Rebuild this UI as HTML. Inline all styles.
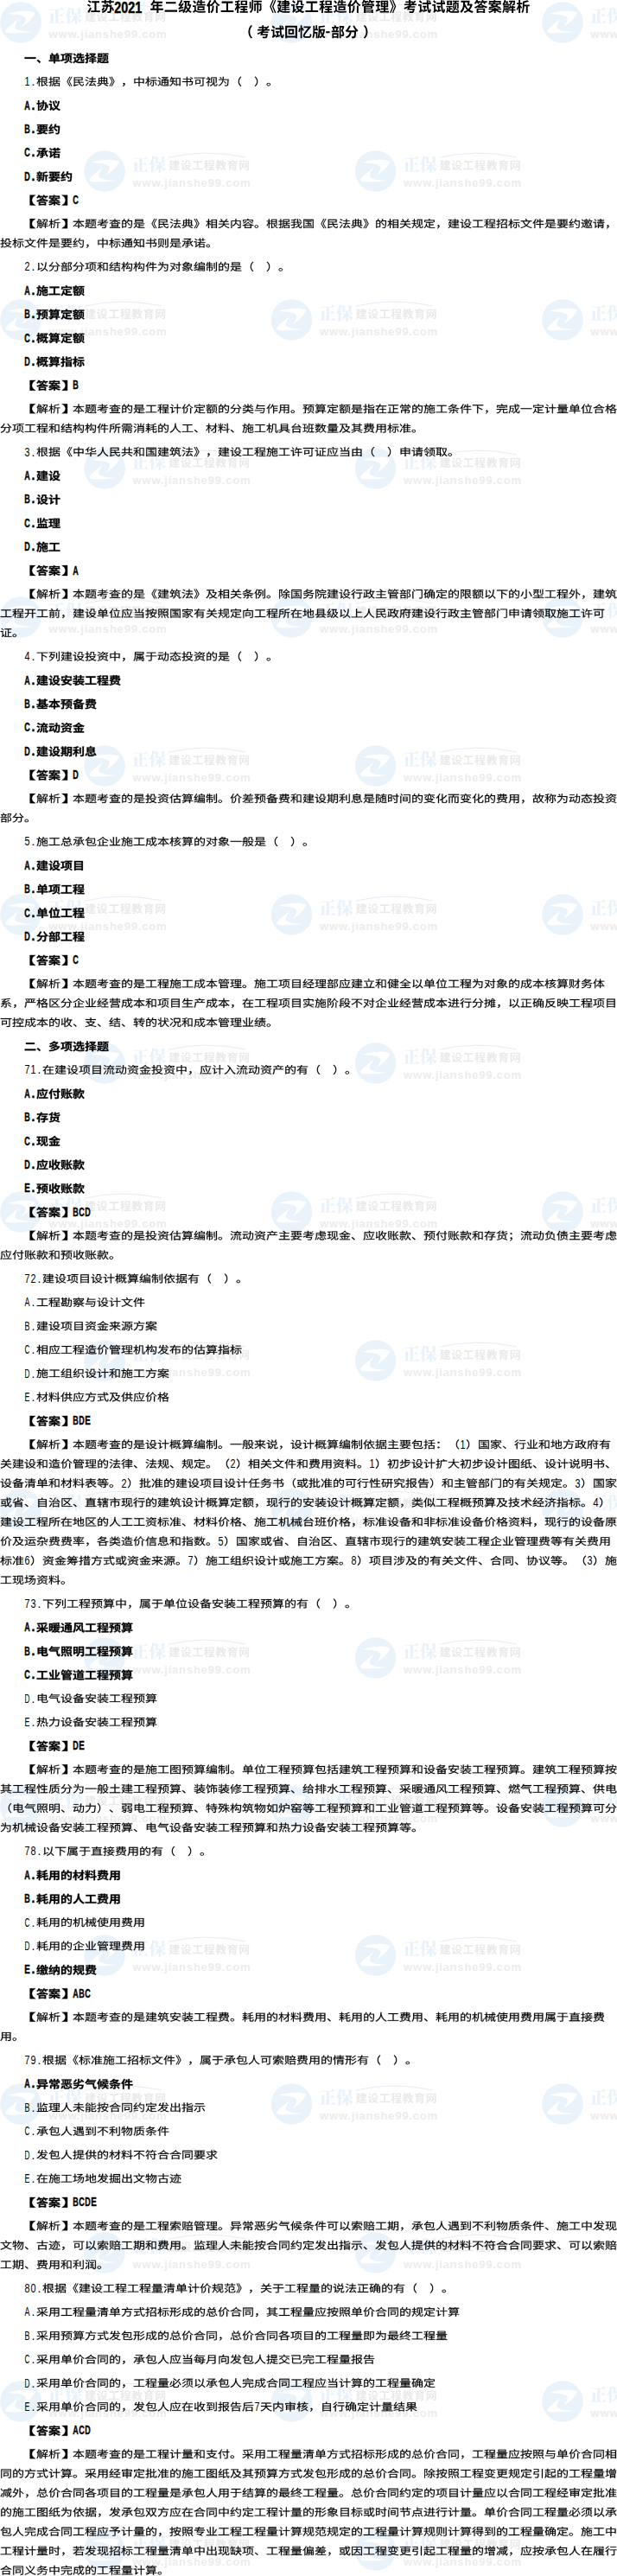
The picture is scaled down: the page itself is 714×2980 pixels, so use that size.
<!DOCTYPE html><html lang="zh-CN"><head><meta charset="utf-8"><title>江苏2021年二级造价工程师《建设工程造价管理》考试试题及答案解析</title><style>*{margin:0;padding:0}
html,body{width:714px;height:2980px;overflow:hidden;background:#fff}
svg{position:absolute;left:0;top:0;display:block}
text{font-family:"Liberation Sans",sans-serif}
.lr{font-size:14px;fill:#000}
.lb{font-size:14px;font-weight:700;fill:#000;stroke:#000;stroke-width:.4px}
.s{stroke:#000;stroke-width:1.5}
.k{stroke:#000;stroke-width:2}
.ww{font-size:13px;font-weight:700;letter-spacing:.8px;fill:#ececec}
</style></head><body><svg width="714" height="2980" viewBox="0 0 714 2980"><defs><path id="a" d="M4-46v14h92v-14z"/><path id="b" d="M26 7l10-9l-10-11l-12-11l-10 9l11 10z"/><path id="c" d="M25-42h19v7h-19zM56-42h19v7h-19zM25-58h19v7h-19zM56-58h19v7h-19zM68-84l-8 16h-22l4-2l-10-15l-10 5l8 12h-16v42h30v7h-39v11h39v17h12v-17h40v-11h-40v-7h31v-42h-14l9-12z"/><path id="d" d="M60-48v20l-1 8l-4 7l-9 7l-16 6l8 9l17-7l10-9l6-10l1-11v-20zM69-7l21 15l8-8l-22-14zM2-21l3 13l34-12l-2-10l-10 3v-36h10v-11h-33v11h11v39zM41-63v48h12v-37h26v36h12v-47h-23l4-7h24v-11h-58v11h20l-2 7z"/><path id="e" d="M4-75l9 8l6 8l10-7l-7-8l-8-8zM42-82l-5 13l-7 10l10 7l7-10h12v11h-27v11h16l-1 7l-4 6l-5 5l-8 4l7 10l10-6l7-7l4-9l2-10h7v24l2 4l3 3h6h13l3-3l2-5l1-8l-10-5l-1 10h-6l-1-3v-17h17v-11h-25v-11h21v-10h-21v-12h-12v12h-8l3-7zM27-46h-22v11h11v25l-13 10l8 10l8-8l4-3l3-1l9 5l12 4l15 1l32-1l3-12l-27 2l-22-1l-11-3l-10-6z"/><path id="f" d="M15-85v19h-11v11h11v17l-12 4l2 11l10-3v22l-1 2h-9l3 11l11-1l4-1l2-3l2-8v-25l10-3l-1-11l-9 2v-14h11v-11h-11v-19zM76-70l-10 9l-8-9zM40-81v11h6l5 7l7 7l-12 6l-11 4l6 9l13-5l12-6l12 6l13 5l8-10l-13-3l-11-5l10-11l7-12l-7-3zM60-42v8h-19v11h19v7h-24v10h24v15h12v-15h24v-10h-24v-7h18v-11h-18v-8z"/><path id="g" d="M20-61h14v5h-14zM20-73h14v5h-14zM9-81v33h37v-33zM68-52l-1 16l-3 11l-6 9l-12 5l5 8l14-7l8-10l4-14l1-18zM73-17l17 14l7-7l-17-13zM9-30l-1 19l-2 8l-4 6l8 6l3-4l3-11l7 7l9 4l10 2h13h39l4-10h-49l-16-2v-12h15v-8h-15v-8h17v-9h-46v9h19v23l-5-8l1-11zM53-64v42h9v-34h21v33h10v-41h-18l3-7h18v-10h-46v10h16l-2 7z"/><path id="h" d="M20-84v19h-15v7h15l-7 21l-9 17l4 8l6-13l6-16v49h7v-52l7 14l5-5l-12-18v-5h12v-7h-12v-19zM80-55v13h-30v-13zM80-61h-30v-12h30zM43 8l26-8v-6l-19 4v-34h10l5 15l7 12l8 9l11 7l5-6l-11-7l-9-9l18-12l-6-5l-15 11l-6-15h21v-44h-45v76l-1 4l-2 2z"/><path id="i" d="M48-24v32h7v-4h31v4h7v-32h-20v-12h23v-7h-23v-11h19v-26h-52l-1 43l-1 14l-4 14l-6 13l6 4l6-10l3-11l3-23h20v12zM47-73h38v13h-38zM47-54h19v11h-19zM55-2v-15h31v15zM17-84v20h-13v7h13v22l-14 4l2 7l12-3v26l-2 1h-9l2 7h9l3-1l3-3l1-4v-29l11-3l-1-7l-10 3v-20h11v-7h-11v-20z"/><path id="j" d="M81 7l-22-45l22-45l-6-2l-22 47l22 47zM96 7l-21-45l21-45l-5-2l-22 47l22 47z"/><path id="k" d="M11 8l36-11l-1-7l-27 7v-24h31l5 13l7 11l9 7l9 3l5-1l4-3l2-6l1-9l-6-3l-1 8l-2 5l-2 2l-7-2l-6-6l-6-8l-4-11h32v-7h-34l-3-16h30v-29h-71v73l-2 5l-3 3zM48-34h-29v-16h27zM19-72h56v15h-56z"/><path id="l" d="M10-78l10 6l8 6l5-6l-9-6l-10-5zM4-50l10 5l9 5l4-6l-9-5l-10-5zM8 2l6 5l4-8l14-25l-5-5zM39 4l9-1l35-5l5 10l6-4l-7-13l-11-15l-6 3l9 13l-31 3l9-14l8-15h29v-8h-27v-18h23v-7h-23v-17h-7v17h-22v7h22v18h-26v8h22l-11 21l-6 8l-3 2z"/><path id="m" d="M59-9l28 17l7-5l-13-9l-16-8zM34-14l-13 9l-16 8l6 5l16-8l14-9zM36-23h-15v-18h15zM43-23v-18h14v18zM64-23v-18h15v18zM14-72v49h-10v7h92v-7h-9v-49h-23v-12h-7v12h-14v-12h-7v12zM36-48h-15v-17h15zM43-48v-17h14v17zM64-48v-17h15v17z"/><path id="n" d="M19 7l6 2l22-47l-22-47l-6 2l22 45zM4 7l5 2l22-47l-22-47l-5 2l21 45z"/><path id="o" d="M16 11l7-4l5-5l4-6l1-8l-1-6l-3-4l-5-2l-3 1l-3 3l-1 4l1 4l3 2l5 1l-1 4l-3 4l-3 4l-5 2z"/><path id="p" d="M46-84v18h-36v47h7v-6h29v33h8v-33h28v6h8v-47h-36v-18zM17-32v-27h29v27zM82-32h-28v-27h28z"/><path id="q" d="M47-76v7h43v-7zM78-32l7 16l4 14l7-2l-5-15l-7-15zM49-34l-5 15l-8 13l6 4l8-14l6-17zM42-52v7h22v43l-2 2h-12l3 8l14-2l3-3l1-5v-43h25v-7zM20-84v21h-15v7h14l-7 19l-10 15l5 8l7-13l6-15v50h8v-52l9 14l4-6l-13-17v-3h13v-7h-13v-21z"/><path id="r" d="M6-76l18 18l5-6l-17-16zM26-46h-22v7h14v28l-7 5l-7 7l5 6l7-9l3-3l3-1l15 9l7 2l16 1l35-1l2-8l-28 2l-24-1l-6-1l-6-3l-7-5zM36-80v6h43l-15 8l-14-6l-5 5l20 8h-29v52h7v-17h17v16h7v-16h17v9l-1 2h-10l2 6l13-1l3-2l1-5v-44h-13l-8-4l11-6l10-8l-5-4zM84-53v9h-17v-9zM43-39h17v9h-17zM43-44v-9h17v9zM84-39v9h-17v-9z"/><path id="s" d="M55-75v80h7v-8h21v7h8v-79zM62-10v-58h21v58zM16-84l-5 18l-8 14l6 4l9-16h7v20h-21v8h21l-2 10l-4 10l-6 9l-10 9l6 6l7-7l6-7l4-8l3-8l17 21l5-7l-20-22l1-6h20v-8h-19v-20h16v-7h-29l3-12z"/><path id="t" d="M72-76l18 14l5-5l-19-14zM13-66v7h29v19h-36v8h36v40h7v-40h37l-2 16l-2 6l-4 1h-15l2 7h15l5-1l3-2l2-3l2-6l3-26h-15v-26h-31v-18h-7v18zM49-40v-19h24v19z"/><path id="u" d="M6-77v8h69v66l-3 3h-19l3 8l18-1l6-2l2-3v-5v-66h13v-8zM23-48h26v24h-26zM16-55v46h7v-8h34v-38z"/><path id="v" d="M45-79v53h7v-46h31v46h8v-53zM15-80l10 13l6-4l-10-13zM64-65l-1 32l-4 13l-9 12l-15 10l5 6l10-6l8-8l5-7l4-8v19l1 5l3 3h15h5l3-4l2-6v-9l-6-3l-1 14l-1 2l-10 1l-3-1l-1-3v-25h-5l2-12v-25zM6-67v7h24l-5 10l-6 8l-7 8l-8 6l3 8l12-11v39h7v-43l10 13l5-6l-13-14l7-11l5-11l-4-3z"/><path id="w" d="M16-78l11 15l7-3l-11-15zM50-37l8 10l6 10l6-4l-6-9l-8-10zM41-84v24h-33v8h32l-3 13l-6 14l-10 14l-15 12l5 6l17-14l10-15l7-15l3-15h34l-2 36l-2 10l-2 4l-4 2l-16-1l3 8h16l4-1l4-3l3-6l1-10l3-47h-42l1-24z"/><path id="x" d="M70-38l1 14l4 13l6 11l8 10l6-4l-7-9l-6-11l-4-11l-1-13l1-13l4-11l6-11l7-9l-6-4l-8 10l-6 11l-4 13z"/><path id="y" d="M30-38l-1-14l-4-13l-6-11l-8-10l-6 4l7 9l6 11l4 11l1 13l-1 13l-4 11l-6 11l-7 9l6 4l8-10l6-11l4-13z"/><path id="z" d="M19-24l-5 1l-5 3l-4 5l-1 6l1 6l4 5l5 3l5 1l6-1l5-3l4-5l1-6l-1-6l-4-5l-5-3zM19 1l-5-1l-3-4l-2-5l2-5l3-4l5-1l6 1l3 4l2 5l-2 5l-3 4z"/><path id="A" d="M36-48l-3 13l-6 11l9 6l6-12l5-16zM14-85v24h-10v11h10v59h11v-59h10v-11h-10v-24zM52-84v18h-15v11h15l-1 14l-4 15l-7 14l-12 13l9 8l13-15l8-16l4-17l2-16h9l-1 37l-1 9l-2 4l-3 2l-12-1l4 12l13-1l5-1l3-4l2-4l1-8l2-28l4 22l11-2l-7-30l-8 2v-20h-20v-18z"/><path id="B" d="M53-80l5 11l3 11l11-4l-4-11l-5-11zM9-77l11 17l10-7l-12-16zM80-78l-5 27l-5 12l-6 11l-6-11l-5-11l-6-27l-11 1l3 17l5 16l5 13l7 12l-11 10l-14 8l7 10l14-8l12-10l12 10l14 8l9-11l-15-7l-12-10l8-13l5-14l4-15l4-16zM4-54v11h12v30l-1 5l-4 7l6 8l25-19l-4-10l-10 7v-39z"/><path id="C" d="M63-21l-9 9l-18-4l4-5zM11-65v28h25l-3 5h-29v11h22l-9 11l22 5l-15 2l-18 2l4 10l26-3l11-3l9-4l28 10l9-10l-26-7l4-4l6-9h19v-11h-49l2-4l-5-1h46v-28h-24v-6h28v-10h-88v10h26v6zM44-71h11v6h-11zM22-56h10v9h-10zM44-56h11v9h-11zM66-56h12v9h-12z"/><path id="D" d="M3-7l2 11l38-7v-11zM48-38l10 10l8 11l9-8l-8-10l-11-10zM6-41l13-3l-8 10l-4 5l-4 2l4 10l8-2l27-5l-1-10l-19 2l11-12l9-14l-10-6l-6 10l-9 1l9-13l7-14l-11-5l-11 23l-6 8l-3 2zM54-85l-6 20l-4 9l-5 7l10 7l8-14h25l-2 38l-1 9l-2 5l-4 2l-14-1l2 4l1 7h16l5-1l4-4l3-6l3-31l1-33h-33l5-16z"/><path id="E" d="M28-23v10h16v8l-2 2h-13l4 11l15-1l6-3l2-4l1-13h15v-10h-15v-6h10v-10h-10v-5h9v-10h-9v-3l14-9l11-11l-8-6l-55 1v10h41l-16 10v8h-9v10h9v5h-11v10h11v6zM6-61v11h15l-3 13l-4 11l-6 9l-6 8l9 9l8-10l6-14l6-16l3-19l-7-2zM76-63l-10 1l3 19l5 16l6 15l9 11l9-10l-5-5l-5-6l-6-16l14-16l-9-8l-8 12z"/><path id="F" d="M8-76l16 16l8-8l-16-15zM4-54v11h11v29l-1 6l-5 8l7 7l21-15l-2-8l3 4l7-6v27h11v-4h24v4h12v-38h-38l6-9h37v-11h-33l2-9l-8-1v-6h14v7h11v-7h13v-11h-13v-9h-11v9h-14v-9h-12v9h-13v11h13v7h8l-2 9h-20v11h15l-8 10l-9 8l3 2l-6 4v-40zM56-5v-13h24v13z"/><path id="G" d="M11-22l-5 10l-3 4l7 6l6-8l5-10zM35-19l8 15l8-5l-4 10l9 7l5-11l3-12l2-26h10v49h11v-49h10v-11h-31v-16l15-3l13-4l-9-9l-14 5l-16 4v42l-2 16l-2 8l-8-14zM20-65h15l-4 12h-12l5-1zM20-83l2 8h-17v10h14l-8 2l3 10h-10v10h19v8h-19v10h19v21l-1 2l-8-1l3 10h9l4-1l3-4l1-6v-21h16v-10h-16v-8h18v-10h-10l4-11l-9-1h13v-10h-16l-4-11z"/><path id="H" d="M97-85h-31v94h31l-7-9l-7-10l-4-13l-2-15l2-15l4-13l7-10z"/><path id="I" d="M48-62l-8 9l-11 7l-12 7l-14 5l7 10l20-9v4h40v-6l20 9l8-10l-11-4l-22-9l-9-5l3-3zM40-39l10-8l12 8zM20-24v33h12v-3h36v3h12v-33zM32-4v-10h36v10zM18-86l-7 14l-9 11l10 6l10-12h2l5 12l11-4l-4-8h13v-10h-22l3-6zM59-86l-5 12l-7 9l10 6l6-8h4l7 12l11-4l-5-8h15v-10h-27l2-6z"/><path id="J" d="M5-24v10h30l-15 8l-18 4l8 10l18-6l16-10v17h12v-18l16 10l19 7l7-10l-18-5l-15-7h31v-10h-40v-6h-12v6zM41-82l2 4h-36v15h11v-5h22l-5 7h-30v9h22l-10 10l19 3l-14 3l-16 1l4 9l25-3l19-6l29 9l10-8l-27-8l9-10h20v-9h-47l4-5l-8-2h38v5h11v-15h-38l-4-8zM62-52l-9 8l-18-4l4-4z"/><path id="K" d="M34 9v-94h-31l7 9l7 10l4 13l2 15l-2 15l-4 13l-7 10l-7 9z"/><path id="L" d="M26-53v12h-9v-12zM32-53h9v12h-9zM16-59l5-10h13l-4 10zM19-84l-6 18l-5 7l-5 7l6 4l2-2v27l-1 10l-3 9l-4 9l6 3l5-11l2-13h10v19h6v-19h9v15l-2 2h-7l2 6h6l4-1l2-3l1-3v-59h-11l7-13l-5-3h-15l3-8zM26-35v13h-9v-13zM32-35h9v13h-9zM58-46l-3 12l-6 10l6 4l5-10h11v12h-20v7h20v19h7v-19h18v-7h-18v-12h15v-7h-15v-9h-7v9h-8l2-8zM51-79v6h14l-2 7l-3 6l-5 5l-6 5l4 5l8-5l5-7l4-7l2-9h14l-1 13l-1 5l-3 1h-9l2 6h10l3-1l2-2l3-7l1-21z"/><path id="M" d="M48-73v42l-1 12l-3 12l-6 11l6 4l6-12l3-13l2-26h19v51h7v-51h15v-7h-41v-18l19-4l16-5l-6-6l-16 6zM21-84v21h-15v8h14l-7 21l-5 9l-5 7l4 7l7-12l7-16v47h7v-49l9 15l5-6l-14-18v-5h15v-8h-15v-21z"/><path id="N" d="M46-84v21h-40v8h31l-7 12l-8 12l-9 10l-9 7l5 6l11-9l9-11l9-13l6-14h2v37h-23v7h23v19h8v-19h23v-7h-23v-37h1l7 14l8 13l10 11l11 9l5-7l-10-7l-9-10l-8-11l-6-12h31v-8h-40v-21z"/><path id="O" d="M18-62h20v8h-20zM18-74h20v7h-20zM11-80v32h34v-32zM70-53l-2 17l-3 13l-7 9l-12 6l3 5l14-7l8-10l4-14l1-19zM73-19l18 16l4-5l-18-15zM12-30l-2 19l-3 8l-4 7l6 4l4-8l3-10l8 8l10 5l13 2l47 1l2-7h-43l-15-1l-6-2v-15h16v-5h-16v-11h18v-6h-45v6h20v27l-5-6l-2-4l1-12zM54-64v42h6v-36h24v36h7v-42h-19l4-9h20v-6h-46v6h18l-3 9z"/><path id="P" d="M84-79l-12 13l-14 12h-9v-12h22v-6h-22v-12h-7v12h-26v6h26v12h-35v6h41l-21 12l-23 10l4 7l26-13l-7 16h44l-1 8l-2 5l-2 3l-5 1l-18-1l2 7h18h5l4-2l4-8l4-19h-42l4-10h42v-6h-39l15-10h34v-6h-26l11-11l10-11z"/><path id="Q" d="M30-22h40v9h-40zM30-35h40v8h-40zM22-41v33h56v-33zM7-2v7h86v-7zM46-84v13h-40v6h32l-7 7l-9 6l-9 6l-9 4l4 6l11-5l10-7l9-8l8-8v20h7v-20l8 8l10 8l10 6l10 5l5-6l-9-4l-10-5l-8-6l-7-7h32v-6h-41v-13z"/><path id="R" d="M55-42l15 23l7-4l-16-23zM24-84l-4 16h-11v73h7v-7h28v-66h-17l5-15zM16-61h21v21h-21zM16-9v-25h21v25zM60-84l-7 20l-4 9l-5 7l7 4l9-17h26l-3 43l-1 11l-2 5l-5 1h-15l3 7h15l4-1l4-3l2-6l2-12l2-19l1-33h-30l4-15z"/><path id="S" d="M24-61h52v9h-52zM24-74h52v8h-52zM16-80v33h67v-33zM23-30l-3 10l-4 9l-5 8l-7 6l5 5l9-8l7-11l7 9l9 5l11 2l42 1l2-7l-41-1v-13h33v-7h-33v-11h39v-7h-88v7h41v30l-6-2l-5-3l-5-5l-3-6l3-10z"/><path id="T" d="M55-47h30v17h-30zM55-54v-17h30v17zM55-23h30v17h-30zM47-78v85h8v-6h30v6h8v-85zM21-84v21h-16v8h15l-7 21l-5 9l-5 7l4 7l8-13l6-16v48h8v-46l10 15l5-7l-15-16v-9h14v-8h-14v-21z"/><path id="U" d="M22-80l6 9l4 8h-19v8h33v18h-39v7h37l-3 8l-8 8l-11 8l-17 7l5 7l17-7l12-8l8-9l5-8l7 10l9 9l10 7l13 5l5-7l-13-4l-11-7l-9-9l-7-10h38v-7h-40l1-18h33v-8h-20l11-18l-8-3l-11 21h-27l6-3l-4-9l-6-8z"/><path id="V" d="M10-67v75h7v-68h29l-1 11l-4 11l-8 10l-13 10l5 6l9-6l7-7l5-7l4-7l14 13l10 12l6-4l-12-14l-16-14l2-14h29v58l-3 2h-16l3 8l16-1h3l3-3l1-6v-65h-36v-17h-8v17z"/><path id="W" d="M33-63l-11 10l-13 9l5 5l14-9l12-13zM59-59l14 10l12 10l5-5l-12-10l-14-9zM50-54l-9 10l-11 10l-13 8l-13 6l5 6l13-7v29h7v-3h41v3h8v-30l13 7l5-7l-23-11l-10-7l-9-9l2-3zM29-2v-17h41v17zM30-26l11-8l9-10l11 10l11 8zM43-83l4 8h-39v18h8v-11h68v11h8v-18h-36l-5-10z"/><path id="X" d="M70-77l9 8l7 9l6-5l-16-16zM83-43l-6 10l-7 9l-4-23h29v-7h-30l-1-29h-8l1 29h-23v-18l17-4l-5-7l-18 5l-22 4l2 7l19-3v16h-21v7h21v17l-23 5l2 7l21-4v20l-2 3l-14-1l2 8h13l4-1l4-3v-6v-22l19-4l-1-7l-18 4v-16h24l6 29l-12 9l-12 7l5 6l11-6l10-8l4 7l4 6l5 4l6 1l5-1l3-3l2-7l1-10l-6-4l-1 14l-2 3l-1 1l-4-1l-4-4l-6-12l10-12l8-12z"/><path id="Y" d="M59-32l10 11l5-3l-10-11zM23-20v7h55v-7h-25v-16h20v-7h-20v-14h23v-7h-52v7h22v14h-19v7h19v16zM9-80v88h7v-5h68v5h7v-88zM16-4v-68h68v68z"/><path id="Z" d="M48-79v53h7v-46h27v46h8v-53zM21-83v16h-15v7h15v16h-17v7h16l-1 10l-3 11l-5 9l-7 9l5 5l6-7l5-7l6-17l12 17l6-5l-17-20l1-5h15v-7h-15v-16h14v-7h-14v-16zM65-64l-1 31l-4 13l-8 12l-15 10l5 6l10-7l7-7l6-8l4-8v19v6l3 2l14 1l5-1l3-3l1-6l1-10l-6-3l-1 14l-1 2l-9 1l-3-1l-1-3v-25h-4l1-11v-24z"/><path id="ba" d="M22-38l-2 13l-4 11l-5 10l-7 7l6 5l8-10l7-12l8 10l10 6l12 4h38l3-7h-32l-10-1v-20h30v-8h-30v-16h26v-7h-59v7h25v42l-6-3l-5-4l-4-6l-3-7l2-13zM43-83l4 10h-39v22h8v-15h68v15h8v-22h-36l-6-12z"/><path id="bb" d="M39-76v6h19v8h-25v6h25v8h-19v6h19v8h-20v5h20v8h-24v6h24v10h7v-10h29v-6h-29v-8h25v-5h-25v-8h23v-14h6v-6h-6v-14h-23v-8h-7v8zM65-56h16v8h-16zM65-62v-8h16v8zM10-39l4-3h12l-3 12l-3 11l-7-15l-5 2l4 11l5 8l-6 9l-7 7l5 5l7-7l6-8l8 6l11 4l11 2l41 1l3-7l-43-1l-11-2l-9-3l-8-6l5-16l3-19l-4-1h-10l15-27l-5-3l-2 1h-21v7h18l-11 19l-3 5l-3 2z"/><path id="bc" d="M12-78l15 16l5-5l-15-15zM4-53v8h14v35l-1 6l-4 4l5 6l22-17l-3-7l-11 9v-44zM49-80v16l-3 6l-4 6l-8 4l5 6l8-6l6-7l2-7l1-11h18l1 22l2 3l5 1h13l-1-7l-11 1l-2-4v-23zM80-33l-6 11l-9 9l-9-9l-7-11zM38-40v7h6l-2 1l7 13l10 10l-12 7l-13 4l4 6l14-5l13-7l12 7l15 5l4-6l-13-4l-12-7l11-12l5-8l3-9l-4-2z"/><path id="bd" d="M5-7v7h90v-7h-41v-58h36v-8h-80v8h36v58z"/><path id="be" d="M53-73h30v18h-30zM46-80v32h45v-32zM45-21v7h19v13h-26v6h58v-6h-24v-13h20v-7h-20v-12h22v-7h-52v7h22v12zM36-83l-14 5l-18 4l2 5l15-2v15h-16v7h15l-8 18l-9 14l4 7l7-12l7-14v44h8v-43l9 12l4-6l-13-14v-6h12v-7h-12v-17l12-4z"/><path id="bf" d="M17-84v20h-13v7h13v22l-14 4l2 7l12-3v26l-2 2h-9l2 7l9-1l3-1l3-2l1-5v-29l12-4l-1-6l-11 3v-20h12v-7h-12v-20zM42-33v41h7v-5h34v5h8v-41zM49-4v-22h34v22zM39-79v7h17l-2 9l-3 8l-6 7l-9 5l4 6l11-6l6-9l4-9l3-11h20l-1 18l-2 7l-3 1l-10-1l2 7h11h4l2-2l2-4l1-6l2-27z"/><path id="bg" d="M42-82l8 15l8-2l-8-16zM5-66v7h16l10 21l6 10l8 8l-9 6l-10 6l-22 9l4 7l23-10l10-6l9-7l9 7l10 6l11 5l12 4l5-7l-12-3l-10-5l-10-5l-9-7l7-8l6-9l11-22h15v-7zM50-25l-12-16l-10-18h43l-9 19z"/><path id="bh" d="M32-34v7h28v35h8v-35h27v-7h-27v-22h23v-8h-23v-19h-8v19h-13l3-14l-7-1l-5 19l-7 15l6 4l8-15h15v22zM27-84l-11 22l-6 10l-7 8l5 8l9-12v56h7v-68l10-22z"/><path id="bi" d="M67-23l-6 8l-8 6l-22-5l7-9zM12-64v25h27l-5 9h-29v7h24l-10 13l24 5l-16 4l-21 2l3 7l25-4l11-3l9-3l32 10l6-6l-30-9l8-7l6-9h19v-7h-53l5-8l-5-1h47v-25h-24v-9h28v-7h-86v7h27v9zM41-73h17v9h-17zM19-58h15v13h-15zM41-58h17v13h-17zM65-58h16v13h-16z"/><path id="bj" d="M4-5l1 7l38-8l-1-6zM50-42l11 12l8 10l6-4l-9-11l-11-11zM6-42l17-3l-11 13l-4 5l-4 2l3 7l34-7v-7l-24 4l13-15l11-16l-7-4l-6 11l-14 2l9-15l9-16l-7-3l-13 24l-6 9l-2 1zM57-84l-7 20l-9 16l6 4l9-15h29l-2 43l-2 10l-2 5l-4 2l-14-1l2 7l11 1l8-2l4-3l2-6l2-11l2-52h-34l6-16z"/><path id="bk" d="M37-59h17v6h-17zM37-70h17v6h-17zM7-76l8 9l5 8l7-4l-6-8l-8-9zM40-46l3 4h-15v6h10l-3 14l-3 6l-4 4l4 5l7-8l3-10h12l-2 11l-9 1l2 5h7l5-2l2-5l1-15h-17l1-6h19v-6h-13l-4-6h14v1l5 4l7-19h12l-3 20l-2 5l-8-11l-5 3l10 15l-6 11l-10 9l5 5l8-8l7-10l8 15l6-4l-10-18l4-15l3-17h4v-6h-21l3-15l-6-1l-4 20l-7 16v-27h-13l4-8l-8-1l-2 9h-10v27h15zM24-47h-19v7h12v28l-4 2l-9 9l5 7l6-9l5-4l16 9l6 2l16 1l36-1l2-8l-28 2l-25-1l-6-1l-5-3l-8-5z"/><path id="bl" d="M11-77l15 15l5-5l-15-15zM4-53v8h15v36l-2 6l-3 3l4 6l21-17l-2-6l-11 7v-43zM49-21h32v8h-32zM49-26v-8h32v8zM61-84v8h-23v6h23v6h-20v6h20v6h-26v6h61v-6h-27v-6h21v-6h-21v-6h24v-6h-24v-8zM42-40v48h7v-16h32v8l-2 1h-11l2 7l11-1l3-1l3-2l1-4v-40z"/><path id="bm" d="M18-84v20h-13v7h13v22l-15 4l3 7l12-4v26l-2 2h-10l2 7h11l3-1l3-3l1-5v-28l10-3l-1-7l-9 3v-20h12v-7h-12v-20zM47-80v16l-2 6l-4 5l-7 5l5 6l8-6l5-7l2-7v-11h18l1 22l2 3l5 1h14v-7l-13 1l-2-4v-23zM79-33l-7 11l-9 8l-9-8l-6-11zM38-40v7h4l-2 1l4 6l4 6l9 11l-13 6l-14 4l3 7l16-5l14-7l13 7l15 5l5-7l-14-4l-13-6l12-13l4-7l4-9l-5-2z"/><path id="bn" d="M32-11l18 17l5-6l-18-16zM10-79v61h7v-54h29v54h8v-61zM83-83v80l-2 3h-16l3 8l11-1l7-1l4-3l1-6v-80zM65-75v60h7v-60zM28-65l-1 39l-3 10l-7 10l-13 8l5 6l14-9l7-11l4-13l1-11v-29z"/><path id="bo" d="M29-20v6h18v12l-2 2h-15l3 7l13-1h4l4-3v-5v-12h18v-6h-18v-10h14v-6h-14v-9h12v-6h-12v-6l15-9l13-10l-5-4h-57v7h47l-9 7l-11 5v10h-12v6h12v9h-14v6h14v10zM7-58v7h19l-4 14l-5 12l-6 11l-7 8l6 5l8-10l7-12l5-16l4-18l-4-1zM74-61l-7 1l3 18l5 16l7 13l9 11l6-6l-6-6l-5-7l-7-16l16-17l-6-5l-12 15z"/><path id="bp" d="M10-77l15 15l5-5l-15-14zM73-84v11h-17v-11h-7v11h-15v6h15v10h7v-10h17v10h8v-10h14v-6h-14v-11zM57-59l-4 12h-20v7h17l-8 12l-11 10l6 6l9-9v29h7v-4h30v4h7v-36h-39l7-12h38v-7h-35l3-10zM53-3v-18h30v18zM4-53v8h14v34l-1 5l-5 6l5 5l19-13l-2-7l-9 6v-44z"/><path id="bq" d="M37-71l9 12l6 12l7-4l-6-12l-9-12zM76-80l-3 30l-6 23l-13 17l-19 12l5 7l10-5l8-6l6-7l6-7l11 12l9 12l7-5l-11-13l-13-13l5-12l3-13l3-32zM14-2l8-5l27-13l-2-7l-23 11v-60h-8v59l-1 4l-5 5z"/><path id="br" d="M67-82l-7 3l14 22l8 10l8 8l6-7l-8-7l-8-9l-7-10zM32-82l-5 11l-6 10l-8 9l-9 8l7 6l8-8v7h19l-3 13l-5 11l-9 10l-15 7l5 6l16-8l10-11l6-13l3-15h27l-2 27l-1 7l-2 4l-4 1l-15-1l2 8h12l8-1l4-3l2-4l2-9l2-36h-62l12-16l9-18z"/><path id="bs" d="M14-63l6 17l7-2l-2-8l-4-8zM63-79v87h6v-80h17l-11 27l6 7l3 6l2 5v10l-2 3l-4 1l-8-1l2 8h9l6-2l3-4l1-4v-11l-2-6l-3-6l-6-7l13-30l-5-3zM25-83l4 11h-21v7h47v-7h-18l-6-12zM43-65l-7 20h-31v7h53v-7h-15l8-18zM11-29v36h7v-4h27v4h8v-36zM18-4v-18h27v18z"/><path id="bt" d="M62-50v21l-1 8l-4 9l-9 7l-16 7l5 6l17-8l10-9l4-10l1-10v-21zM69-9l12 8l10 9l5-5l-10-9l-12-8zM3-18l2 7l33-11l-1-6l-12 3v-40h11v-7h-31v7h12v43zM42-62v47h7v-41h33v40h7v-46h-23l4-11h26v-7h-58v7h23l-3 11z"/><path id="bu" d="M53-75v79h7v-9h23v8h7v-78zM60-12v-56h23v56zM44-83l-17 5l-21 3l2 6l17-2v17h-20v7h18l-9 18l-11 16l4 7l9-14l9-17v45h7v-44l12 17l5-6l-17-20v-2h18v-7h-18v-19l17-4z"/><path id="bv" d="M4-5l1 7l36-8l-1-6zM6-43l16-2l-10 13l-5 4l-3 2l2 8l34-8v-6l-22 3l11-14l11-16l-7-4l-6 11l-13 1l8-14l8-15l-8-3l-11 23l-5 8l-3 2zM64-84v13h-23v8h23v15h-21v7h50v-7h-21v-15h22v-8h-22v-13zM46-30v38h7v-4h30v4h7v-38zM53-3v-21h30v21z"/><path id="bw" d="M52-84l-7 20l-4 8l-5 7l6 5l9-17h35l-2 44l-2 11l-2 5l-3 2l-13-1l3 8h9l8-1l3-3l2-6l2-12l3-54h-40l5-14zM63-38l5 12l-18 3l7-13l6-16l-8-2l-8 24l-4 8l-2 2l2 6l27-6l2 7l6-3l-9-24zM20-84v19h-15v7h14l-7 21l-4 10l-5 7l4 8l7-13l6-16v49h7v-52l8 15l4-6l-12-18v-5h12v-7h-12v-19z"/><path id="bx" d="M50-39l7 11l4 11l7-3l-5-11l-7-11zM9-45l19 18l-11 17l-6 7l-7 5l6 6l13-12l10-16l11 15l6-5l-14-18l6-19l4-23l-5-1h-34v7h31l-3 16l-4 14l-17-16zM76-84v24h-28v7h28v51l-2 2h-14l3 8l13-1l4-1l3-3l1-5v-51h12v-7h-12v-24z"/><path id="by" d="M34-84l-11 13l-8 6l-10 6l5 5l6-4v17h17l-12 6l-15 4l4 6l15-5l12-7l7 5l-16 8l-18 6l4 6l18-7l16-9l4 5l-9 6l-11 6l-24 8l5 6l22-9l20-11l1 5v4l-2 4l-2 3l-7 1h-9l2 7l14-1l5-2l4-4l2-6v-7l-3-8l6-3l9 15l7 7l8 5l5-7l-8-4l-6-6l-5-6l-4-7l14-8l-6-5l-22 14l-7-8l-9-7h43v-23h-27l8-10l-5-4l-23 1l4-6zM32-71h23l-6 7h-25zM23-58h27l-9 11h-18zM57-58h21v11h-29z"/><path id="bz" d="M4-5l2 7l29-12l-2-6zM6-42l14-3l-8 13l-4 5l-4 2l3 7l27-8l-1-6l-16 4l10-15l9-17l-6-3l-6 11l-11 2l9-15l7-17l-7-2l-11 24l-5 9l-2 2zM62-35v15h-8v-15zM68-35h7v15h-7zM48-41v48h6v-21h8v19h6v-19h7v19h5v-19h7v15l-1 1h-5l2 5l8-1l2-2v-3v-42zM80-35h7v15h-7zM60-83l5 10h-24v34l-1 14l-3 14l-6 13l6 4l6-13l3-15l2-28h44v-23h-19l-5-12zM48-67h37v11h-37z"/><path id="bA" d="M68-75v56h7v-56zM85-83v81l-2 2h-13l2 8l16-2l4-3l1-5v-81zM14-82l-4 15l-6 12l7 3l5-11h13v11h-25v7h25v10h-20v35h7v-28h13v36h7v-36h14v20l-1 2h-9l2 6l12-1l2-3l1-4v-27h-21v-10h24v-7h-24v-11h20v-7h-20v-14h-7v14h-11l3-10z"/><path id="bB" d="M17-83l4 13h-17v11h9l-2 34l-3 14l-6 11l9 9l5-10l4-11l4-25h8l-1 25l-2 8l-3 2h-7l3 10h10l4-1l3-3l2-11l1-41h-18l1-11h19l-4 4l9 8l1-1v11l-8 4l4 10l4-2l1 26l2 5l5 2l25 1l6-1l5-3l2-5l2-8l-10-4l-1 7l-2 3l-3 1h-15l-5-1l-1-4v-24l6-3v24h10v-28l6-3v16l-2 1h-3l2 9l8-1l3-3l2-4v-30l-7-2l-9 5v-10h-10v15l-6 2v-10h-8l6-9h37v-11h-32l3-11l-12-2l-4 14l-7 11v-10h-18l7-2l-5-13z"/><path id="bC" d="M4-10v12h92v-12h-40v-52h34v-13h-80v13h33v52z"/><path id="bD" d="M20-38l-2 12l-3 11l-5 9l-7 7l9 8l8-8l6-11l7 9l10 5l11 3l38 1l5-13h-41v-15h28v-11h-28v-12h22v-11h-56v11h22v34l-8-6l-6-10l2-12zM41-83l3 9h-37v25h12v-14h62v14h12v-25h-35l-5-12z"/><path id="bE" d="M74-6l18 15l6-9l-18-14zM52-60v47h10v-38h21v37h10v-46h-18l4-9h17v-10h-44v10h16l-3 9zM13-39l5 2l-15 6l4 11l5-1v29h10v-2h13v2h11v-6l4 8l15-9l9-11l3-16l1-22h-10l-1 19l-2 13l-7 10l-12 7v-24h-2l8-7l-14-8l6-8l5-8l-6-4h7v-17h-15l-4-10l-12 3l3 7h-18v17h11v-8h24v8h-12l3-4l-11-2l-7 9l-10 8l6 8l12-10h14l-6 6l-7-3zM22-4v-10h13v10zM16-23l14-8l13 8z"/><path id="bF" d="M65-48l-1 26l-3 8l-8 8l-13 6l8 8l14-8l9-9l4-10l1-10v-19zM72-7l17 16l9-8l-18-15zM7-58l16 10h-20v11h15v33l-2 1h-11l4 12l11-1l4-1l3-3l2-3v-38h6l-3 12l8 2l4-11l4-12l-8-2h-6l3-3l-8-5l9-10l7-10l-7-5h-33v11h23l-7 9l-8-5zM49-63v48h11v-38h22v37h11v-47h-18l3-8h19v-10h-51v10h19l-1 8z"/><path id="bG" d="M28-44h45v4h-45zM28-34h45v4h-45zM28-54h45v3h-45zM58-86l-4 8l-5 8v-8h-23l3-5l-11-3l-7 11l-9 9l10 7l8-10h2l4 7h-10v39h13v6h-24v10h20l-7 4l-12 3l8 9l10-3l7-4l5-5l3-4h23v16h12v-16h21v-10h-21v-6h12v-39h-9l7-3l-4-4h15v-9h-27l2-5zM62-17h-21v-6h21zM52-62h-21l6-2l-2-5h12l-3 3zM56-62l6-7h5l6 7z"/><path id="bH" d="M13-85v20h-9v11h9l-4 19l-7 16l5 11l6-15v32h11v-44l4 11l6-10v16l-1 5l-4 6l5 7l5-3l14-10l2 5l8-4l-9-20l-7 3l3 8l-7 4v-18h16v-8l3 8l3-1h8l-3 10l-5 10l-6 10l-8 10l9 5l9-11l6-12l1 17l1 3l3 1l3 1h5l5-2l3-4v-13l-6-4v11l-1 2h-4l-1-30h-2l1-4h13v-10h-12l2-24h9v-10h-33v10h15v11l-2 13h-5l4-19h-10l-3 19l-2 3v-37h-25v45l-10-17v-2h8v-11h-8v-20zM50-54v9h-7v-9zM50-62h-7v-8h7z"/><path id="bI" d="M82-81l-12 5l-15 4v-13h-12v27l1 8l3 4l5 3h28l8-1l4-2l3-6l2-9l-11-4l-1 7l-2 4h-3h-18h-5l-2-4v-4l19-4l17-6zM54-12h26v7h-26zM54-21v-6h26v6zM43-37v46h11v-4h26v3h12v-45zM16-85v19h-12v11h12v18l-14 3l3 12l11-3v21l-2 2h-9l3 11l12-1l4-1l2-3l2-3v-5v-24l12-4l-2-11l-10 3v-15h10v-11h-10v-19z"/><path id="bJ" d="M47-79v11h44v-11zM77-32l6 17l4 15l10-4l-3-15l-7-16zM46-34l-4 15l-7 13l9 6l8-15l5-17zM42-55v11h20v39l-2 1h-10l4 12h11l4-2l3-2l2-4v-44h22v-11zM17-85v20h-14v11h12l-5 17l-8 14l6 12l5-9l4-12v41h12v-47l7 11l6-9l-13-16v-2h12v-11h-12v-20z"/><path id="bK" d="M14-78l16 16l5-5l-16-15zM5-53v8h15v36l-1 5l-3 3l4 7l23-18l-3-6l-12 8v-43zM63-84v33h-26v8h26v51h7v-51h26v-8h-26v-33z"/><path id="bL" d="M72-45v53h8v-53zM44-45v22l-2 9l-5 9l-9 9l6 5l9-10l6-10l2-11l1-23zM60-84l-5 10l-7 10l-10 9l-12 9l4 5l10-6l9-8l7-8l6-9l14 17l8 7l8 6l5-6l-9-6l-8-7l-8-8l-6-9l2-5zM27-84l-10 22l-6 10l-7 8l4 7l9-11v56h7v-68l10-22z"/><path id="bM" d="M69-49v20l-3 15l-7 10l-13 7l4 5l14-8l7-11l4-16l1-22zM74-8l19 16l4-6l-19-15zM53-61v47h7v-41h25v41h7v-47h-19l4-10h18v-7h-43v7h18l-4 10zM21-82l4 8h-19v15h7v-9h30v9h7v-15h-17l-5-10zM13-23v30h6v-3h18v3h7v-30zM19-2v-15h18v15zM15-42l7 4l-9 6l-9 4l3 6l11-5l11-7l16 10l5-5l-16-10l7-8l5-9l-4-2h-17l3-6l-7-1l-6 11l-11 10l4 4l5-4l8-8h15l-8 10l-8-4z"/><path id="bN" d="M75-82l-11 14l7 2l11-14zM18-79l11 14l6-3l-11-14zM46-84v20h-39v6h33l-7 6l-8 6l-10 4l-10 3l5 6l10-4l10-5l9-6l7-7v17h8v-15l35 20l4-6l-35-19h35v-6h-39v-20zM46-36l-2 11h-37v7h35l-5 7l-8 5l-10 4l-14 3l3 7l17-4l11-6l9-7l5-8l7 9l9 8l12 5l14 3l4-7l-12-2l-11-4l-9-6l-7-7h37v-7h-42l2-11z"/><path id="bO" d="M6-24v7h62v-7zM26-82l-10 44h65l-4 26l-2 7l-3 3l-5 2l-19-1l3 7l18 1l5-1l5-3l3-5l2-8l5-35h-63l4-18h58v-7h-56l2-11z"/><path id="bP" d="M53-83l-10 21l-6 10l-7 8l6 5l8-10l7-11h7v68h7v-24h30v-8h-30v-15h29v-7h-29v-14h31v-7h-42l6-14zM28-84l-4 12l-6 10l-7 10l-7 8l4 8l10-12v56h7v-68l11-21z"/><path id="bQ" d="M15-77v47l-2 12l-3 11l-7 11l6 4l5-6l4-8l4-17h25v30h7v-30h27v21l-2 2h-16l3 7h15l3-1l4-3l1-5v-75zM23-70h24v16h-24zM81-70v16h-27v-16zM23-47h24v17h-25zM81-47v17h-27v-17z"/><path id="bR" d="M67-50l-1 29l-3 8l-8 8l-14 7l5 6l15-8l8-10l4-10l1-30zM72-9l19 17l5-5l-18-16zM9-61l19 14h-24v7h16v39l-2 2h-11l3 7l10-1l4-1l3-2l1-5v-39h10l-5 14l5 2l9-22l-5-1h-8l2-3l-9-6l9-10l8-10l-5-4l-33 1v7h27l-11 12l-9-6zM50-63v48h7v-41h28v41h7v-48h-20l4-10h20v-7h-50v7h22l-3 10z"/><path id="bS" d="M25-46h51v6h-51zM25-35h51v6h-51zM25-56h51v6h-51zM58-84l-6 10l-8 9l6 4h-20l5-2l-3-7h17v-7h-27l3-6l-7-1l-6 11l-8 9l6 4l8-10h6l5 9h-11v37h13v9h-25v6h23l-7 6l-15 5l5 6l10-4l8-4l4-4l3-5h27v17h8v-17h23v-6h-23v-9h12v-37h-10l6-3l-5-6h19v-7h-32l3-6zM64-15h-25v-9h25zM50-61l8-9h8l7 9z"/><path id="bT" d="M84-78l-15 5l-17 4v-15h-8v29l1 5l2 4l5 1l7 1h23l6-1l4-3l2-5l2-8l-7-3l-2 11l-2 1l-26 1l-6-1l-1-3v-7l20-5l17-5zM51-13h33v10h-33zM51-20v-10h33v10zM44-36v44h7v-5h33v5h7v-44zM18-84v20h-14v7h14v22l-15 4l2 7l13-4v27l-2 2h-10l3 7l10-1h3l3-3l1-5v-29l13-4l-1-7l-12 4v-20h12v-7h-12v-20z"/><path id="bU" d="M39-84l-5 16h-28v7h24l-11 18l-7 8l-8 6l4 7l11-10v40h8v-49l12-20h55v-7h-52l5-14zM60-56v19h-23v7h23v29h-27v7h61v-7h-27v-29h23v-7h-23v-19z"/><path id="bV" d="M19-51v47h-14v8h90v-8h-39v-31h32v-8h-32v-26h36v-8h-83v8h40v65h-23v-47z"/><path id="bW" d="M31-49h38v10h-38zM15-25v29h8v-22h24v26h8v-26h23v14l-2 1h-12l2 7h12l4-1l3-3l1-4v-21h-31v-9h22v-21h-53v21h23v9zM17-80l8 12h-16v21h7v-15h69v15h7v-21h-38v-16h-7v16h-21l6-3l-5-8l-3-4zM76-83l-8 12l6 3l10-12z"/><path id="bX" d="M56-84l-6 18l-4 7l-5 7l6 5l5-7l5-9h38v-7h-36l4-13zM51-52v16l-8 4l3 6l5-2v24l1 6l2 3l4 2l6 1l26-1l3-3l2-4l1-8l-6-2l-1 7l-1 3l-4 1h-19l-6-1l-1-4v-28l10-4v27h6v-30l11-5v22l-3 2h-5l2 6l7-1l4-2l1-7l1-27l-5-2l-13 7v-13h-6v16l-10 4v-13zM19-82l5 14h-20v7h11l-2 36l-3 16l-7 12l6 5l5-10l4-11l4-27h12l-2 36l-1 4l-3 1l-10-1l2 7h11l3-1l3-2l1-4l1-9l2-38h-19v-14h22v-7h-19l6-2l-3-9l-2-5z"/><path id="bY" d="M30-18l-10 9l-10 8l5 5l11-9l10-11zM63-14l11 9l8 10l6-5l-9-9l-11-9zM67-68l-8 7l-9 6l-9-6l-7-7zM38-84l-5 7l-7 7l-8 7l-11 5l6 6l16-11l7 6l7 6l-19 7l-20 4l3 7l22-5l21-9l20 8l22 5l4-7l-20-4l-19-6l12-9l9-12l-5-3h-33l6-8zM46-39v10h-31v7h31v22l-1 1h-9l2 7l9-1l3-1l3-2l1-26h31v-7h-31v-10z"/><path id="bZ" d="M6-77v8h38v77h8v-53l18 10l14 10l5-7l-26-16l-10-5l-1 2v-18h43v-8z"/><path id="ca" d="M23-55v7h54v-7zM6-36v7h26l-1 12l-4 8l-9 7l-14 4l4 6l16-5l9-8l5-10l2-14h18v25v5l2 3l4 2h21h5l3-3l2-5l1-9l-7-3l-1 9l-1 4l-3 1l-18-1l-1-3v-25h29v-7zM42-83l5 11h-39v22h8v-15h68v15h8v-22h-36l-6-13z"/><path id="cb" d="M54-84l1 17h-42v39l-2 11l-2 11l-5 10l6 5l5-11l4-13l2-25h18l-1 19l-1 7l-3 1l-11-1l2 7h12l4-1l2-2l1-3l2-33h-25v-14h34l3 23l5 20l-11 10l-12 8l5 7l11-8l10-9l4 7l4 5l5 3l5 1l5-1l3-3l3-7l1-11l-7-4l-1 14l-1 4l-2 1l-4-1l-3-3l-7-12l10-16l8-18l-7-2l-6 14l-7 13l-4-16l-2-19h32v-7h-32l-1-17zM67-79l10 6l8 6l5-5l-18-12z"/><path id="cc" d="M4-43v8h92v-8z"/><path id="cd" d="M25-66h50v5h-50zM25-76h50v5h-50zM18-81v25h64v-25zM5-52v6h90v-6zM23-27h23v5h-23zM54-27h24v5h-24zM23-37h23v5h-23zM54-37h24v5h-24zM5 0v6h91v-6h-42v-6h33v-5h-33v-6h31v-25h-69v25h30v6h-33v5h33v6z"/><path id="ce" d="M22-44h24v11h-24zM54-44h24v11h-24zM22-60h24v10h-24zM54-60h24v10h-24zM71-84l-10 17h-24l4-2l-11-15l-6 3l9 14h-18v41h31v9h-41v7h41v18h8v-18h41v-7h-41v-9h32v-41h-17l10-14z"/><path id="cf" d="M37-66v8h54v-8zM44-51l4 23l2 20l8-2l-1-9l-7-33zM57-83l5 16l7-2l-5-16zM33-3v7h63v-7h-21l10-49l-8-1l-4 25l-5 25zM29-84l-5 12l-6 10l-7 10l-7 8l4 8l10-12v56h8v-68l10-22z"/><path id="cg" d="M52-84l-9 11l-12 10l-13 8l-14 7l5 7l16-8v5h50v-7l17 9l5-7l-23-12l-10-7l-9-8l3-5zM28-51l12-9l11-11l11 11l13 9zM20-32v40h7v-6h47v5h8v-39zM27-5v-21h47v21z"/><path id="ch" d="M58-67h21l-5 9l-6 8l-9-11l-3-4zM20-84v21h-15v7h14l-7 21l-4 10l-5 7l4 7l7-13l6-16v48h7v-50l9 12l4-6l-13-15v-5h12l-3 2l6 6l10-11l11 14l-14 9l-15 7l4 6l8-3v34h7v-4h28v4h7v-35l5 2l5-7l-14-5l-11-8l9-12l7-14l-5-3l-23 1l4-9l-7-2l-7 15l-11 12v-6h-13v-21zM53-3v-19h28v19zM51-29l9-5l8-6l8 6l9 5z"/><path id="ci" d="M53-74v44l-2 12l-4 11l-7 10l6 5l8-11l4-12l3-13v-15h16v51h7v-51h12v-7h-35v-18l18-4l15-4l-5-7l-16 5zM17-36v-16h20v16zM44-82l-16 5l-18 3v45l-1 11l-2 11l-4 10l6 5l4-8l2-10l2-19h27v-30h-27v-9l17-3l15-5z"/><path id="cj" d="M19-57v5h22v-5zM17-47v5h24v-5zM58-47v5h25v-5zM58-57v5h23v-5zM8-68v19h6v-14h32v24h7v-24h33v14h6v-19h-39v-6h33v-6h-73v6h33v6zM14-22v30h7v-24h15v23h7v-23h15v23h7v-23h16v16l-1 2h-9l2 6h7l5-1l3-2v-27h-38l3-8h41v-6h-88v6h39l-2 8z"/><path id="ck" d="M86-81l-10 19l6 2l12-18zM35-78l6 10l4 9l7-3l-4-9l-7-10zM8-78l10 6l8 6l4-5l-7-6l-10-6zM4-51l10 6l8 6l4-6l-8-6l-10-5zM7 2l6 5l5-8l12-25l-6-4zM45-31h37v11h-37zM45-38v-10h37v10zM60-84v28h-22v64h7v-22h37v12l-2 2h-12l2 7h12l4-1l3-3l1-4v-55h-22v-28z"/><path id="cl" d="M22-84v11h-16v6h16v10h-14v7h14v10h-17v7h14l-7 12l-9 10l4 7l8-10l7-12v34h7v-33l10 14l5-6l-14-16h14v-7h-15v-10h12v-7h-12v-10h13v-6h-13v-11zM84-84l-18 9l-21 7l2 6l16-5v15l-17 3l1 7l16-3v16l-19 2l1 7l18-2v23l2 3l3 2h18h5l3-3l2-6l1-9l-7-3l-1 12l-1 2l-14 1l-3-1l-1-4v-19l26-4l-1-6l-25 4v-16l22-4l-1-6l-21 3v-16l20-10z"/><path id="cm" d="M46-84l-1 17l-4 24l-13 25l-24 20l6 6l16-12l12-14l7-15l5-15l5 15l8 15l12 14l16 11l5-6l-21-16l-13-20l-6-20l-3-14l1-15z"/><path id="cn" d="M27 6l7-6l-11-12l-11-10l-7 5l12 11z"/><path id="co" d="M78-84v22h-30v7h27l-6 12l-9 11l-9 10l-9 8l5 6l9-7l8-9l14-21v43l-3 2h-15l3 8l15-1l3-1l3-2l2-6v-53h10v-7h-10v-22zM23-84v21h-17v8h16l-8 21l-6 9l-5 7l4 8l8-14l8-16v48h7v-52l12 16l5-6l-17-19v-2h14v-8h-14v-21z"/><path id="cp" d="M5-76l4 11l2 11l6-2l-2-10l-4-12zM38-78l-7 23l5 1l8-22zM52-72l9 7l6 6l4-6l-7-6l-9-6zM46-46l10 5l7 7l4-6l-8-6l-9-6zM5-50v7h14l-7 17l-9 14l4 7l7-13l7-15v41h7v-41l10 17l5-6l-15-20v-1h16v-7h-16v-34h-7v34zM44-20l1 7l31-6v27h8v-28l13-3l-2-7l-11 2v-56h-8v58z"/><path id="cq" d="M50-78l-1 44l-2 13l-4 13l-8 11l6 5l8-12l5-14l3-15v-38h19v64l1 10l4 4h3h5l5-1l2-2l1-4l1-16l-6-3v15l-1 3l-2 1l-5-1l-1-5v-72zM22-84v21h-17v8h16l-8 21l-5 9l-5 7l4 7l8-13l7-17v49h7v-46l11 15l4-7l-15-16v-9h15v-8h-15v-21z"/><path id="cr" d="M60-8l17 8l13 8l6-6l-31-16zM33-13l-13 8l-16 8l6 5l15-8l15-9zM21-79v58h-16v7h90v-7h-15v-58zM28-21v-9h45v9zM28-59h45v9h-45zM28-64v-9h45v9zM28-44h45v8h-45z"/><path id="cs" d="M18-34v42h8v-6h48v6h8v-42zM26-5v-22h48v22zM13-43l13-1l54-3l6 8l6-4l-11-15l-15-15l-6 4l14 15l-51 2l13-13l13-16l-7-3l-7 9l-13 15l-8 8l-4 2z"/><path id="ct" d="M52-84l-1 56l-2 11l-6 11l-11 9l5 5l12-10l6-11l3-14l1-57zM38-63l-1 18l-2 8l-2 7l5 4l3-8l2-9l1-20zM63-40v6h11v31h-20v7h42v-7h-15v-31h11v-6h-11v-30h13v-7h-33v7h13v30zM3-7l1 7l31-8l-1-7l-12 3v-26h10v-6h-10v-26h12v-7h-30v7h12v26h-10v6h10v28z"/><path id="cu" d="M44-82l-7 13l5 3l9-13zM9-79l6 13l6-3l-7-13zM41-26l-3 5l-6 8l-12-5l5-8zM11-15l15 7l-10 6l-12 3l4 6l13-5l12-7l8 6l5-5l-8-6l7-9l5-12l-5-2l-17 1l2-6l-7-1l-2 7h-14v6h11zM26-84v19h-21v6h18l-9 9l-10 6l4 6l9-6l9-9v13h7v-14l13 10l4-5l-16-10h19v-6h-20v-19zM63-83l-6 25l-4 11l-5 9l6 4l7-13l3 14l5 13l-4 7l-6 6l-6 5l-8 4l4 6l14-9l10-12l9 12l10 8l5-6l-11-9l-9-12l7-17l4-21h7v-7h-29l4-17zM81-58l-3 17l-5 13l-5-14l-3-16z"/><path id="cv" d="M9-79v8h18l-1 23l-3 16l-7 16l-12 16l5 7l11-13l7-14l5-13l2-13l9 19l6 8l7 7l-14 8l-14 5l4 7l16-6l14-9l13 9l16 5l5-7l-15-5l-13-7l8-8l6-9l5-11l4-13l-5-2l-21 1l6-25zM62-17l-9-10l-8-11l-6-13l-5-15v-5h28l-7 24h26l-3 9l-5 8z"/><path id="cw" d="M57-6l17 7l14 7l7-5l-33-14zM36-12l-14 8l-18 6l5 6l18-7l16-8zM69-84v12h-38v-12h-7v12h-16v7h16v45h-19v6h90v-6h-19v-45h16v-7h-16v-12zM31-20v-12h38v12zM31-65h38v10h-38zM31-49h38v11h-38z"/><path id="cx" d="M47-23l-3 9l-8 8l-12 5l-20 3l4 6l20-4l14-6l9-9l4-12zM52-6l21 7l17 7l4-6l-17-7l-21-6zM35-60l-1 8h-14l1-8zM42-60h16v8h-17zM15-65l-3 18h18l-9 6l-15 5l4 6l9-2v26h7v-21h48v20h8v-27h-60l11-6l6-7h19v11h8v-11h20l-2 5h-9l1 6h9l5-2l2-6l1-8h-27v-8h21v-18h-21v-6h-8v6h-16v-6h-6v6h-25v6h25v7zM42-72h16v7h-16zM66-72h14v7h-14z"/><path id="cy" d="M5-76l13 22l7-4l-14-22zM5 0l7 3l15-33l-7-4zM44-40h21v14h-21zM44-46v-14h21v14zM61-80l7 14h-23l7-15l-8-2l-4 11l-5 11l-7 10l-7 8l6 5l9-13v59h8v-7h51v-7h-23v-14h19v-6h-19v-14h19v-6h-19v-14h21v-6h-24l6-3l-2-5l-6-9zM44-20h21v14h-21z"/><path id="cz" d="M53-83v20l-17 5l2 6l15-4l1 14l2 3l3 2l24 1l5-1l3-3l2-4l1-7l-7-3v7l-2 3l-3 1l-21-1l-1-3v-11l17-6l14-8l-5-5l-12 6l-14 6v-18zM32-84l-5 8l-7 7l-15 13l5 5l12-10v27h8v-34l10-14zM5-22v7h41v23h8v-23h41v-7h-41v-12h-8v12z"/><path id="cA" d="M59-15l27 23l8-5l-29-22zM33-19l-12 12l-15 10l6 5l15-11l14-13zM9-63v7h19v24h-23v8h91v-8h-24v-24h20v-7h-20v-20h-8v20h-28v-20h-8v20zM36-32v-24h28v24z"/><path id="cB" d="M54-30l9 9l6 9l6-4l-7-9l-8-9zM4-13l2 7l36-8v-6l-14 3v-26h13v-7h-35v7h14v27zM46-51v31l-3 8l-5 8l-10 6l6 6l10-8l6-9l3-10l1-25h22v45l2 3l2 2h8l5-1l3-3l1-9l-6-3v7l-1 2h-7v-50zM20-84l-6 16l-5 7l-5 6l6 4l11-16h5l6 15l7-3l-5-12h15v-6h-25l4-10zM59-84l-5 15l-8 12l6 5l9-15h7l8 14l7-2l-7-12h18v-6h-30l3-10z"/><path id="cC" d="M12-77l15 16l5-5l-15-15zM36-36v7h27v37h7v-37h26v-7h-26v-25h22v-7h-40l4-15l-7-1l-5 20l-4 8l-5 7l7 4l8-16h13v25zM21 5l20-15l-2-6l-11 7v-44h-24v7h16v37l-1 5l-2 2z"/><path id="cD" d="M10-77l16 15l5-5l-16-14zM35-3v7h61v-7h-24v-33h20v-7h-20v-26h22v-7h-55v7h26v66h-14v-48h-7v48zM5-53v8h14v34l-1 5l-4 6l4 5l21-17l-3-7l-10 8v-42z"/><path id="cE" d="M26-49l7 18l4 16l7-3l-11-34zM48-55l8 35l8-2l-9-34zM47-83l5 12h-40v39l-1 12l-3 13l-4 11l6 5l5-13l3-13l1-14l1-33h74v-7h-33l-7-14zM21-4v7h75v-7h-28l13-25l9-25l-8-3l-8 27l-6 14l-7 12z"/><path id="cF" d="M12-77l8 12l5 11l7-3l-5-11l-8-12zM80-80l-6 12l-7 12l7 3l14-25zM12-4v8h67v4h8v-57h-33v-35h-8v35h-32v8h65v14h-62v8h62v15z"/><path id="cG" d="M19-28h27v22h-27zM81-28v22h-27v-22zM19-35v-22h27v22zM81-35h-27v-22h27zM46-84v19h-35v73h8v-6h62v6h8v-73h-35v-19z"/><path id="cH" d="M19-42h27v15h-27zM19-49v-15h27v15zM82-42v15h-28v-15zM82-49h-28v-15h28zM46-84v13h-35v57h8v-6h27v28h8v-28h28v6h7v-57h-35v-13z"/><path id="cI" d="M70-51l-1 22l-3 16l-8 10l-14 6l4 5l15-7l8-11l4-17l1-24zM73-9l19 17l5-5l-20-16zM20-55l10 12l5-3l-10-12zM53-61v47h7v-41h25v41h7v-47h-19l4-11h18v-6h-44v6h19l-4 11zM27-84l-10 18l-6 8l-8 8l6 4l10-11l9-13l17 21l5-5l-20-22l3-6zM10-39v7h26l-12 20l-7-7l-5 4l11 11l10 11l5-5l-9-9l9-14l8-15l-5-3z"/><path id="cJ" d="M85-66l-5 21l-7 18l-6-18l-5-21zM51-73v7h5l5 25l8 21l-10 13l-11 9l5 6l10-9l10-11l8 11l11 8l5-6l-11-8l-9-12l5-11l5-13l3-13l3-16l-5-1zM4-13l2 7l30-5v19h7v-20l9-2l-1-6l-8 1v-53h7v-7h-45v7h7v58zM19-72h17v14h-17zM19-52h17v14h-17zM19-31h17v13l-17 3z"/><path id="cK" d="M39-78v10h17v4h-23v9h23v5h-18v9h18v5h-18v8h18v6h-22v9h22v6h11v-6h27v-9h-27v-6h23v-8h-23v-5h22v-14h6v-9h-6v-14h-22v-7h-11v7zM67-55h12v5h-12zM67-64v-4h12v4zM9-36l6-4h8l-4 17l-5-12l-8 3l4 11l4 9l-5 7l-7 6l9 8l4-4l7-9l9 6l9 3l11 2h42l4-11h-44l-10-2l-8-3l-8-4l5-17l3-20l-7-1h-5l12-25l-7-5l-4 1h-18v11h14l-9 17l-3 4l-4 3z"/><path id="cL" d="M10-76l16 16l8-8l-16-16zM4-54v11h12v31l-2 6l-4 3l6 11l24-21l-4-10l-9 7v-38zM47-82l-1 16l-1 5l-5 5l-7 5l8 8l8-5l6-7l2-8l1-8h14v17l2 5l3 2l6 1h13l-1-10h-10l-2-4v-22zM76-30l-5 7l-7 7l-6-7l-6-7zM38-42v12h8l-5 1l6 11l8 8l-11 5l-13 3l6 11l14-5l13-6l12 7l14 4l8-11l-13-3l-11-5l10-12l8-17l-8-3z"/><path id="cM" d="M12-76l16 16l8-9l-17-15zM4-54v12h14v30l-1 6l-4 3l6 11l26-20l-4-11l-10 8v-39zM61-84v31h-24v12h24v50h13v-50h23v-12h-23v-31z"/><path id="cN" d="M64-52l9 9l7 8l10-7l-8-8l-9-8zM30-85v49h12v-49zM11-82v43h11v-43zM59-85l-6 20l-5 9l-5 7l9 8l6-9l6-11h31v-11h-27l3-10zM15-32v28h-11v11h92v-11h-10v-28zM26-4v-18h9v18zM46-4v-18h9v18zM66-4v-18h9v18z"/><path id="cO" d="M51-53h11v9h-11zM72-53h10v9h-10zM51-71h11v9h-11zM72-71h10v9h-10zM33-5v11h65v-11h-25v-10h21v-10h-21v-9h20v-47h-53v47h21v9h-21v10h21v10zM2-12l3 12l33-11l-2-11l-10 3v-20h9v-11h-9v-18h11v-11h-33v11h11v18h-11v11h11v23z"/><path id="cP" d="M69-72v56h7v-56zM85-84v82l-2 2h-13l3 7h12l3-1l3-3l1-5v-82zM36-29l10 9l-8 13l-10 9l5 6l11-10l8-14l7-18l3-21l-4-1h-14l4-15h16v-7h-34v7h10l-6 22l-4 10l-5 8l6 5l6-11l5-12h13l-2 11l-4 11l-9-7zM21-84l-7 21l-5 10l-6 8l4 7l7-10v56h7v-71l7-19z"/><path id="cQ" d="M47-22l-6 11l-7 9l5 4l8-10l7-12zM76-20l8 11l7 10l6-3l-7-10l-8-11zM8-80v88h6v-81h13l-8 23l5 5l3 5l1 5v9l-2 3l-3 1h-6l1 6h8l5-2l2-3l2-4v-9l-2-6l-3-5l-4-6l10-26l-5-3zM37-34v6h26v27l-2 2h-11l2 7l11-1h4l3-3l1-5v-27h24v-6h-24v-13h15v-6h-40v6h17v13zM66-85l-6 9l-8 8l-8 8l-10 5l5 6l15-11l12-13l13 13l13 10l6-6l-14-9l-7-6l-7-7l2-4z"/><path id="cR" d="M45-38l-2 10h-30v6h27l-5 9l-7 6l-10 5l-12 3l4 7l13-4l11-7l8-8l6-11h31l-3 15l-3 7l-5 1l-15-1l3 7h15l4-1l4-2l2-3l2-6l4-23h-37l2-10zM74-67l-10 8l-13 6l-11-6l-8-7l2-1zM38-84l-5 7l-6 7l-8 6l-10 6l5 6l14-10l6 7l8 5l-18 5l-19 3l3 6l22-3l21-7l19 6l22 3l4-7l-19-2l-17-4l15-9l6-6l5-6l-4-3h-42l6-9z"/><path id="cS" d="M46-54v7h41v-7zM39-36v7h14l-2 11l-4 8l-6 7l-11 5l4 6l12-6l8-8l4-10l2-13h11v26v6l3 3l14 1l4-1l3-3l1-5l1-8l-7-2l-1 11l-2 1h-7l-2-3v-26h18v-7zM59-83l5 11h-26v18h8v-11h42v11h7v-18h-25h2l-7-13zM8-80v88h7v-81h13l-8 23l7 11l2 5l-1 8l-1 3l-3 1h-6l2 6h6l6-2l2-2l1-4v-10l-1-6l-3-5l-4-6l10-26l-5-3z"/><path id="cT" d="M44-78v7h49v-7zM27-84l-11 11l-12 11l4 6l14-12l12-13zM39-50v7h34v41l-3 2h-16l3 8l19-1l3-3l1-6v-41h16v-7zM31-63l-13 17l-16 14l6 6l11-10v44h8v-53l11-15z"/><path id="cU" d="M61-84l-5 22l-9 18v-4h-13v-22h17v-7h-46v7h21v56l-10 3v-43h-7v44l-6 1l2 8l47-11l-1-7l-17 4v-26h11l-1 1l6 5l7-11l4 15l6 14l-10 10l-13 9l5 6l12-8l10-10l9 10l12 8l5-6l-12-8l-9-11l8-19l5-22h7v-7h-32l5-18zM62-58h20l-4 18l-6 15l-6-15l-4-17z"/><path id="cV" d="M37-80l17 16h-44v7h36v22h-31v8h31v24h-40v8h89v-8h-41v-24h32v-8h-32v-22h36v-7h-33l5-4l-13-12l-5-4z"/><path id="cW" d="M21-44v52h8v-3h48v3h7v-25h-55v-7h50v-20zM77-1h-48v-10h48zM44-62l3 6h-37v17h7v-11h67v11h8v-17h-37l-4-8zM29-38h43v9h-43zM17-84l-5 12l-8 10l7 4l8-12h7l5 11l7-2l-5-9h15v-6h-27l3-7zM59-84l-4 10l-6 9l6 3l6-8h7l8 11l6-3l-6-8h18v-6h-30l2-7z"/><path id="cX" d="M13-80l14 18l6-4l-15-18zM9-64v72h8v-72zM36-80v7h48v71l-3 3h-17l3 7h12l7-1l4-3l1-6v-78z"/><path id="cY" d="M55-84l-8 17l-6 8l-6 6l4 6l5-5v20l-1 19l-4 9l-5 8l5 4l5-5l3-6l3-13h14v20h7v-20h15v15l-2 2l-10-1l2 7l13-1l3-3l1-4v-57h-19l10-15l-5-3h-20l3-7zM64-23h-13v-12h13zM71-23v-12h15v12zM64-41h-13v-11h13zM71-41v-11h15v11zM49-58l7-11h18l-8 11zM6-79v7h12l-6 22l-4 9l-4 8l3 8l5-8v36h7v-8h17v-43h-17l6-24h14v-7zM19-41h11v30h-11z"/><path id="cZ" d="M9-80v88h7v-81h14l-8 23l8 11l1 5v8l-2 3l-3 1h-6l2 6h7l5-2l3-2l1-4v-10l-2-6l-2-5l-5-6l10-26l-5-3zM81-55v13h-29v-13zM81-61h-29v-12h29zM44 8l26-8l-1-7l-17 5v-34h9l5 14l6 12l9 10l10 7l5-6l-10-7l-9-9l17-12l-5-5l-15 11l-6-15h20v-44h-44v75l-1 4l-2 3z"/><path id="da" d="M46-83v81l-2 2h-17l3 8h12l7-1l3-2l2-3v-85zM70-57l12 23l8 22l8-3l-8-22l-12-23zM20-59l-6 22l-5 10l-6 9l7 4l7-9l5-11l7-24z"/><path id="db" d="M64-78v33h6v-33zM82-83v44l-2 2h-12l2 7l12-1h4l3-3v-5v-44zM39-73v13h-13v-13zM7-60v7h12l-4 10l-4 5l-5 4l5 5l6-5l5-6l3-6l1-7h13v22h7v-22h11v-7h-11v-13h9v-7h-45v7h10v13zM47-33v11h-32v7h32v13h-42v6h90v-6h-41v-13h31v-7h-31v-11z"/><path id="dc" d="M23-84l-3 13l-4 12l-6 11l-6 8l6 5l8-12l6-15h20l-4 15l-4 13l-15-11l-5 5l16 13l-5 9l-7 8l-8 6l-8 5l6 6l15-11l12-16l10-21l5-26l-5-2h-20l4-14zM61-84v92h8v-55l12 11l9 10l7-5l-12-11l-13-12l-3 2v-32z"/><path id="dd" d="M65-70v28h-28v-28zM5-42v7h24l-2 11l-4 9l-7 10l-11 8l6 5l12-9l7-11l5-11l1-12h29v43h8v-43h22v-7h-22v-28h19v-8h-83v8h20v28z"/><path id="de" d="M60-51v41h7v-41zM81-54v53l-2 1h-14l3 8l12-1l4-1l3-2l1-5v-53zM72-84l-9 16h-30l5-2l-10-14l-7 2l9 14h-25v7h90v-7h-24l9-14zM41-30v10h-22v-10zM41-36h-22v-10h22zM12-52v60h7v-22h22v13l-2 2h-11l3 7l14-2l2-2l1-5v-51z"/><path id="df" d="M77-38l-3 13l-6 10l-16-8l6-15zM42-21l20 11l-11 7l-15 5l4 6l16-6l13-8l21 14l5-6l-21-13l7-12l4-15h11v-7h-35l5-14l-7-1l-6 15h-17v7h14zM38-71v19h7v-12h42v12h7v-19h-23l-4-13l-8 1l4 12zM18-84v20h-14v7h14v25l-15 4l2 8l13-4v23l-2 2h-10l2 7h10l3-1l3-3l1-5v-26l13-4l-1-7l-12 4v-23h11v-7h-11v-20z"/><path id="dg" d="M53-41h29v15h-29zM46-47v28h44v-28zM34-12l2 20l7-2l-2-19zM55-13l7 20l7-1l-7-20zM76-13l7 11l5 10l8-3l-13-21zM17-15l-6 11l-7 9l8 3l6-10l7-11zM16-73h15v18h-15zM16-29v-20h15v20zM9-80v63h7v-5h22v-58zM43-80v7h17l-3 6l-3 6l-6 4l-8 3l4 6l10-4l6-6l4-7l3-8h18l-2 12l-1 3h-3h-10l2 6h15l2-2l2-3l2-23z"/><path id="dh" d="M42-82l4 7h-38v21h8v-14h69v14h7v-21h-37l-5-10zM79-48l-22 17l-4-8l-6-8l7-5h25v-7h-58v7h23l-17 9l-19 6l4 5l15-5l14-6l5 6l-18 9l-20 7l4 6l19-7l18-10l3 7l-9 6l-12 7l-12 5l-13 4l4 6l23-9l20-12v11l-4 6l-3 2h-3l-9-1l2 8l14-1l4-3l4-4l2-7l1-9l-2-9l5-3l5 10l6 9l8 7l9 6l5-6l-9-5l-8-7l-6-8l-4-10l15-11z"/><path id="di" d="M39-84l-4 13h-29v7h26l-6 10l-6 9l-8 8l-8 7l5 5l9-7l8-9v49h7v-20h42v10l-2 3l-15-1l2 8l18-1l3-3l1-5v-51h-48l6-12h54v-7h-51l4-11zM33-29h42v11h-42zM33-35v-11h42v11z"/><path id="dj" d="M44-84l-7 17h-27v75h7v-67h66v57l-2 2h-17l3 8l19-1l4-3l1-6v-65h-45l7-16zM37-39h26v19h-26zM30-46v40h7v-7h33v-33z"/><path id="dk" d="M43-75v28l-11 4l3 7l8-4v32l1 7l2 4l5 2l7 1h24l7-1l4-3l2-6l1-8l-6-3l-2 11l-2 2l-28 1l-5-1l-2-2l-1-39l14-5v34h7v-37l14-6l-1 29l-3 3h-7l2 6h9l4-2l2-5l1-39l-5-2l-3 2l-13 6v-25h-7v28l-14 6v-25zM3-15l3 7l31-14l-1-7l-12 5v-29h12v-7h-12v-23h-7v23h-13v7h13v32z"/><path id="dl" d="M14 5l13-2l52-2l6 7l7-4l-11-11l-13-12l-7 3l13 11l-49 2l19-18h50v-7h-14v-51h-59v51h-15v7h28l-13 13l-9 6zM28-28v-11h45v11zM28-56h45v11h-45zM28-62v-11h45v11z"/><path id="dm" d="M4-6l2 8l34-13l-2-7zM40-78v8h11l-1 22l-3 21l-6 17l-8 14l7 4l5-9l5-10l6-25l5 12l7 11l-10 9l-11 6l5 6l11-6l10-9l8 8l11 7l5-6l-11-7l-9-8l9-16l7-20l-5-1h-12l8-28zM59-70h16l-8 26h17l-5 14l-6 11l-9-14l-7-17zM6-42l16-3l-10 14l-5 4l-3 2l2 7l7-3l25-8v-6l-20 6l11-15l10-15l-6-4l-6 11l-14 1l9-14l8-16l-7-3l-11 24l-6 9l-3 2z"/><path id="dn" d="M43-82v78h-38v7h90v-7h-44v-40h37v-8h-37v-30z"/><path id="do" d="M50-31l11 20l7-3l-12-20zM76-63v15h-30v7h30v40l-2 2l-13-1l3 8l12-1h4l3-3l1-5v-40h11v-7h-11v-15zM40-64l-8 17l-5 8l-6 7l4 7l8-9v42h7v-53l7-17zM47-83l5 10h-41v46l-1 11l-2 11l-4 9l6 4l5-10l2-12l2-12v-40h76v-7h-35l-6-12z"/><path id="dp" d="M64-72v56h8v-56zM85-84v82l-2 2h-13l3 8l15-2l3-2l1-6v-82zM18-30l15 12l-11 12l-14 8l4 6l15-9l12-13l9-18l6-23l-4-2l-24 1l4-15h27v-8h-51v8h16l-6 21l-5 10l-6 7l6 5l7-10l5-11h23l-4 13l-5 11l-15-11z"/><path id="dq" d="M8-75l12 5l9 6l4-6l-9-6l-12-4zM5-50l2 7l28-9l-1-6zM18-37v28h8v-21h49v20h8v-27zM47-27l-3 11l-7 8l-12 6l-20 4l3 6l21-5l14-7l8-10l4-13zM52-8l20 8l17 8l5-7l-18-7l-20-7zM48-84l-5 11l-11 11l6 5l10-12h12l-3 8l-5 6l-8 6l-11 5l4 5l9-4l7-4l6-5l4-6l6 6l6 5l7 4l8 3l5-6l-9-2l-8-4l-7-6l-5-6l2-5h15l-5 9l7 2l8-16l-6-1h-35l4-8z"/><path id="dr" d="M21-74h60v9h-60zM14-80v43l-2 14l-3 14l-6 13l7 3l6-13l3-15l2-16v-22h68v-21zM36-38h18v7h-18zM60-38h19v7h-19zM67-12l3 4l-10 1v-8h23v16l-1 2l-10-1l2 6h10l3-1l3-2v-25h-30v-6h26v-17h-26v-6l24-3l-4-4l-24 2l-29 2l2 4h25v5h-25v17h25v6h-29v28h7v-23h22v8l-18 1v5l37-2l3 5l4-2l-2-4l-7-9z"/><path id="ds" d="M12-77v8h35v25h-41v7h41v34l-3 3h-18l3 8l13-1l8-1l3-2l1-2l1-39h40v-7h-40v-25h33v-8z"/><path id="dt" d="M9-76v7h39v-7zM65-82v21h-14v7h14l-2 17l-3 15l-6 14l-8 10l6 6l9-12l6-15l3-17l2-18h15l-2 38l-1 10l-2 4l-4 2l-13-1l2 7h14l4-1l3-2l3-6l2-28l1-30h-22l1-21zM9-4l34-9l2 7l6-3l-10-27l-6 1l6 16l-24 5l5-15l5-16h22v-7h-44v7h14l-6 23l-4 8l-3 3z"/><path id="du" d="M38-41l9 6l7 6l7-4l-7-6l-10-6zM27-24v20l1 5l2 3l4 1l8 1h23l6-1l4-2l2-5l1-8l-7-3l-1 8l-2 3l-4 1l-28-1l-2-2v-20zM41-26l16 17l6-4l-16-17zM75-24l7 15l5 13l7-3l-5-13l-7-14zM15-24l-4 13l-6 12l7 3l6-12l4-14zM47-84l-3 14h-38v7h36l-4 9l-8 9l-10 6l-16 6l5 6l17-6l11-9l8-10l5-11l7 12l9 11l11 7l14 6l5-7l-13-4l-10-7l-9-8l-6-10h37v-7h-43l2-14z"/><path id="dv" d="M39-82l4 8h-35v22h12v-11h60v11h12v-22h-35l-5-11zM63-35l-3 6l-8 9l-16-6l6-9zM17-21l24 9l-16 6l-19 4l7 11l23-6l10-4l8-5l17 8l13 7l10-10l-30-14l7-9l6-11h17v-11h-46l5-12l-13-3l-7 15h-27v11h21z"/><path id="dw" d="M5-74l12 11l7-7l-12-10zM42-37l2 5h-40v9h30l-14 7l-17 4l6 8l15-4l-2 6l-4 3l4 9l8-3l27-6l1-9l-22 4v-9l13-10l7 12l9 8l11 7l15 4l6-9l-11-3l-10-4l16-9l-8-6h12v-9h-39l-3-8zM68-14l-7-9h21zM61-85v12h-22v10h22v12h-19v10h51v-10h-20v-12h22v-10h-22v-12zM3-51l4 10l18-8v12h11v-48h-11v26z"/><path id="dx" d="M57-71h23v14h-23zM46-81v34h46v-34zM45-23v11h18v8h-24v11h58v-11h-22v-8h17v-11h-17v-8h20v-10h-52v10h20v8zM34-84l-14 5l-17 3l3 10l12-2v11h-14v11h13l-7 15l-8 12l6 12l5-9l5-11v36h12v-39l6 10l7-10l-13-13v-3h11v-11h-11v-14l12-4z"/><path id="dy" d="M46-22l-4 8l-7 6l-12 4l-20 3l5 10l22-5l14-6l9-9l4-11zM52-4l20 6l18 7l7-9l-19-6l-20-6zM34-59l-1 4h-11l1-4zM44-59h12v4h-12zM13-67l-3 20h17l-8 5l-15 3l6 9l7-1v24h12v-18h42v17h12v-27h-56l9-5l6-7h14v10h11v-10h16l-1 3h-8l2 7l10 1l6-3l2-7v-9h-27v-4h21v-21h-21v-5h-11v5h-11v-5h-11v5h-24v8h24v5zM45-72h11v5h-11zM67-72h10v5h-10z"/><path id="dz" d="M66-85v8h-32v-8h-12v8h-13v9h13v30h-19v10h19l-9 7l-11 6l8 9l8-5l8-5v6h18v6h-32v10h77v-10h-33v-6h18v-8l8 6l8 5l8-9l-10-5l-10-7h19v-10h-19v-30h14v-9h-14v-8zM34-68h32v5h-32zM34-55h32v4h-32zM34-42h32v4h-32zM44-26v6h-15l7-8h29l7 8h-16v-6z"/><path id="dA" d="M44-53v33h-19l10-16l8-17zM56-53l8 17l10 16h-18zM44-85v19h-38v13h25l-6 11l-6 10l-8 9l-9 7l9 10l11-11v9h22v17h12v-17h21v-9l11 11l9-11l-8-7l-8-9l-7-10l-5-10h25v-13h-38v-19z"/><path id="dB" d="M64-67l-15 10l-15-9zM36-85l-5 6l-7 6l-8 6l-10 5l8 9l11-7l11 8l-17 4l-17 3l5 11l8-1v44h12v-3h44v3h13v-45h-67l17-4l16-5l20 6l21 4l8-11l-19-2l-17-4l12-10l9-11l-8-5l-32 1l5-6zM27-10h16v6h-16zM27-20v-5h16v5zM71-10v6h-15v-6zM71-20h-15v-5h15z"/><path id="dC" d="M56-36v41h11v-41zM40-36l-1 16l-2 7l-3 7l-7 7l8 7l8-8l5-8l2-9v-19zM73-36l1 37l2 4l3 2h9l5-1l3-5l2-11l-8-5l-2 12h-3l-1-33zM7-75l10 6l8 6l7-10l-8-6l-10-5zM3-47l10 5l9 6l6-10l-8-6l-11-4zM5 0l10 8l5-8l13-24l-9-8zM55-82l3 9h-26v11h18l-9 10l-8 3l3 11l11-2l36-3l4 7l9-6l-15-20h14v-11h-24l-5-12zM71-58l5 6l-22 1l9-11h15z"/><path id="dD" d="M8-77v10h39v-10zM9-2l8-3l24-7l1 5l10-3l-8 10l9 9l9-12l6-14l3-17l2-18h10l-1 34l-1 9l-2 4l-3 1h-12l4 12l13-1l5-1l4-4l2-5l1-11l2-49h-22l1-20h-12v20h-12v11h11l-2 22l-3 10l-4 9l-9-26l-9 3l4 12l-17 4l9-25h19v-11h-44v11h12l-7 24l-2 4l-3 2z"/><path id="dE" d="M7-74l11 5l9 6l7-9l-10-6l-11-4zM4-52l4 11l28-10l-2-10zM16-37v27h12v-17h45v16h12v-26zM44-24l-3 8l-6 7l-12 5l-20 3l6 10l21-5l14-7l8-9l4-12zM51-5l19 7l17 7l8-10l-18-6l-19-6zM46-84l-5 11l-9 10l8 7l10-12h8l-2 7l-5 6l-7 5l-11 4l6 8l9-3l7-4l6-5l4-5l5 5l5 5l14 7l7-10l-9-2l-7-4l-6-5l-5-6l1-3h10l-3 8l11 2l6-17l-8-2l-31 1l3-6z"/><path id="dF" d="M49-86l-9 10l-11 9l-13 6l-14 5l8 12l13-6v5h20v10h-32v11h15l-8 4l8 16h-19v11h87v-11h-22l11-16l-11-4h16v-11h-32v-10h20v-6l14 6l8-11l-11-3l-11-5l-10-6l-9-7l3-4zM67-56h-33l16-13zM43-24v20h-14l8-4l-4-8l-5-8zM56-24h15l-9 17l7 3h-13z"/><path id="dG" d="M15-14l-5 9l-8 7l10 7l8-9l7-11zM82-70v12h-14v-12zM30-10l11 16l8-5l-1 1l10 7l3-7l3-8l3-18h15v20l-2 2l-10-1l3 12l12-1l4-1l3-3l1-3l1-5v-76h-38v47v11l-2 11l-4 10l-11-14zM82-47v12h-14v-12zM35-84v11h-12v-11h-11v11h-8v10h8v38h-9v10h49v-10h-6v-38h7v-10h-7v-11zM23-63h12v6h-12zM23-48h12v7h-12zM23-32h12v7h-12z"/><path id="dH" d="M57-73v56h12v-56zM81-83v77l-3 3l-15-1l4 13l12-1l8-1l3-3l2-4l1-83zM44-85l-19 6l-22 5l4 9l17-3v13h-20v11h17l-8 16l-11 13l6 11l8-10l8-13v36h11v-35l11 12l7-10l-18-15v-5h17v-11h-17v-15l17-5z"/><path id="dI" d="M30-54h39v5h-39zM30-41h39v5h-39zM30-67h39v5h-39zM25-21l1 21l3 4l5 3h28l7-1l5-2l3-6l1-8l-11-4v7l-2 3h-4h-22l-2-3v-14zM74-20l6 12l4 10l12-5l-4-10l-7-11zM13-22l-5 11l-5 10l11 5l9-22zM41-24l7 8l5 8l10-6l-10-13h29v-49h-28l4-8l-14-2l-3 10h-23v49h29z"/><path id="dJ" d="M27-84l-5 12l-6 10l-7 10l-7 8l4 8l10-12v56h7v-68l11-22zM32-62v7h28v21h-22v42h8v-4h36v4h8v-42h-22v-21h28v-7h-28v-22h-8v22zM46-4v-23h36v23z"/><path id="dK" d="M69-84l-7 13h-23l-9-13l-6 3l6 10h-20v7h34l-2 9h-27v6h25l-4 9h-30v7h27l-6 9l-6 7l-8 7l-9 5l5 7l15-11l11-13v4h21v15h-34v7h72v-7h-31v-15h23v-7h-49l5-8h52v-7h-49l3-9h37v-6h-35l2-9h38v-7h-20l8-11z"/><path id="dL" d="M68-69l-8 7l-10 6l-10-5l-7-7l1-1zM37-84l-5 6l-6 7l-8 7l-10 5l5 6l15-10l6 6l8 5l-19 7l-20 3l3 8l22-5l22-9l20 8l23 4l4-7l-20-3l-19-6l13-9l10-12l-5-3l-36 1l5-8zM25-13h21v11h-21zM25-19v-10h21v10zM75-13v11h-21v-11zM75-19h-21v-10h21zM17-36v44h8v-3h50v3h8v-44z"/><path id="dM" d="M18-14l-6 9l-8 9l6 4l8-9l7-11zM32-11l10 15l7-3l-11-15zM86-72v16h-21v-16zM58-79v48l-1 12l-3 12l-5 11l6 4l4-7l2-9l3-18h22v24l-2 2h-12l2 8l11-1l4-1l3-3l1-5v-77zM86-49v16h-21v-16zM39-83v12h-19v-12h-6v12h-9v7h9v41h-10v7h49v-7h-7v-41h7v-7h-7v-12zM20-64h19v9h-19zM20-49h19v10h-19zM20-33h19v10h-19z"/><path id="dN" d="M59-72v55h8v-55zM84-82v80l-3 3l-15-1l3 8h11l7-1l3-3l1-6v-80zM46-83l-19 5l-23 4l3 6l19-3v17h-21v7h19l-9 19l-12 15l4 7l10-13l9-17v44h7v-40l15 15l4-7l-19-16v-7h20v-7h-20v-18l18-6z"/><path id="dO" d="M27-55h46v8h-46zM27-41h46v8h-46zM27-69h46v8h-46zM26-20v16l1 5l2 3l5 2h7h29l4-3l2-5l1-8l-7-2l-1 7l-2 4h-4h-28l-1-3v-16zM76-19l7 10l4 10l7-3l-4-10l-7-10zM15-20l-5 10l-6 10l7 3l10-21zM42-24l8 8l5 8l6-4l-5-7l-8-8h32v-48h-29l4-9l-9-1l-3 10h-24v48h28z"/><path id="dP" d="M33-73l10 16l5-3l-10-15zM67-84l-3 11h-14v7h12l-7 11l-8 9l5 5l8-8v42h6v-17h19v10l-2 2h-7l2 5l11-1l2-2v-4v-44h-26l4-8h27v-7h-25l3-10zM66-38h19v9h-19zM66-43v-9h19v9zM8-80v88h7v-81h10l-6 24l6 11l1 5v9l-2 3l-2 1l-5-1l2 7h5l5-2l2-3l1-4v-10l-1-5l-6-12l9-27l-5-3zM48-46h-16v7h9v28l-4 3l-8 9l5 6l7-11l3-2l13 9l5 2l11 1l22-1l2-7l-24 1l-10-1l-5-1l-10-7z"/><path id="dQ" d="M47-45l16 24l6-4l-15-23zM32-40v23h-17v-23zM32-47h-17v-22h17zM8-76v74h7v-9h24v-65zM76-84v20h-32v7h32v54l-2 2h-18l3 8l17-1h3l4-3l1-6v-54h12v-7h-12v-20z"/><path id="dR" d="M9-62v70h8v-70zM11-79l12 15l6-4l-5-8l-8-7zM38-30h24v14h-24zM38-49h24v13h-24zM31-55v45h38v-45zM35-78v7h49v70l-2 2h-10l3 7l13-2l3-2v-5v-77z"/><path id="dS" d="M22-63l-6 11l-7 8l6 4l8-9l6-12zM69-59l10 10l7 9l6-4l-8-9l-9-9zM43-83l5 9h-41v7h28v30h7v-30h16v30h7v-30h28v-7h-36l-7-11zM13-34v7h8l10 11l11 8l-17 6l-20 4l4 6l21-4l20-7l19 7l22 4l5-6l-21-4l-17-5l14-11l5-6l5-7l-4-3zM30-27h41l-9 9l-12 7l-11-7z"/><path id="dT" d="M87-70l-13 16l-14 13v-41h-8v47l-20 12l6 6l14-8v24l2 4l4 3h24l7-1l4-4l2-8l1-12l-7-4l-2 17l-2 4l-3 1h-17l-4-2l-1-5v-23l18-15l16-19zM31-84l-5 11l-6 11l-8 10l-8 8l5 7l12-13v58h8v-70l10-20z"/><path id="dU" d="M5-79v8h39l-3 14h-31v65h8v-58h16v55h7v-55h17v55h7v-55h17v49l-2 1h-12l3 8l11-1l4-1l3-2l1-5v-56h-41l4-14h42v-8z"/><path id="dV" d="M60-58h21l-4 18l-7 15l-6-15zM8-39v43h8v-7h28v-36l4 3l7-11l5 15l6 14l-11 11l-16 8l5 7l14-8l12-11l10 11l12 8l5-6l-13-8l-9-12l4-8l4-10l6-22h7v-8h-34l5-17l-8-1l-7 24l-4 11l-6 8l2 2h-14v-19h18v-6h-18v-20h-7v20h-19v6h19v19zM16-32h21v22h-21z"/><path id="dW" d="M51-45l-5 18l-7 15l6 4l8-16l5-20zM78-44l6 18l4 17l7-2l-4-17l-6-18zM53-84l-5 19l-7 15v-5h-13v-18l13-4l-5-6l-13 4l-17 4l2 6l13-3v17h-16v7h15l-7 17l-10 14l4 7l7-12l7-14v44h7v-45l8 13l5-6l-13-14v-4h12h-1l7 4l5-9l4-11h10v63l-1 1h-11l3 8l10-1l3-1l3-2l1-5v-63h13l-5 11l7 2l8-19l-5-1h-33l2-11z"/><path id="dX" d="M76-21l8 11l6 11l6-4l-6-11l-8-11zM41-27l10 8l8 9l6-5l-8-8l-11-8zM28-24v21l1 5l2 3l5 1l7 1h23l5-1l4-2l2-4l1-7l-7-3v6l-2 3l-4 1l-28-1l-1-3v-20zM14-22l-4 11l-6 10l7 3l6-11l4-12zM26-57h48v18h-48zM19-64v32h63v-32h-16l10-17l-8-3l-10 20h-21l6-3l-5-8l-6-9l-6 3l6 9l4 8z"/><path id="dY" d="M30-84l-5 10l-6 9l-8 8l-7 7l6 6l9-9l8-10h53l-2 29l-2 11l-4 1h-10l2 7h12l4-1l2-2l2-5l1-8l2-39h-55l6-12zM27-46h26v16h-26zM20-53v45v7l4 4l6 2l10 1h38l8-1l6-3l3-5l1-8l-7-3l-1 7l-2 3l-3 2l-43 1l-11-2l-2-2v-3v-15h33v-30z"/><path id="dZ" d="M21-39v37h-13v7h85v-7h-38v-25h29v-7h-29v-23h-8v55h-19v-37zM50-85l-9 11l-11 10l-13 9l-14 7l5 6l12-6l11-7l10-9l9-9l10 10l10 8l22 13l5-6l-22-12l-11-9l-10-9l2-4z"/><path id="ea" d="M85-61l-7 18l-9 17l6 3l9-16l8-19zM8-59l8 19l6 16l7-2l-14-35zM58-83v78h-16v-78h-8v78h-28v8h88v-8h-28v-78z"/><path id="eb" d="M86-37l-9 12l-11 11l-15 9l-16 7l4 6l18-8l15-10l19 17l5-5l-18-16l9-10l7-10zM61-82l5 12h-26v7h19l-11 17l-6 2l2 8l23-3l-13 11l-14 8l4 6l13-8l11-9l10-10l8-11l-8-3l-6 9l-16 1l11-18h29v-7h-23l1-1l-1-4l-5-9zM19-84v19h-13v7h13l-7 21l-9 17l4 8l7-12l5-16v48h7v-52l8 14l4-6l-12-18v-4h12v-7h-12v-19z"/><path id="ec" d="M22-60l7 14l5-3l-7-13zM22-27l7 15l5-3l-7-14zM4-41v7h8l-2 20l-2 9l-4 9l6 4l4-10l2-10l2-22h20v32l-2 2h-11l2 7l14-1l3-3l1-5v-72h-16l4-9l-7-1l-4 10h-10v33zM19-68h19v27h-19zM55-80v17l-1 4l-2 5l-4 4l5 5l5-5l3-6l1-6v-11h16v20l3 3l5 1h10v-6h-10l-1-3v-22zM83-35l-4 12l-7 9l-8-9l-5-12zM50-41v6h5l-3 1l3 7l7 13l4 5l-9 6l-10 5l4 6l11-5l10-7l9 6l10 5l5-7l-10-4l-9-5l9-13l6-18l-4-2z"/><path id="ed" d="M26-45h47v12h-47zM26-56v-12h47v12zM26-22h47v12h-47zM14-80v88h12v-6h47v6h12v-88z"/><path id="ee" d="M42-51l6 42l12-4l-7-40zM55-84l5 16h-24v12h56v-12h-31l11-3l-5-15zM33-7v12h63v-12h-18l6-21l4-24l-12-2l-4 24l-4 23zM26-85l-10 21l-6 9l-7 8l6 13l7-8v51h12v-70l9-20z"/><path id="ef" d="M69-84l-11 4l9 17l11 15h-53l10-15l9-17l-13-4l-5 11l-7 11l-7 9l-9 7l10 9l7-5v6h16l-3 10l-5 10l-8 8l-14 7l7 10l16-8l11-11l5-13l3-13h21l-1 22l-3 9l-4 1h-13l2 4l2 8h15l5-2l4-3l3-5l1-8l2-33l6 5l9-10l-16-16l-7-10z"/><path id="eg" d="M61-80v88h11v-77h11l-9 25l5 6l3 5l2 9v5l-2 2l-4 1h-6l3 11l12-1l3-1l3-4l2-5v-6l-2-11l-3-6l-4-7l11-30l-9-5zM22-63h18l-6 16h-12l6-2zM22-83l4 9h-19v11h13l-8 2l5 14h-13v11h53v-11h-12l7-14l-8-2h11v-11h-17l-5-12zM9-29v38h11v-5h22v4h12v-37zM20-6v-12h22v12z"/><path id="eh" d="M48-54h15v13h-15zM69-54h16v13h-16zM48-73h15v13h-15zM69-73h16v13h-16zM32-2v7h65v-7h-27v-14h23v-7h-23v-12h22v-44h-51v44h21v12h-22v7h22v14zM4-10l1 8l31-11l-1-7l-11 4v-25h10v-7h-10v-22h12v-7h-31v7h12v22h-11v7h11v27z"/><path id="ei" d="M23-47h53v17h-53zM23-54v-16h53v16zM23-23h53v16h-53zM16-78v85h7v-6h53v6h8v-85z"/><path id="ej" d="M4-6l1 8l33-9v-7zM6-42l17-3l-11 13l-4 4l-4 2l2 8l7-2l25-6v-6l-20 3l12-14l10-16l-6-4l-7 11l-13 1l9-14l7-16l-7-3l-11 24l-6 9l-3 1zM42-79v7h36l-9 9l-10 9l-11 6l-12 5l4 6l14-6l12-7l26 13l5-6l-25-12l10-10l7-11l-5-3zM43-33v7h20v24h-26v7h59v-7h-26v-24h21v-7z"/><path id="ek" d="M10-65v7h81v-7zM24-50l5 21l4 21l8-2l-4-20l-6-22zM43-83l5 17l7-3l-5-16zM69-52l-7 25l-8 23h-49v8h90v-8h-33l8-22l8-25z"/><path id="el" d="M21-84l-7 22l-5 9l-6 8l4 8l7-11v56h7v-70l7-20zM54-76v6h12v8h-17v6h17v8h-12v5h12v8h-14v6h14v8h-17v6h17v12h6v-12h22v-6h-22v-8h19v-6h-19v-8h17v-13h7v-6h-7v-14h-17v-8h-6v8zM72-56h11v8h-11zM72-62v-8h11v8zM29-39l2-2h12l-2 12l-3 11l-7-14l-5 2l4 10l5 9l-6 8l-7 6l5 5l7-6l5-8l8 6l9 4l11 2l27 1l2-7h-28l-10-2l-8-4l-8-6l5-15l3-20l-4-1l-9 1l14-28l-5-3l-2 1h-16v7h13l-9 19l-3 4l-3 3z"/><path id="em" d="M49-85l-9 12l-11 10l-13 9l-13 8l5 6l12-7v7h26v15h-26v7h26v16h-38v7h85v-7h-39v-16h27v-7h-27v-15h27v-7l11 7l6-6l-24-15l-10-8l-10-10l2-3zM20-47l16-12l14-15l15 15l16 12z"/><path id="en" d="M22-67v40l-2 11l-6 10l-11 9l5 5l11-10l7-12l2-12l1-41zM27-13l13 18l5-4l-13-18zM8-79v61h7v-55h21v55h6v-61zM76-84v20h-29v7h27l-6 13l-7 13l-8 11l-9 8l6 6l7-7l7-10l12-21v42l-2 2h-12l3 8l11-1l4-1l3-2l1-6v-55h11v-7h-11v-20z"/><path id="eo" d="M25-84l-9 22l-6 10l-7 8l4 8l9-12v56h7v-68l9-22zM42-18v7h16v18h7v-18h17v-7h-17v-34l6 13l6 12l7 10l8 9l5-6l-8-8l-7-10l-7-12l-5-13h25v-7h-30v-20h-7v20h-28v7h24l-6 13l-6 12l-8 10l-8 8l5 6l8-9l7-10l7-12l5-13v34z"/><path id="ep" d="M29-22l-10 10l-12 9l7 5l11-10l11-12zM64-19l13 11l10 10l7-4l-11-10l-13-11zM66-44l8 8l-44 3l23-13l23-15l-6-5l-16 12l-24 1l10-9l11-10l35-5l-6-6l-31 5l-38 3l2 6l27-2l-14 13l-10 6l2 7l26-3l-20 11l-13 5l2 8l8-2l26-2v26l-2 2l-13-1l3 8l12-1h3l4-3l1-5v-27l25-2l7 9l6-3l-9-11l-12-11z"/><path id="eq" d="M15-66l5 9l3 9l7-2l-4-9l-5-10zM78-69l-10 19l6 2l12-18zM11-46v25l-1 8l-3 8l-4 8l6 5l5-9l3-9l1-10l1-19h75v-7h-30v-26h26v-6h-80v6h26v26zM43-72h14v26h-14z"/><path id="er" d="M93-79h-83v84h85v-7h-78v-69h76zM26-58l24 21l-13 12l-14 10l6 6l13-11l14-12l21 23l6-6l-22-22l10-13l9-14l-7-2l-8 12l-9 12l-25-21z"/><path id="es" d="M31-41h39v9h-39zM24-46v19h53v-19zM9-59v19h7v-13h69v13h7v-19zM17-20v28h7v-4h53v4h8v-28zM24-2v-12h53v12zM64-84v8h-28v-8h-8v8h-22v7h22v7h8v-7h28v7h7v-7h23v-7h-23v-8z"/><path id="et" d="M24-82l-8 20l-5 9l-6 8l7 4l11-16h23v22h-30v7h30v26h-40v7h89v-7h-41v-26h32v-7h-32v-22h36v-8h-36v-19h-8v19h-20l6-16z"/><path id="eu" d="M26-61l9 14l7-3l-9-14zM69-63l-8 17h-49v22l-1 9l-3 10l-4 9l6 5l5-10l3-11l2-11v-16h73v-7h-25l9-15zM42-82l7 10h-38v7h79v-7h-33l-1-4l-6-8z"/><path id="ev" d="M54-11l19 9l15 9l5-5l-16-10l-20-8zM24-56l8 6l7 6l5-5l-7-6l-9-5zM14-40l9 6l7 6l4-6l-7-6l-9-5zM9-73v21h7v-14h67v14h8v-21h-34l-7-12l-7 3l5 9zM7-26v7h36l-5 7l-7 5l-10 5l-13 3l4 7l15-5l11-6l8-7l6-9h42v-7h-40l3-16l1-19h-8l-1 20l-3 15z"/><path id="ew" d="M74-45v53h7v-53zM50-45l-1 23l-1 9l-5 9l-7 8l7 4l8-8l4-10l2-10v-25zM63-84l-4 9l-6 9l-7 9l-10 8l5 6l8-6l6-7l10-15l12 15l15 12l5-6l-8-5l-8-7l-7-8l-5-9l1-4zM8-80v88h7v-81h14l-10 23l6 5l3 6l2 4v9l-2 3l-3 1l-7-1l2 7h8l5-2l3-3l2-4v-9l-2-6l-3-5l-6-6l12-26l-5-3z"/><path id="ex" d="M54-80l-1 18l-1 5l-4 6l-6 6l6 4l6-6l4-7l2-7l1-13h14v24l3 3l5 1h12v-6h-12l-1-3v-25zM47-39v7h7l-4 1l6 12l7 10l-11 7l-13 4l4 6l14-5l12-7l10 7l12 5l5-7l-12-4l-10-6l9-12l6-16l-5-2zM56-32h24l-5 10l-7 8l-7-8zM12-75v58l-9 1l2 8l7-2v17h7v-18l25-4l-1-7l-24 4v-14h23v-7h-23v-14h23v-7h-23v-10l25-9l-6-6l-12 5z"/><path id="ey" d="M56-48l19 14l15 14l6-6l-16-13l-18-14zM7-77v8h44l-8 12l-11 12l-13 11l-15 8l6 7l19-13l17-16v56h8v-66l7-11h32v-8z"/><path id="ez" d="M8-78l15 17l6-5l-15-16zM72-82v16h-16v-16h-8v16h-14v7h14v18h-15v7h14l-4 12l-3 5l-5 4l5 6l6-6l4-6l4-15h18v26h8v-26h14v-7h-14v-18h12v-7h-12v-16zM56-59h16v18h-17zM26-48h-21v7h14v29l-7 4l-8 8l5 7l7-9l3-3l3-1l15 9l7 1l16 1l34-1l2-8l-27 2h-24l-6-2l-5-2l-8-6z"/><path id="eA" d="M75-79l7 15l6-3l-8-14zM15-84v20h-11v7h11v20l-12 4l2 7l10-3v29l-2 1h-9l2 7h9l3-1l3-3v-4v-32l11-4l-2-7l-9 4v-18h9v-7h-9v-20zM66-37h12v13h-12zM66-44v-13h12v13zM66-17h12v13h-12zM30-50l11 20l-6 15l-4 6l-5 4l5 5l8-9l6-13l5 12l5-3l-7-17l3-20l3 4l5-6v60h7v-5h30v-7h-12v-13h10v-7h-10v-13h10v-7h-10v-13h11v-7h-29l8-18l-6-2l-7 17l-10 15l1-17l-21-1v7h15l-3 24l-9-14z"/><path id="eB" d="M80-83l-28 5l-35 3v39l-2 14l-3 13l-6 13l6 4l6-12l4-14l3-28h6l9 18l11 15l-14 8l-16 6l5 7l16-7l15-9l15 9l17 6l5-7l-17-5l-14-8l7-8l6-9l5-10l4-12l-5-2h-55v-15l33-3l29-5zM75-46l-7 15l-11 13l-11-13l-7-15z"/><path id="eC" d="M63-84v16h-19v33h-7v7h24l-3 9l-5 8l-8 7l-12 6l4 6l12-6l9-8l5-7l4-9l4 10l6 8l7 7l8 5l5-6l-9-5l-6-7l-6-8l-4-10h25v-7h-6v-33h-21v-16zM51-35v-26h12l-1 26zM84-35h-14v-26h14zM27-41v23h-13v-23zM27-48h-13v-22h13zM8-77v74h6v-8h20v-66z"/><path id="eD" d="M70-55l18 18l5-5l-19-17zM56-59l-9 9l-10 8l5 6l11-9l10-12zM16-84v19h-12v7h12v24l-13 5l2 7l11-4v24l-1 2h-10l2 7h10l3-1l3-3v-5v-27l11-3l-1-7l-10 3v-22h11v-7h-11v-19zM33-2v7h63v-7h-27v-25h20v-7h-48v7h20v25zM59-82l4 10h-26v18h7v-11h44v10h7v-17h-24l-5-12z"/><path id="eE" d="M59-57h21l-4 17l-6 15l-7-15l-5-16zM58-84l-7 25l-4 10l-6 9l5 6l8-13l6 15l6 14l-10 11l-13 9l5 6l12-9l10-11l10 11l11 9l5-6l-11-9l-10-11l8-18l5-21h8v-7h-35l4-19zM9-10l6-3l17-7v28h8v-90h-8v55l-15 5v-51h-7v49l-2 5l-2 2z"/><path id="eF" d="M46-84v15h-38v8h38v15h-34v8h11h-2l4 8l5 7l13 12l-19 7l-20 5l4 7l22-6l20-8l19 8l23 5l4-7l-21-4l-17-7l8-6l7-8l6-8l5-10l-5-3h-25v-15h38v-8h-38v-15zM29-38h44l-10 13l-13 10l-12-11z"/><path id="eG" d="M8-33l7-2h9v15l-20 3l2 8l18-4v21h8v-22l13-3v-7l-13 3v-14h10v-6h-10v-16h-8v16h-10l9-24h19v-7h-16l2-10l-7-2l-3 12h-13v7h11l-5 17l-3 6l-2 2zM43-54v8h14l-6 18h29l-12 16l-10-6l-5 5l16 11l12 10l5-6l-12-10l18-25l-5-2h-25l3-11h31v-8h-29l3-11h22v-7h-20l3-11l-7-1l-3 12h-19v7h17l-4 11z"/><path id="eH" d="M74-77l12 17l6-3l-12-18zM5-67l13 18l6-4l-13-18zM59-84v30h-23v7h22l-2 13l-4 13l-8 12l-11 12l6 5l10-10l7-10l5-11l3-11l5 13l6 12l7 9l10 8l5-6l-10-9l-9-11l-6-13l-4-16h27v-7h-29v-30zM3-19l5 6l17-16v37h7v-92h-7v46z"/><path id="eI" d="M7-73l10 8l7 9l6-6l-8-8l-10-8zM4-9l6 5l5-7l14-25l-5-6zM44-72h38v27h-38zM37-79v41h11l-1 14l-4 11l-7 9l-12 6l5 6l13-7l8-10l4-13l2-16h12v34v5l2 3l2 2h5h10h5l2-3l2-6l1-10l-7-3l-1 13l-1 2l-10 1l-3-1v-3v-34h15v-41z"/><path id="eJ" d="M4-5l2 7l33-9l-1-6zM63-27l-1 13l-4 6l-9 5l-16 5l5 6l17-6l9-7l5-7l1-15zM69-4l13 6l11 6l3-6l-24-11zM43-39v29h7v-23h33v23h7v-29zM6-42l17-3l-11 14l-4 4l-4 2l3 7l31-8v-6l-21 4l11-14l11-17l-6-3l-6 10l-14 2l9-15l8-16l-7-3l-11 25l-6 8l-2 2zM63-84v9h-22v6h22v6h-19v5h19v7h-25v6h58v-6h-26v-7h21v-5h-21v-6h24v-6h-24v-9z"/><path id="eK" d="M14-71v13h72v-13zM5-13v14h90v-14z"/><path id="eL" d="M44-85l-6 6l-8 6l-10 5l-11 5l8 9l11-6l10-6h25l-7 6l-9 6l-10-8l-9 6l8 6l-15 5l-15 3l6 10l21-5l20-8l17-12l12-16l-8-4h-23l6-5zM60-49l-7 7l-9 7l-12 6l-14 6l7 9l16-7l13-8h23l-7 7l-9 6l-10-7l-10 5l8 8l-20 5l-24 3l5 11l28-4l24-8l20-13l14-20l-9-4h-20l6-6z"/><path id="eM" d="M58-36v40h6v-40zM40-36v17l-2 8l-4 7l-8 7l6 5l8-8l4-9l2-8l1-19zM76-36v38l2 3l2 1h8l5-1l2-4l1-11l-5-3v10l-1 3h-7l-1-36zM8-77l10 6l8 7l4-6l-8-7l-9-6zM4-50l10 5l8 6l4-6l-8-5l-10-5zM6 2l7 5l4-8l14-25l-5-5zM56-82l4 11h-28v7h20l-12 14l-7 3l2 7l10-1l39-3l5 7l6-4l-18-22l-6 4l8 9l-31 2l12-16h34v-7h-26l-5-13z"/><path id="eN" d="M20-22l9 19l7-3l-4-9l-6-9zM73-24l-10 18l5 3l12-19zM50-85l-9 11l-11 9l-13 7l-14 6l5 7l16-8v6h22v14h-35v7h35v24h-39v7h86v-7h-39v-24h35v-7h-35v-14h22v-6l16 7l5-6l-12-5l-11-6l-11-7l-9-8l3-4zM75-54h-48l12-9l11-10l11 10z"/><path id="eO" d="M30-76l8 8l8 9l-6 20l-9 16l-12 14l-15 10l7 6l14-10l11-13l9-15l7-18l16 31l10 14l15 11l3-9l-19-17l-24-43l-19-20z"/><path id="eP" d="M26-49l6 18l4 17l12-5l-12-34zM46-55l8 34l11-3l-8-34zM45-83l4 10h-38v38l-1 13l-3 13l-4 12l10 7l5-13l3-15l2-15v-29h72v-11h-32l-5-13zM22-6v11h74v-11h-24l11-24l9-24l-12-4l-9 26l-5 14l-7 12z"/><path id="eQ" d="M40-39l12 24l12-6l-14-23zM73-84v21h-38v12h38v45l-3 3h-19l5 12l19-1l4-1l4-2l2-4l1-7v-45h11v-12h-11v-21zM27-84l-5 11l-6 10l-6 9l-7 8l7 12l7-8v51h12v-69l9-21z"/><path id="eR" d="M7-81v63h9v-54h16v54h9v-63zM82-81l-8 13l-11 10l8 9l12-13l10-16zM20-67l-1 40l-2 10l-5 10l-9 8l6 7l10-9l5-10l12 17l7-6l-12-17l-6 4l2-6l1-12l1-36zM49 9l25-11l-1-10l-12 4v-29h6l3 13l6 12l6 11l8 8l8-9l-7-7l-5-8l-5-9l-3-11h18v-11h-35v-35h-11v35h-7v11h7v29l-2 5l-3 3z"/><path id="eS" d="M9-22l-3 11l-4 9l9 4l8-21zM36-18l6 16l10-4l-7-16zM66-49l-1 15l-2 11l-6 13l-9 11l9 8l9-11l6-12l8 13l4 5l6 5l8-10l-8-6l-6-8l-4-9l-3-11v-14zM22-84v7h-18v10h18v5h-15v10h42v-10h-15v-5h17v-10h-17v-7zM3-33v9h19v22l-1 1h-7l3 10l9-1l4-1l3-3l1-28h18v-9zM87-67h-20l3-16l-12-2l-3 21l-7 17l-41-1v10h41v-4l8 6l5-9l3-11h20l-4 17l10 3l7-29l-8-2z"/><path id="eT" d="M60-34v6h-25v12h25v12l-2 2h-12l3 11l15-1l3-1l3-2l2-4v-17h24v-12h-24v-3l19-16l-8-6h-40v11h27zM37-85l-4 13h-27v12h22l-12 16l-6 8l-8 6l6 11l9-7v35h12v-49l7-10l5-10h54v-12h-49l3-10z"/><path id="eU" d="M44-28v8l-2 4l-4 6l-12 5l-21 4l8 10l23-6l13-7l6-8l1-8v-8zM53-5l20 7l16 7l6-9l-16-7l-19-6zM17-42v32h12v-21h43v19h13v-30zM50-85v15l-14 3l4 9l10-2l1 6l2 4l5 2l24 1l6-1l4-2l3-5l1-7l-10-4l-1 6l-1 2l-16 1l-5-1l-1-3v-2l17-5l15-6l-7-9l-11 5l-14 5v-12zM30-86l-12 12l-15 9l9 9l9-7v18h12v-28l8-9z"/><path id="eV" d="M43-80v53h11v-43h26v43h11v-53zM2-12l3 11l36-10l-2-11l-11 3v-20h9v-11h-9v-18h11v-11h-35v11h12v18h-10v11h10v23zM61-64l-1 28l-3 13l-9 13l-15 11l7 8l9-5l7-6l5-7l4-7l1 17l2 4l4 1l12 1l6-1l4-3l2-7l1-9l-9-5l-1 13l-1 3h-7l-3-3v-23h-6l2-15v-21z"/><path id="eW" d="M63-55h16l-3 14l-5 13l-7-18l-2-6zM9-8l6-3l16-6v26h12v-50l7 9l5-7l10 22l-9 9l-12 8l8 9l11-7l9-9l8 9l10 7l8-10l-11-7l-9-9l8-17l5-21h6v-11h-31l4-17l-12-2l-6 23l-4 10l-5 8v-40h-12v56l-11 3v-49h-12v48l-1 5l-2 3z"/><path id="eX" d="M41-19v16l1 4l2 3l3 1l6 1h17l4-1l3-2l2-3l1-6l-6-3l-1 6l-1 2h-23l-1-2v-16zM50-23l15 13l5-5l-15-12zM76-18l8 10l6 10l6-3l-6-10l-8-10zM30-20l-4 10l-6 9l6 3l6-9l4-10zM13-63v34l-2 11l-2 11l-5 10l6 4l5-11l3-12l2-12v-28h25v9l-20 2v6l20-2l1 7l2 3l4 2h35l3-2l2-4l1-5l-7-3v5l-2 2l-3 1l-27-1l-2-2v-4l27-2l-1-6l-26 2v-8h32l-3 8l7 2l6-15l-6-2h-35v-7h34v-6h-34v-8h-8v21z"/><path id="eY" d="M43-79v53h7v-46h31v46h7v-53zM4-10l2 7l34-10l-1-7l-13 4v-25h11v-7h-11v-22h13v-7h-33v7h13v22h-12v7h12v27zM62-64l-1 32l-4 12l-9 12l-15 11l5 5l11-7l8-8l5-8l4-9v21l1 5l3 3h15h5l3-4l2-6l1-9l-7-3l-1 14l-1 2l-10 1l-3-1l-1-3v-24h-6l2-11v-25z"/><path id="eZ" d="M21-67v39l-2 12l-6 10l-9 9l4 4l10-9l6-12l3-12v-41zM25-13l12 18l5-4l-12-17zM8-79v61h6v-55h20v55h6v-61zM84-80l-10 15l-12 11l5 6l13-13l11-16zM50 8l24-10l-1-6l-15 5v-35h9l4 14l5 12l7 10l8 8l5-6l-7-7l-7-9l-5-10l-3-12h20v-7h-36v-37h-7v37h-9v7h9v34l-1 4l-3 2z"/><path id="fa" d="M12-22l-4 11l-5 9l6 3l10-21zM38-20l7 17l6-3l-8-16zM68-52l-1 16l-2 13l-6 14l-11 12l6 5l7-7l5-7l6-16l4 10l4 8l5 7l7 5l5-6l-8-7l-6-9l-5-11l-4-12l1-15zM25-84v10h-20v6h20v8h-18v7h42v-7h-17v-8h19v-6h-19v-10zM4-32v7h21v25l-2 1h-8l2 7l9-1h3l2-3l1-29h20v-7zM60-84l-4 23l-4 9l-4 9v-3h-40v7h40v-3l6 4l5-10l3-11h25l-5 19l6 1l7-26l-5-1h-26l3-17z"/><path id="fb" d="M41-41l14 25l7-3l-15-25zM75-83v21h-41v8h41v52l-3 3h-19l3 7h18l6-3l2-3l1-4v-52h12v-8h-12v-21zM30-83l-6 11l-6 11l-7 10l-7 8l4 8l11-12v55h7v-67l11-22z"/><path id="fc" d="M61-35v8h-27v7h27v19l-2 2h-14l2 7h14l4-1l3-3l1-5v-19h27v-7h-27v-5l11-8l9-9l-4-4l-43 1v6h34zM38-84l-4 13h-28v7h25l-5 10l-7 10l-7 8l-9 8l4 6l12-10v40h7v-49l8-11l5-12h55v-7h-52l4-11z"/><path id="fd" d="M46-31v9l-1 6l-5 6l-12 6l-22 6l5 6l23-7l13-7l5-8l2-8v-9zM53-7l20 7l17 8l4-6l-17-7l-20-7zM19-42v32h8v-25h47v24h8v-31zM52-84v15l-15 3l2 6l13-3l1 10l2 3l4 2h24h5l4-2l2-5v-7l-6-2l-1 6l-1 3l-20 1l-5-1l-1-3v-6l17-5l15-7l-5-5l-12 6l-15 4v-13zM33-84l-13 12l-16 10l6 5l13-9v20h7v-26l10-10z"/><path id="fe" d="M25-49l4-1l3-2l1-4l-1-4l-3-3l-4-1l-4 1l-3 3l-1 4l1 4l3 2zM17 16l7-4l6-5l3-7l1-8v-5l-2-4l-3-2l-3-1l-4 1l-3 2l-1 4l1 4l3 2l5 1l-1 5l-2 5l-4 4l-5 3z"/><path id="ff" d="M52-9l34 17l6-5l-35-17zM47-41l-2 16l-6 12l-12 9l-21 6l4 6l22-7l14-10l6-14l3-18zM34-69h26l-9 14h-29zM35-84l-5 8l-7 9l-8 8l-10 8l6 5l9-7v41h7v-37h48v37h7v-43h-22l11-17l-5-3h-28l5-7z"/><path id="fg" d="M58-27l-1 14l-4 5l-8 6l-17 5l5 5l17-6l10-7l4-7l1-15zM65-5l14 6l12 6l4-5l-26-12zM36-39v29h7v-23h38v23h7v-29zM59-84v9h-26v6h26v6h-23v5h23v8h-28v5h63v-5h-28v-8h21v-5h-21v-6h24v-6h-24v-9zM24-84l-9 22l-11 18l4 8l8-12v56h7v-69l8-21z"/><path id="fh" d="M62-36l12-1l-3 11l-4 10l-7 11l-8 10l6 3l11-15l8-16v26l1 2l5 2l9-1l3-4l1-13l-5-2v11l-1 2h-7l-1-32h-3l2-5h14v-7h-13l2-28h10v-6h-32v6h16l-1 13l-1 15h-8l4-22h-6l-4 22l-2 2zM52-55v13h-12v-13zM52-60h-12v-12h12zM34-1l20-13l2 6l5-3l-9-20l-5 2l5 9l-12 7v-23h18v-42h-24v63l-2 6l-2 3zM16-84v21h-11v7h11l-6 21l-7 18l4 6l5-10l4-13v42h7v-50l5 13l4-6l-9-17v-4h8v-7h-8v-21z"/><path id="fi" d="M55-81l7 15l7-2l-8-16zM40 8l28-11l-2-6l-18 6v-36l10-11l6 17l7 15l9 13l12 10l5-6l-7-5l-6-6l-10-15l21-16l-5-5l-19 16l-4-13l-4-13h31v-7h-64v7h24l-6 9l-7 8l-17 13l5 6l12-10v26l-2 6l-3 3zM27-84l-11 22l-6 10l-7 8l5 7l8-10v55h7v-67l11-23z"/><path id="fj" d="M28-25l-8 15l5 3l9-15zM36-22l9 14l6-3l-9-14zM67-83v22h-11v7h10l-1 16l-2 15l-4 12l-7 11v-5h-35v-21h41v-7h-10v-34h8v-6h-8v-11h-7v11h-19v-11h-7v11h-9v6h9v34h-11v7h6v27h41l-2 2l6 5l8-12l6-14l3-17l1-19h13l-2 39l-1 9l-1 5l-4 1h-11l2 7h12l4-1l3-3l2-5l1-11l2-48h-19v-22zM22-67h19v7h-19zM22-54h19v7h-19zM22-41h19v8h-19z"/><path id="fk" d="M29-15l-10 9l-13 7l5 5l7-3l13-10l5-5zM64-10l24 15l6-5l-25-15zM14-41l7 7l-8 4l-9 4l4 5l13-6l13-9v5h34v-5l11 7l13 5l5-6l-12-4l-10-6l7-9l7-9l-5-3h-27l-2-6l-6 2l7 15l10 12h-30l8-9l6-12l-5-2h-14l3-5l-6-1l-9 11l-7 5l-8 5l5 5l10-7l8-8h14l-6 10l-8-6l-4 4l8 6l-5 4l-8-6zM60-55h19l-9 11zM16-24v7h31v17l-1 1h-12l2 6h11l4-1l3-2l1-4v-17h29v-7zM44-83l3 7h-40v16h7v-9h72v9h7v-16h-37l-5-8z"/><path id="fl" d="M76-63l-10 20l6 2l11-19zM18-60l6 10l4 9l7-3l-4-9l-6-9zM46-84v12h-36v7h36v25h-40v8h35l-8 9l-9 8l-10 7l-11 5l6 7l10-6l10-8l9-9l8-9v36h8v-36l8 9l9 9l10 8l10 6l6-6l-11-6l-10-7l-9-8l-8-9h35v-8h-40v-25h36v-7h-36v-12z"/><path id="fm" d="M54-41h30v9h-30zM54-55h30v9h-30zM50-20l-5 9l-7 9l6 4l7-10l6-11zM79-19l11 20l7-3l-12-19zM9-78l16 12l5-6l-17-11zM4-51l17 11l4-6l-17-10zM6 2l7 5l3-8l11-25l-6-4zM34-79l-1 41l-1 14l-4 14l-7 14l7 4l7-14l4-16l2-15v-35h54v-7zM65-71l-3 10h-15v35h18v26l-2 2h-10l2 6h10l4-1l2-2l1-31h19v-35h-22l4-8z"/><path id="fn" d="M44-82l7 15h-44v8h27l-1 17l-4 17l-9 15l-15 12l5 6l12-8l9-11l5-12l4-13h36l-2 15l-3 16l-2 4l-5 1l-17-1l3 8h12l10-1l4-3l2-4l4-21l2-21h-43l1-16h52v-8h-43l7-3l-1-4l-6-11z"/><path id="fo" d="M5-23v6h35l-8 6l-9 5l-20 6l5 7l10-4l11-5l9-5l8-7v22h8v-23l8 7l9 6l11 5l10 4l5-7l-20-6l-9-5l-8-6h35v-6h-41v-8h-8v8zM43-82l4 6h-39v14h7v-8h70v8h7v-14h-37l-6-9zM66-54l-6 7l-8 4l-21-3l7-8zM19-43l23 4l-16 3l-20 2l3 6l25-3l20-5l31 9l7-6l-30-8l7-5l6-8h19v-6h-51l6-7l-7-2l-7 9h-29v6h24z"/><path id="fp" d="M7-76l15 16l6-4l-15-16zM46-31h34v15h-34zM38-37v28h49v-28zM59-84v13h-12l4-10l-7-2l-6 14l-8 11l7 4l7-11h15v13h-29v6h65v-6h-28v-13h23v-6h-23v-13zM25-46h-20v7h13v30l-4 3l-9 7l4 6l10-9l4-1l14 7l6 1l15 1l37-1l2-8l-29 2h-24l-6-2l-13-6z"/><path id="fq" d="M67-79l13 15l6-4l-13-15zM14-52l4-2h21l-6 15l-8 13l-10 11l-12 9l6 6l9-6l8-8l6-8l6-8l7 10l8 9l-14 8l-15 5l4 6l16-6l15-8l15 9l18 5l4-6l-17-5l-14-8l11-13l5-8l3-9l-5-3l-35 1l4-11h45v-7h-43l4-22l-9-1l-4 23h-18l7-19l-8-1l-5 15l-5 7zM59-15l-9-10l-7-11h31l-6 11z"/><path id="fr" d="M40-84l-5 15h-29v8h25l-12 18l-7 9l-9 6l5 7l14-13v33h8v-35h21v44h7v-44h23v25l-2 2h-14l3 7l17-2l3-2l1-5v-32h-31v-14h-7v14h-22l11-18h54v-8h-51l5-13z"/><path id="fs" d="M5-6l1 7l34-8l-1-7zM48-79v78h-10v7h58v-7h-9v-78zM55-1v-20h25v20zM55-47h25v20h-25zM55-54v-18h25v18zM7-42l17-3l-11 13l-4 5l-4 2l2 7l33-8v-6l-22 4l12-15l12-16l-6-4l-7 11l-15 2l10-15l8-16l-7-3l-12 24l-6 9l-3 2z"/><path id="ft" d="M4-5l2 7l34-9v-6zM51-70h31v30h-31zM44-77v44h45v-44zM74-20l8 14l5 13l7-3l-5-13l-8-14zM51-23l-6 15l-9 12l7 4l9-13l7-16zM6-42l17-3l-11 14l-4 5l-4 2l3 6l7-2l26-5v-7l-22 4l11-14l11-17l-6-3l-7 11l-13 1l9-14l8-16l-8-4l-11 25l-6 8l-2 2z"/><path id="fu" d="M48-18l-8 12l-10 9l6 5l11-11l9-13zM71-14l10 11l8 11l6-4l-8-11l-10-11zM27-84l-11 22l-7 10l-7 8l4 8l10-12v56h8v-68l10-22zM73-83v20h-19v-20h-8v20h-12v8h12v24h-15v8h65v-8h-15v-24h14v-8h-14v-20zM54-55h19v24h-19z"/><path id="fv" d="M71-79l14 13l5-5l-14-12zM56-84l1 19h-51v7h52l3 26l5 21l8 14l11 5l5-1l3-4l2-6l2-11l-7-5l-1 15l-2 3l-1 1l-7-4l-6-12l-5-19l-3-23h30v-7h-30l-1-19zM6-2l2 7l48-11v-7l-22 5v-28h19v-7h-44v7h18v29z"/><path id="fw" d="M11-77l15 16l6-5l-16-16zM46-57h34v18h-34zM18 4l23-18l-3-7l-11 8v-40h-23v8h15v33l-1 4l-5 5zM38-64v32h13l-1 11l-4 10l-6 8l-10 5l4 6l12-7l7-9l4-11l2-13h9v29v4l1 4l3 1l5 1l14-1l2-3l2-5l1-8l-7-3v8l-1 4l-2 1h-8l-3-4v-28h12v-32h-10l8-18l-8-2l-8 20h-17l6-3l-3-8l-6-9l-6 3l5 9l4 8z"/><path id="fx" d="M42-29v37h7v-4h34v4h8v-37h-21v-18h26v-7h-26v-18l22-5l-6-6l-21 5l-25 3l2 6l20-2v17h-24v7h24v18zM49-3v-19h34v19zM17-84v20h-12v7h12v22l-14 4l3 7l11-3v26l-2 2h-10l2 7l11-1l3-1l3-2v-5v-29l13-3l-1-7l-12 3v-20h12v-7h-12v-20z"/><path id="fy" d="M25-49l4-1l3-2l1-4l-1-4l-3-3l-4-1l-4 1l-3 3l-1 4l1 4l3 2zM25 0l4-1l3-2l1-4l-1-4l-3-3l-4-1l-4 1l-3 3l-1 4l1 4l3 2z"/><path id="fz" d="M25-84l-9 11l-12 10l4 6l14-11l11-13zM36-29v6h23v9h-27v6h27v16h7v-16h29v-6h-29v-9h24v-6h-24v-8h23v-15h7v-7h-7v-14h-23v-11h-7v11h-21v6h21v8h-25v7h25v9h-21v6h21v8zM66-67h16v8h-16zM66-43v-9h16v9zM27-62l-11 15l-13 13l4 7l11-11v46h7v-55l9-12z"/><path id="fA" d="M16-81l9 14l6-4l-9-13zM42-76v8h16l-2 23l-3 19l-7 16l-12 12l6 6l12-14l7-17l5-20l2-25h19l-2 49l-2 12l-2 6l-4 1h-14l2 7h15l4-1l4-3l2-7l2-13l2-59zM5-66v6h25l-5 10l-7 9l-7 8l-7 7l4 7l12-12v39h8v-40l10 14l5-6l-8-10l9-9l-5-4l-8 10l-3-4l7-11l5-12l-4-3z"/><path id="fB" d="M29-42l-9 12l-11 10l5 5l12-11l10-14zM21-76v22h-15v8h40v31h8l-10 6l-12 4l-27 5l4 8l26-6l22-10l17-13l12-17l-7-3l-5 8l-5 7l-7 6l-8 5v-31h40v-8h-39v-12h30v-7h-30v-11h-8v30h-18v-22z"/><path id="fC" d="M17-84v20h-11v7h11v22l-13 4l2 8l11-4v26l-1 1h-10l2 8l10-1l3-1l3-3l1-4v-28l11-4l-1-7l-10 3v-20h11v-7h-11v-20zM61-81l6 12h-25v37l-2 12l-3 13l-7 11l6 4l7-12l4-13l2-14l1-31h45v-7h-23l3-1l-7-13z"/><path id="fD" d="M46-84l-1 29h-39v7h37l-4 15l-7 13l-12 12l-16 10l6 6l16-10l11-12l8-14l5-14l7 16l9 14l11 11l13 9l6-7l-14-8l-11-11l-8-14l-7-16h38v-7h-41l1-29z"/><path id="fE" d="M38-28l12 4l11 4l3-5l-11-4l-12-3zM28-15l21 4l19 5l4-6l-19-5l-22-3zM8-80v88h8v-4h68v4h8v-88zM16-3v-70h68v70zM41-71l-9 12l-13 9l5 5l10-7l10 9l-13 5l-14 3l4 7l15-5l15-7l13 6l14 4l4-5l-13-3l-12-5l10-8l8-10l-4-2h-27l4-6zM38-56v-1h26l-13 11z"/><path id="fF" d="M4-5l2 7l34-8l-1-7zM6-42l17-3l-10 14l-5 4l-3 2l2 7l7-3l26-5v-6l-22 4l11-15l11-16l-6-3l-6 10l-14 1l9-14l8-16l-7-3l-12 24l-5 9l-3 2zM44 8l25-10l-1-6l-17 5v-35h19l2 18l3 14l5 10l7 3l4-1l3-3l1-6l1-9l-6-4l-1 14l-1 2l-4-3l-3-8l-3-12l-1-15h17v-7h-18v-28l16-4l-5-6l-20 4l-23 4v70l-1 5l-2 2zM69-45h-18v-24l17-3z"/><path id="fG" d="M34-45v20h-19v-20zM34-52h-19v-19h19zM8-78v69h7v-9h26v-60zM85-73v18h-28v-18zM50-80v48l-3 13l-6 12l-10 11l6 5l7-7l6-9l3-8l3-9h29v22l-2 2h-15l3 8l17-2l4-2l1-6v-78zM85-49v18h-28v-18z"/><path id="fH" d="M8-77l16 11l5-6l-16-10zM4-51l16 12l5-6l-17-11zM7 2l6 5l4-8l11-25l-6-4zM43-21h36v8h-36zM43-27v-7h36v7zM58-84v8h-26v6h26v6h-24v6h24v6h-30v6h67v-6h-30v-6h24v-6h-24v-6h26v-6h-26v-8zM36-40v48h7v-16h36v8l-2 1h-11l2 7l11-1l4-1l3-2v-4v-40z"/><path id="fI" d="M25 8l34-12l-1-6l-24 7v-22l8-7l7-6l7 14l10 12l11 10l15 7l5-7l-14-6l-12-8l20-14l-6-5l-18 14l-6-8l-4-9h36v-7h-39v-9h32v-6h-32v-9h36v-6h-36v-9h-8v9h-36v6h36v9h-30v6h30v9h-40v7h34l-17 11l-19 9l5 6l17-8v14l-2 5l-2 2z"/><path id="fJ" d="M58-84l-6 12l-9 9l3 2v7h-31v6h31v9h-41v7h61v8h-58v7h58v16l-2 2h-14l2 7l18-1l3-3l1-5v-16h19v-7h-19v-8h22v-7h-42v-9h32v-6h-32v-7h-2l6-8h7l7 12l7-3l-6-9h21v-7h-32l3-7zM22-13l10 8l7 8l6-5l-7-8l-10-7zM19-84l-7 12l-9 11l7 4l9-12h4l4 11l7-2l-3-9h18v-7h-26l3-7z"/><path id="fK" d="M18-84v20h-13v7h13v22l-15 4l3 7l12-4v26l-2 2h-10l2 7h11l3-1l3-3l1-5v-28l12-4l-1-6l-11 3v-20h11v-7h-11v-20zM41 6l23-11l-2-7l-13 6v-39h14v-7h-14v-31h-8v75l-1 5l-2 3zM89-61l-15 13v-34h-7v76v5l2 4l3 2l15 1l4-1l3-3l1-6l1-8l-7-4l-1 13l-2 1h-9h-2l-1-4v-34l20-16z"/><path id="fL" d="M34-3v7h60v-7h-26v-31h28v-7h-28v-28l24-6l-6-7l-24 7l-28 4l2 7l24-4v27h-30v7h30v31zM30-84l-6 12l-6 11l-8 10l-8 8l5 7l12-13v57h7v-68l11-22z"/><path id="fM" d="M69-79l10 5l7 6l5-5l-8-6l-9-5zM6-7l2 8l43-9l-1-8zM20-45h20v17h-20zM12-52v31h35v-31zM7-68v7h49l3 24l4 19l-11 12l-13 8l6 6l11-8l10-9l4 7l4 5l5 4l5 1l5-1l4-4l2-6l1-11l-6-4l-2 14l-1 3l-2 1l-4-1l-3-3l-6-12l10-17l8-19l-8-1l-5 14l-8 13l-3-16l-2-19h30v-7h-30l-1-16h-8l1 16z"/><path id="fN" d="M17-84v92h8v-92zM8-65l-2 13l-3 13l6 2l3-13l2-14zM25-66l7 18l6-3l-7-17zM33-3v7h62v-7h-25v-25h20v-7h-20v-21h22v-7h-22v-21h-8v21h-12l3-15l-7-1l-5 19l-7 16l6 4l7-16h15v21h-21v7h21v25z"/><path id="fO" d="M78-71v28h-17v-28zM43-43v8h11l-1 10l-2 10l-4 10l-6 9l6 4l7-9l4-11l2-12l1-11h17v43h7v-43h11v-8h-11v-28h9v-7h-48v7h8v28zM5-78v6h13l-6 22l-4 9l-5 8l4 8l5-8v36h6v-8h21v-43h-21l7-24h15v-6zM18-41h14v30h-14z"/><path id="fP" d="M38-63l-13 9l-15 6l5 6l8-4l15-8l6-6zM57-59l16 8l13 9l5-5l-14-8l-15-8zM39-45v9h-27v7h26l-1 8l-5 8l-10 8l-16 7l5 6l17-8l11-9l5-10l2-10h20v25l1 5l1 3l3 2h15l5-1l3-3l1-5l1-10l-7-3l-1 14l-2 1l-12-1v-34h-28v-9zM42-83l5 10h-39v17h7v-10h70v9h7v-16h-36l-6-12z"/><path id="fQ" d="M42-81v89h8v-48h3l7 16l8 13l-8 8l-10 6l5 5l10-6l8-8l9 8l9 6l5-7l-9-5l-9-7l9-16l6-18l-5-2l-38 1v-28h32l-1 12l-1 3h-5h-15l2 6h12h9l3-2l1-3l2-10l1-13zM60-40h24l-5 12l-6 11l-7-11zM19-84v20h-14v8h14v21l-16 4l2 8l14-4v26l-2 2h-13l3 7l12-1h3l4-3v-5v-29l13-3l-1-7l-12 3v-19h12v-8h-12v-20z"/><path id="fR" d="M25-83l-8 16l-10 14l7 4l10-14h24v16h-42v7h88v-7h-38v-16h31v-7h-31v-14h-8v14h-21l5-11zM18-30v39h8v-6h49v6h8v-39zM26-4v-19h49v19z"/><path id="fS" d="M27-78l-9 13l-10 10l6 4l11-11l9-14zM66-75l13 11l9 11l7-5l-10-10l-13-11zM45-84v33h1l-20 6l-22 4l4 7l15-3v45h7v-5h45v5h8v-51h-39l19-8l8-5l6-6l-7-4l-7 7l-10 6v-31zM30-24h45v8h-45zM30-29v-8h45v8zM30-10h45v7h-45z"/><path id="fT" d="M24-41h53v15h-53zM24-48v-15h53v15zM24-19h53v14h-53zM46-84l-4 14h-26v78h8v-6h53v6h8v-78h-36l5-13z"/><path id="fU" d="M10-77l19 11l5-6l-20-11zM4-50l19 11l4-6l-19-11zM7 2l6 5l5-8l13-25l-5-5zM37-32v40h7v-4h36v4h8v-40zM44-3v-22h36v22zM33-40l11-2l40-3l4 7l7-4l-9-14l-12-15l-7 3l13 17l-37 2l10-16l10-17l-8-2l-4 10l-10 16l-7 8l-3 2z"/><path id="fV" d="M19-61v58h-14v7h91v-7h-14v-58h-32l1-8h41v-6h-39l1-8l-8-1l-1 9h-37v6h36l-2 8zM26-40h48v8h-48zM26-46v-8h48v8zM26-26h48v9h-48zM26-3v-9h48v9z"/><path id="fW" d="M49-58v6h17v6h-16v6h16v6h-20v6h20v8h-16v28h7v-3h25v3h8v-28h-17v-8h21v-6h-21v-6h16v-6h-16v-6h17v-6h-17v-7h-7v7zM57-1v-13h25v13zM62-82l5 8h-23v15h7v-9h37v9h7v-15h-21h1l-7-11zM8-33l7-2h9v15l-20 3l2 8l18-4v21h7v-22l11-3v-6l-11 2v-14h10v-6h-10v-16h-7v16h-9l8-24h17v-7h-15l2-10l-7-2l-2 12h-13v7h11l-5 17l-3 6l-2 2z"/><path id="fX" d="M41-82l7 13h-43v7h41v14h-31v44h7v-37h24v49h8v-49h24v28l-2 2h-14l2 7h14l4-1l3-3l1-5v-35h-32v-14h41v-7h-40l1-1l-7-15z"/><path id="fY" d="M41-82l5 10h-37v20h8v-13h66v13h8v-20h-36l-6-12zM66-38l-6 11l-8 9l-21-8l8-12zM30-38l-11 16l27 10l-17 8l-21 5l5 7l22-7l10-5l9-5l17 8l14 8l6-6l-14-8l-17-8l8-10l6-13h20v-7h-51l7-15l-8-1l-8 16h-27v7z"/><path id="fZ" d="M7-74l12 11l5-5l-13-10zM44-38l3 7h-42v6h35l-17 9l-19 6l4 5l18-5v6l-2 5l-3 1l2 6l35-8v-6l-25 5v-13l9-5l7-6l8 12l9 9l12 7l14 4l4-6l-13-4l-11-6l17-10l-5-4l-17 11l-7-8l-3-5h38v-6h-39l-5-9zM62-84v14h-23v6h23v16h-20v7h50v-7h-22v-16h24v-6h-24v-14zM4-48l2 6l21-10v15h7v-47h-7v25z"/><path id="ga" d="M49-72l7 16l5 15l7-3l-5-15l-8-16zM79-81l-1 27l-4 23l-8 19l-14 14l6 6l7-7l6-7l4-8l4-9l11 28l7-4l-6-16l-9-18l3-22l2-26zM23-84l-9 23l-6 10l-6 8l4 8l9-13v56h7v-70l8-20zM36-77v60l-1 6l-3 3l5 7l6-6l21-15l-2-6l-18 12v-61z"/><path id="gb" d="M61-84v16h-23v7h23v15h-21v7h3l7 15l9 12l-13 8l-14 5l4 7l15-6l14-8l12 8l15 6l4-6l-14-6l-12-7l7-7l6-8l4-9l4-9l-5-2h-17v-15h24v-7h-24v-16zM50-39h31l-7 12l-9 11l-8-11zM18-84v20h-13v7h13v22l-14 4l2 7l12-3v26l-2 2h-10l2 7l10-1l4-1l2-2l1-5v-29l12-3l-1-7l-11 3v-20h11v-7h-11v-20z"/><path id="gc" d="M61-78l18 15l5-5l-18-14zM46-84v25h-39v8h37l-8 12l-10 12l-11 10l-11 7l5 6l10-6l10-9l9-10l8-11v48h8v-52l17 22l10 10l9 8l6-7l-10-8l-11-9l-9-12l-9-11h36v-8h-39v-25z"/><path id="gd" d="M74-33v40h7v-40zM44-33v17l-3 6l-6 6l-9 6l5 5l11-7l6-7l3-8v-18zM9-77l15 11l5-5l-15-11zM4-51l16 12l5-6l-16-11zM6 1l7 5l4-7l10-25l-6-4zM54-82l4 10h-27v6h11l6 11l9 9l-13 5l-15 3l3 7l17-5l14-6l14 6l16 4l5-7l-16-3l-13-5l8-8l5-11h13v-6h-29l-5-12zM74-66l-4 9l-7 7l-8-7l-6-9z"/><path id="ge" d="M78-79l9 11l5-3l-9-11zM88-50l-4 14l-5 12l-4-34h20v-7h-20v-19h-7v19h-31v7h31l3 24l3 19l-8 10l-9 8l5 4l7-6l7-8l5 11l3 3l3 1l4-1l3-3l1-6l1-8l-5-4l-1 8v5l-2 2l-2-1l-1-3l-4-11l8-16l5-19zM43-53v17h-6v7h5v7l-2 8l-3 8l-5 6l5 4l5-7l4-9l2-17h8v26h6v-26h6v-7h-6v-17h-6v17h-7v-17zM18-84v21h-12v7h12l-6 21l-9 17l4 8l6-12l5-14v44h7v-52l6 12l4-6l-10-15v-3h9v-7h-9v-21z"/><path id="gf" d="M58-84v92h8v-24h30v-7h-30v-16h26v-7h-26v-15h28v-8h-28v-15zM6-24v8h29v24h8v-92h-8v15h-27v8h27v15h-25v7h25v15z"/><path id="gg" d="M37-40h42v9h-42zM37-55h42v9h-42zM70-16l18 20l6-4l-18-20zM37-20l-8 10l-9 10l6 4l5-5l13-17zM13-78v40l-1 14l-3 14l-5 12l6 4l5-13l4-15l1-15v-35h74v-6zM53-70l-4 9h-19v36h24v25l-2 1h-12l2 7h12l4-1l3-3v-4v-25h25v-36h-29l5-8z"/><path id="gh" d="M38-78v7h50v-7zM7-74l17 14l6-6l-18-13zM38-12l9-2l35-3l4 8l7-4l-18-30l-6 3l10 17l-33 2l8-13l7-14h35v-7h-65v7h21l-10 19l-4 8l-3 1zM25-49h-21v7h14v32l-7 4l-7 8l5 6l7-8l3-3l3-1l16 8l6 2l16 1l34-1l3-8l-28 2l-24-1l-6-2l-5-2l-9-5z"/><path id="gi" d="M26-21l-8 10l-12 8l6 6l12-10l10-12zM64-18l11 10l8 10l7-4l-9-10l-11-9zM39-84l-2 12h-27v7h24l-4 7l-6 5l-8 5l-11 4l4 6l13-5l9-6l7-7l4-9h23v19l2 3l3 1l16 1l4-1l3-2l1-5l1-8l-7-3l-1 11l-11 1l-4-3v-21h-28l2-12zM7-34v7h39v26l-2 2h-13l2 7l13-1h3l4-3l1-5v-26h39v-7h-39v-9h-8v9z"/><path id="gj" d="M83-64l-14 12l5 4l12-9l3-3zM6-34l3 6l23-11l-2-6zM8-60l16 12l5-5l-15-11zM68-41l19 14l6-4l-20-14zM5-20v7h41v21h8v-21h41v-7h-41v-8h-8v8zM44-83l4 8h-41v7h37l-8 10l-4 3l2 7l15-2l-11 10l-8 5l2 7l32-4l2 5l6-3l-5-8l-6-9l-6 3l5 6l-18 2l13-12l13-14l-6-3l-7 8l-13 1l10-12h42v-7h-37l-6-10z"/><path id="gk" d="M20-28v36h8v-4h44v4h8v-36zM28-3v-18h44v18zM37-85l-6 9l-7 8l-9 8l-9 6l5 5l16-12l8 7l9 7l-21 9l-20 6l4 7l22-7l22-10l19 10l22 6l5-6l-21-6l-18-8l13-11l11-13l-5-4h-39l7-8zM32-66l1-1h37l-9 9l-11 7l-10-7z"/><path id="gl" d="M38-53v6h49v-6zM38-39v6h49v-6zM31-68v7h64v-7zM54-82l7 14l7-3l-7-13zM37-24v32h6v-4h38v4h7v-32zM43-2v-16h38v16zM26-84l-10 22l-6 10l-7 8l4 7l10-13v58h7v-70l8-20z"/><path id="gm" d="M37-10l11 12l5-4l-11-12zM59-84l-5 11l-3 5l-4 5h1l-6-1l-2 7h-28l9-12h5l4 9l7-2l-3-7h15v-6h-25l4-8l-7-1l-7 13l-10 11l7 4v5h28l-1 5h-22v6h20l-3 6h-28v6h25l-5 7l-6 7l-7 5l-8 5l6 6l12-9l10-10v2h34v15l-2 2l-8-1l2 7h9l3-1l3-2v-20h15v-6h-15v-6h-7v6h-32l4-7h57v-6h-54l2-6h39v-6h-37l2-5h40v-6h-39l1-5l4 3l8-10h7l7 10l6-3l-5-7h18v-6h-30l2-8z"/><path id="gn" d="M74-84v13h-15v-13h-8v13h-12v7h12v13h-14v7h59v-7h-14v-13h12v-7h-12v-13zM59-64h15v13h-15zM52-13h30v10h-30zM52-19v-11h30v11zM45-36v44h7v-4h30v4h8v-44zM17-84v20h-12v7h12v22l-14 4l3 7l11-3v25l-1 2h-11l2 7h11l3-1l3-3l1-5v-27l11-4l-1-7l-10 3v-20h10v-7h-10v-20z"/><path id="go" d="M45-41l-4 11l-7 10l6 4l7-11l5-13zM84-40l-7 16l-10 12l-15 8l-20 5l4 7l21-6l16-9l11-13l7-18zM9-77l10 5l7 6l5-6l-8-6l-10-5zM4-51l10 6l8 5l4-6l-8-5l-10-5zM6 2l7 5l4-8l11-25l-6-4zM32-53v6h28v30h8v-30h28v-6h-27v-12h22v-7h-22v-12h-8v31h-11v-21h-8v21z"/><path id="gp" d="M25-61v6h51v-6zM37-38h26v19h-26zM30-44v39h7v-7h33v-32zM9-79v87h7v-80h68v70l-2 3h-14l2 7h13l4-1l3-3l1-6v-77z"/><path id="gq" d="M39-47l-4 13l-6 12l6 4l6-13l4-15zM84-46l6 29l7-2l-7-28zM16-84v23h-11v7h11v62h7v-62h11v-7h-11v-23zM55-83v18h-18v7h18l-2 15l-4 16l-8 16l-13 14l6 5l14-15l8-17l5-17l1-17h14l-2 42l-1 10l-2 4l-4 2h-13l2 7h11l7-1l4-3l2-6l1-11l2-51h-21v-18z"/><path id="gr" d="M54-79l6 11l4 10l7-3l-4-10l-7-11zM11-77l13 15l6-4l-13-15zM83-78l-3 15l-4 15l-5 13l-7 12l-7-12l-5-12l-5-14l-3-16l-7 2l4 17l4 15l6 14l8 12l-12 11l-16 8l5 7l15-9l13-11l12 11l16 8l6-6l-16-8l-13-11l8-13l6-14l4-16l4-17zM5-53v8h14v35l-2 6l-3 4l5 5l21-16l-2-7l-12 9v-44z"/><path id="gs" d="M41-43l3-1l13-1l-4 8l-5 7l-5 6l-7 6l-1-6l-11 4v-32h11v-8h-11v-23h-7v23h-12v8h12v34l-13 5l2 8l30-12v-1l6 4l7-6l6-7l5-8l4-10h8l-5 16l-8 13l-9 11l-12 9l6 4l11-10l10-12l8-14l6-17h7l-1 19l-3 21l-2 4l-4 1h-10l3 7h10l4-1l3-2l2-5l2-10l4-41h-40l15-10l16-14l-6-4l-41 1v7h32l-18 14l-10 6l-4 2z"/><path id="gt" d="M78-69l-7 13l-7 11l10 5l16-24zM13-60l5 9l4 9l11-4l-4-9l-6-9zM81-85l-34 5l-40 2l3 11l42-2l39-5zM5-38v12h30l-15 12l-18 9l9 11l17-11l15-14v28h13v-28l15 14l18 11l9-11l-18-9l-15-12h30v-12h-39v-9h-9l10-3l-3-9l-4-9l-11 4l4 9l2 8h-2v9z"/><path id="gu" d="M87-84l-23 3l-28 1l3 9l28-1l27-4zM81-74l-7 16h-13l9-2l-2-12l-10 2l2 12h-11l5-1l-4-12l-9 3l3 10h-6v10h11v4h-14v10h13l-3 10l-4 9l-6 8l-8 7l7 9l12-10l7-12l8 8l-17 5l7 9l10-3l9-5l10 5l11 3l7-10l-10-2l-9-3l7-10l4-12l-6-2h-26l1-4h37v-10h-36l1-4h33v-10h-10l8-12zM60-21h17l-7 10zM24-39v19h-7v-19zM24-49h-7v-18h7zM6-77v75h11v-8h18v-67z"/><path id="gv" d="M5-74l17 17l9-8l-18-16zM27-47h-24v11h13v24l-5 3l-9 7l8 10l6-8l6-4l15 8l6 2l16 1l35-1l4-12l-19 2l-27 1l-14-2l-11-7zM37-82v9h36l-9 6l-13-5l-7 6l14 6h-22v52h11v-15h12v15h11v-15h11v4l-1 2h-8l3 9h10l4-1l3-4l1-5v-42h-14l-5-3l10-6l8-8l-7-5zM81-51v5h-11v-5zM47-37h12v5h-12zM47-46v-5h12v5zM81-37v5h-11v-5z"/><path id="gw" d="M15-82l-1 42l-1 14l-4 14l-6 13l10 8l7-14l4-17l2-16l1-32h45l1 34l2 25l4 14l9 5l5-1l3-3l1-6l1-8l-7-10l-1 13l-1 2l-3-5l-1-14l-1-58zM58-64l-8 19l-12-16l-10 5l16 22l-9 12l-11 10l9 9l9-9l9-12l11 19l11-6l-15-24l6-13l5-13z"/><path id="gx" d="M43-38v9h-19v-9zM56-38h19v9h-19zM43-49h-19v-10h19zM56-49v-10h19v10zM11-70v59h13v-6h19l1 15l3 6l5 3l9 1h19l7-1l6-4l3-7l1-10l-9-4v-52h-32v-14h-13v14zM85-17l-1 8l-2 4l-4 1h-16l-4-1l-2-2v-10z"/><path id="gy" d="M26-60v10h59v-10zM24-85l-4 10l-6 10l-6 8l-7 7l11 8l8-10l8-13h65v-10h-60l3-7zM15-45v10h51l2 17l3 14l6 9l9 4l5-1l3-4l2-5l1-8l-8-7l-1 11l-1 2l-4-4l-3-9l-2-29z"/><path id="gz" d="M57-39h23v11h-23zM32-12l2 21l12-2l-2-21zM54-13l5 21l12-2l-6-21zM74-13l11 22l12-5l-12-21zM16-16l-6 11l-7 9l12 5l6-10l6-12zM19-71h10v13h-10zM19-32v-15h10v15zM43-81v10h14l-2 5l-3 4l-5 3l-7 3v-25h-32v64h11v-5h21v-34l6 8v30h45v-30h-43l9-4l6-6l4-6l2-7h13l-2 9l-2 1h-9l3 10l11-1l4-1l3-2l3-7l1-19z"/><path id="gA" d="M31-44v15h-13v-15zM31-54h-13v-15h13zM7-80v71h11v-9h24v-62zM82-70v13h-21v-13zM49-81l-1 48l-2 13l-6 11l-10 11l10 8l7-7l5-8l4-9l3-9h23v18l-2 2h-13l4 12h11l7-2l3-3l2-3v-6v-76zM82-46v13h-22l1-13z"/><path id="gB" d="M6-61l12 39l12-5l-13-37zM83-64l-6 19l-8 17v-56h-12v76h-14v-76h-12v76h-26v12h90v-12h-26v-19l9 5l8-17l8-19z"/><path id="gC" d="M19-44v53h13v-3h42v3h12v-26h-54v-5h49v-22zM74-2h-42v-6h42zM42-63l3 6h-38v17h12v-8h62v8h12v-17h-36l-4-8zM32-35h37v5h-37zM16-86l-5 13l-8 10l10 5l9-12h3l6 11l10-3l-4-8h13v-8h-24l2-6zM59-86l-4 11l-6 8l10 5l6-8h3l8 12l10-5l-5-7h14v-8h-26l2-6z"/><path id="gD" d="M4-75l8 8l6 9l10-7l-14-16zM49-36h27v6h-27zM49-23h27v6h-27zM49-49h27v5h-27zM38-57v48h50v-48h-23l3-6h27v-10h-16l6-9l-11-3l-7 12h-15l5-2l-7-11l-10 4l5 9h-14v10h24l-1 6zM28-49h-24v11h12v27l-14 10l8 10l7-8l3-2l3-1l10 5l13 4l16 1l32-1l3-12l-27 2h-23l-12-4l-7-4z"/><path id="gE" d="M45-41v15h-25v-15zM53-41h26v15h-26zM45-48h-25v-14h25zM53-48v-14h26v14zM13-70v57h7v-6h25l1 18l2 4l5 3h29l6-1l5-3l2-7l1-9l-7-4l-2 13l-2 3l-4 1l-25-1l-2-2l-1-4v-11h33v-51h-33v-14h-8v14z"/><path id="gF" d="M25-59v6h60v-6zM26-84l-5 10l-5 11l-6 9l-7 7l7 5l8-11l8-13h67v-7h-64l4-9zM15-45v7h55l1 18l3 15l6 9l8 4l4-1l2-3l2-13l-5-4l-1 12l-2 1l-5-3l-3-11l-2-14l-1-17z"/><path id="gG" d="M34-11l2 18l8-1l-3-18zM55-11l6 18l7-1l-6-19zM76-12l7 11l6 9l7-3l-14-20zM17-14l-6 10l-7 9l7 3l7-9l6-11zM22-84v14h-15v7h15v15l-17 5l1 7l16-4v15l-2 1h-10l2 7h10l3-1l3-3l1-4v-17l12-4l-1-7l-11 3v-13h11v-7h-11v-14zM57-84l-1 14h-13v7h13l-2 17l-8-5l-4 6l10 6l-6 10l-9 7l5 6l10-9l6-10l12 9l4-6l-14-10l3-21h14v20l1 15l3 9l7 3l4-1l3-2l1-5l1-7l-6-3l-1 10l-2 1l-3-3l-1-8v-36h-20v-14z"/><path id="gH" d="M41-84v22h-33v8h33l-3 14l-5 15l-11 14l-17 13l6 6l18-14l11-16l6-16l2-16h35l-4 38l-2 10l-2 4l-5 2l-16-1l3 8h16l5-1l4-3l3-6l2-11l4-48h-42v-22z"/><path id="gI" d="M59-7l16 7l14 7l5-5l-29-14zM54-35l-1 16l-4 7l-10 7l-18 7l5 6l19-8l11-9l5-8l1-18zM29-46v35h8v-28h43v28h7v-35h-28l1-10h35v-6h-34l1-11l27-5l-6-6l-31 5l-38 2v41l-2 13l-3 14l-5 12l6 4l6-13l3-15l2-14v-21h31l-1 10zM53-62h-32v-8l33-3z"/><path id="gJ" d="M46-84v32h-34v8h34v40h-41v8h90v-8h-41v-40h34v-8h-34v-32z"/><path id="gK" d="M43-46v40h7v-34h14v48h7v-48h14v26l-1 1h-9l2 7l12-1l3-3v-4v-32h-21v-18h23v-7h-38l4-11l-7-2l-6 16l-8 14l6 3l8-13h11v18zM15-84l-4 22l-4 9l-4 8l6 5l4-10l5-12h14l-5 14l6 2l8-21l-5-2l-17 1l3-14zM17 7l5-5l16-12l-2-6l-12 8v-40h-7v40l-1 6l-3 4z"/><path id="gL" d="M70-39l-11 8l-14 5l5 4l14-6l12-8zM79-29l-6 5l-8 5l-18 6l4 5l19-7l8-5l7-6zM89-18l-9 7l-11 6l-13 4l-15 3l4 6l16-4l13-5l12-6l9-8zM31-56v48h6v-48zM55-67h28l-6 8l-8 6l-8-7zM56-84l-8 15l-11 13l6 4l9-10l7 9l4 4l-12 5l-14 3l4 6l14-4l14-6l11 5l13 4l4-6l-12-3l-10-4l10-10l8-12l-5-2h-29l4-9zM24-83l-10 22l-6 10l-6 8l4 8l9-13v56h7v-69l8-21z"/><path id="gM" d="M4-5l2 7l33-8l-1-7zM6-42l16-3l-10 13l-4 5l-4 2l3 7l6-2l25-6v-6l-21 4l12-15l10-16l-6-4l-7 11l-12 1l8-14l8-16l-8-3l-10 24l-6 8l-2 2zM63-84l-4 11l-6 10l-8 8l-9 8l6 5l8-7v5h32v-6l8 7l6-6l-8-6l-7-7l-7-8l-5-9l1-3zM80-51h-28l8-10l6-10l7 10zM45-33v41h7v-5h26v5h8v-41zM52-4v-22h26v22z"/><path id="gN" d="M18-84v20h-12v7h12v22l-14 4l2 7l12-3v26l-2 1h-9l3 7h9l3-1l3-3v-4v-29l12-3l-1-7l-11 3v-20h11v-7h-11v-20zM38-25v7h17v26h7v-91h-7v16h-15v7h15v14h-15v7h15v14zM72-83v91h7v-26h17v-7h-17v-14h15v-7h-15v-14h16v-7h-16v-16z"/><path id="gO" d="M7-58v7h25l-5 14l-6 12l-8 10l-9 7l6 6l10-9l9-12l7-16l5-18l-5-2zM82-65l-9 11l-11 11l-8-17v-24h-8v82l-2 2h-13l3 8h12l4-2l3-2l1-6v-42l8 13l9 11l10 10l11 8l6-7l-9-5l-9-7l-7-8l-7-9l22-22z"/><path id="gP" d="M80-69l-7 13l-8 12l7 3l16-25zM14-62l6 9l4 9l7-2l-4-10l-6-9zM41-66l4 10l3 8l7-2l-3-9l-4-9zM83-83l-34 4l-40 3l2 7l41-3l37-4zM6-37v7h34l-8 8l-9 8l-10 7l-10 5l6 6l10-5l10-7l9-9l8-9v34h8v-34l8 9l9 8l10 7l10 6l6-7l-10-5l-10-6l-10-8l-8-8h35v-7h-40v-9h-8v9z"/><path id="gQ" d="M59-72l3 14l6-2l-3-13zM87-83l-23 3l-28 2l2 5l28-1l25-4zM41-70l5 13l6-2l-5-12zM83-74l-9 17h-36v6h12v8h-15v7h14l-3 11l-4 10l-6 10l-10 8l6 5l6-6l6-6l7-14l4 4l8 9l-9 4l-11 3l4 6l11-4l11-5l11 5l12 4l5-6l-12-3l-10-5l8-9l5-13l-4-2h-29l1-6h39v-7h-38l1-8h35v-6h-12l9-15zM56-24h24l-5 8l-6 7l-8-7zM27-41v23h-13v-23zM27-48h-13v-22h13zM8-76v72h6v-7h19v-65z"/><path id="gR" d="M16-79v42l-2 14l-4 14l-6 12l6 5l7-13l4-15l2-16l1-36h52v34l2 25l4 15l7 5l4-1l2-3l2-14l-5-5l-1 13l-1 2l-4-5l-2-16v-57zM61-65l-5 12l-5 12l-17-20l-6 3l19 24l-11 14l-12 11l6 6l11-11l10-14l15 23l8-4l-19-26l7-14l6-14z"/><path id="gS" d="M41-16l-5 11l-7 10l6 3l7-10l4-12zM81-14l10 22l7-3l-11-21zM83-80l7 15l5-2l-7-15zM52-13l2 20l7-1l-3-20zM66-13l6 20l6-2l-6-19zM9-65l-2 13l-3 12l5 2l3-12l2-14zM74-84v21l-10 1v6h10l-1 9l-3 9l-6 8l-9 8l5 5l7-6l5-7l4-7l3-7l5 16l4 6l5 4l5-5l-6-6l-4-8l-4-9l-2-10h14v-7h-15v-21zM46-84l-6 22l-5 9l-5 9l5 4l7-13l6-15h10l-2 12l-7-4l-3 5l8 4l-3 8l-7-5l-3 4l7 6l-7 9l-8 7l5 5l8-8l8-10l5-12l5-15l1-11l-3-1h-12l2-9zM31-70l-7 19v-32h-6l-1 48l-1 13l-5 13l-7 12l5 5l5-7l4-7l4-15l8 12l5-5l-11-16v-20l4 2l8-20z"/><path id="gT" d="M54-26l12 4l9 4l3-5l-21-9zM9-26l12 4l9 4l3-6l-21-8zM5-9l3 7l29-10l-1 5l-2 6l-4 2l-10-1l2 7h11l4-1l3-2l2-4l2-8l2-33h-29l1-13h28v-27h-38v7h30v13h-27l-1 26h29l-1 16zM56-61l-2 26h31l-1 15l-33 11l3 7l29-11l-2 11l-1 2l-4 2l-13-1l2 7h11l7-1l3-2l3-4l1-8l2-34h-30l1-13h28v-27h-38v7h31v13z"/><path id="gU" d="M46-21l7 8l5 8l6-4l-5-8l-8-8zM64-84v11h-19v7h19v12h-25v8h37v11h-36v7h36v27l-2 1h-13l3 8h12l4-1l3-3l1-5v-27h11v-7h-11v-11h12v-8h-25v-12h20v-7h-20v-11zM10-76l-2 18l-4 16l6 3l4-17h7v24l-16 5l1 8l15-5v32h7v-34l11-4l-1-7l-10 3v-22h10v-7h-10v-21h-7v21h-6l1-12z"/><path id="gV" d="M65-83v18h-10l3-13l-7-1l-4 16l-7 14l1-9l-4-1h-15l3-13h19v-7h-39v7h13l-6 22l-4 9l-5 8l5 6l6-11l6-14h14l-5 20l-11-7l-4 6l13 9l-5 8l-5 8l-5 5l-7 5l5 6l10-9l9-12l6-15l5-20l5 4l7-14h13v17h-24v7h20l-5 8l-7 8l-7 7l-8 6l5 5l7-5l7-7l12-16v36h7v-37l9 16l12 12l5-5l-6-6l-6-6l-10-16h20v-7h-24v-17h20v-7h-20v-18z"/><path id="gW" d="M53-84l-7 22l-4 9l-6 8l6 4l6-9l5-10h9l-5 12l-5 11l-7 10l-7 8l5 5l8-9l7-11l6-13l4-13h8l-5 19l-7 17l-9 15l-11 11l6 4l12-12l9-16l7-19l5-19h5l-2 25l-4 28l-2 5l-4 2l-10-1l2 8h12l3-1l3-3l3-6l2-12l4-52h-39l4-16zM10-78l-3 18l-4 15l6 4l4-15h9v22l-18 6l2 7l16-5v34h7v-37l13-4l-1-6l-12 3v-20h11v-8h-11v-20h-7v20h-8l2-13z"/><path id="gX" d="M40-56l-4 18l-5 16l-13-10l6-24zM10-29l17 13l-10 11l-12 7l4 6l13-8l11-11l10 11l5-7l-11-10l4-9l3-11l4-26l-5-1h-17l3-19l-7-1l-4 20h-13v8h12zM53-73v79h7v-8h25v6h7v-77zM60-9v-57h25v57z"/><path id="gY" d="M9-64l-1 13l-3 12l5 2l3-12l2-14zM36-66l-6 20l4 3l9-21zM20-84l-1 49l-2 13l-5 13l-9 12l6 5l5-6l5-7l5-16l11 15l5-5l-14-17l1-16v-40zM59-81l10 14h-23v40l-2 11l-3 10l-7 9l6 5l7-9l4-11l2-11l1-11h32v7h7v-40h-24l6-3l-2-4l-7-10zM86-41h-32v-19h32z"/><path id="gZ" d="M58-61l15 7l12 7l4-5l-13-7l-15-7zM37-66l-13 8l-14 6l4 5l13-5l-6 10l-9 9l6 4l9-10h19v11h-40v7h40v18h-23v-15h-7v22h62v4h7v-26h-7v15h-24v-18h40v-7h-40v-11h30v-6h-53l3-6l-6-1l15-10zM43-82l4 7h-39v16h7v-10h70v10h7v-16h-36l-5-9z"/><path id="ha" d="M6-76l9 8l6 8l6-4l-15-16zM46-37h33v9h-33zM46-23h33v8h-33zM46-50h33v8h-33zM38-56v47h48v-47h-24l4-8h29v-7h-19l7-11l-7-2l-8 13h-18l5-2l-7-11l-7 2l7 11h-17v7h27l-3 8zM26-48h-21v7h14v31l-7 4l-8 7l5 6l7-8l7-4l15 8l6 2l16 1l34-1l2-8l-27 2l-24-1l-11-3l-8-5z"/><path id="hb" d="M46-64l7 14l6-3l-8-13zM16-84v20h-12v7h12v22l-13 4l2 7l11-3v26l-2 2h-8l2 7l9-1l3-1l2-2l1-5v-29l10-3l-1-7l-9 3v-20h10v-7h-10v-20zM57-82l4 8h-23v7h55v-7h-24l-5-9zM77-66l-9 16h-33v6h60v-6h-19l8-14zM76-26l-3 8l-6 7l-17-6l6-9zM40-14l21 8l-13 5l-16 2l3 7l19-4l14-7l21 11l5-6l-20-10l6-8l4-10h12v-7h-36l5-9l-7-1l-6 10h-18v7h15z"/><path id="hc" d="M20-85v10h-15v10h15v7h-13v10h13v6h-16v10h13l-7 11l-8 8l5 11l7-7l6-9v27h11v-28l7 11l8-9l-13-15h12v-10h-14v-6h10v-10h-10v-7h12v-10h-12v-10zM82-85l-17 8l-21 7l4 9l14-4v11l-16 3l2 11l14-2v11l-18 2l2 11l16-2v20l2 4l4 3l17 1l6-1l3-4l3-6l1-9l-10-4l-2 12l-2 2h-8l-2-1l-1-19l24-4l-1-10l-23 3v-11l20-4l-1-10l-19 3v-13l19-9z"/><path id="hd" d="M14-78v47l-2 11l-3 12l-7 10l10 8l5-7l3-7l4-16h21v28h12v-28h21v15l-2 2h-14l3 11l16-1l7-3l2-4v-5v-73zM26-67h19v12h-19zM78-67v12h-21v-12zM26-44h19v12h-19zM78-44v12h-21v-12z"/><path id="he" d="M54-41l14 24l10-7l-15-22zM58-85l-5 18l-8 15v-17h-15l5-14l-13-2l-3 16h-12v75h11v-7h27v-47l8 5l9-15h21l-2 38l-1 10l-2 5l-5 2l-15-1l2 4l2 8h16l5-2l5-4l2-6l2-12l2-54h-28l4-12zM18-58h16v16h-16zM18-12v-20h16v20z"/><path id="hf" d="M74-85v21h-26v11h23l-7 11l-7 10l-9 9l-9 7l9 10l14-13l12-17v30l-2 3l-14-1l4 12l16-1l4-1l3-2l2-4v-6v-47h10v-11h-10v-21zM20-85v21h-16v11h14l-7 18l-9 15l6 12l6-10l6-12v39h12v-45l9 12l7-11l-16-15v-3h13v-11h-13v-21z"/><path id="hg" d="M4-77l3 12l1 12l9-3l-2-11l-3-12zM37-80l-6 24l8 2l8-23zM50-71l9 6l7 7l6-9l-7-7l-9-6zM46-46l9 6l7 6l6-9l-7-6l-10-6zM4-52v12h11l-6 14l-7 12l5 12l7-11l5-14v36h11v-35l7 13l8-10l-15-17h15v-12h-15v-32h-11v32zM45-22l1 11l28-5v25h12v-27l12-2l-2-12l-10 2v-55h-12v57z"/><path id="hh" d="M42-85v17l-4 23l-12 24l-23 20l10 10l14-10l10-12l8-13l5-13l5 13l8 13l11 12l15 9l5-7l4-3l-21-15l-13-19l-6-19l-3-14l1-16z"/><path id="hi" d="M60-84v11h-28v7h28v10h-25v28h24l-2 10l-3 5l-7-6l-6-7l-6 2l6 8l9 8l-9 6l-13 4l5 6l13-5l10-7l17 8l20 4l4-7l-20-3l-17-7l5-9l2-10h26v-28h-26v-10h29v-7h-29v-11zM42-50h18v15h-18zM67-50h19v15h-19zM28-84l-5 11l-6 11l-7 9l-8 8l4 8l11-13v58h7v-69l11-21z"/><path id="hj" d="M44-56h12v5h-12zM44-69h12v5h-12zM3-7l3 11l27-11l-2-9zM43-41l3 5h-12v10h7l-3 16l-3 7l-6 5l6 7l6-4l4-6l4-12h6l-2 13h-2h-6l2 8l12-1l2-2l2-3l6 7l7-6l5-8l9 14l8-9l-7-8l-5-10l5-17l2-20h4v-11h-17l2-18l-10-1l-2 19l-5 17v-28h-11l2-7l-11-1l-1 8h-9v34h17zM62-43v1l7 8l2-4l5 20l-5 10l-7 7l2-21h-16l1-4h16v-10h-10l-4-7zM6-41l10-2l-10 14l-3 3l3 9l7-3l19-5v-9l-12 2l8-13l7-13l-9-6l-5 11h-6l7-13l6-14l-11-5l-8 23l-4 8l-3 2zM77-55h7l-3 22l-3-15z"/><path id="hk" d="M3-7l2 11l33-8l-1-10zM82-53v28l-10-18l1-10zM62-85v21h-21v73h11v-25l5 4l6-8l4-9l8 15l7-4v13l-2 2h-11l3 11l12-1l4-1l3-2l2-4v-64h-19v-21zM52-24v-29h9l-3 15zM6-41l13-3l-8 11l-4 4l-4 3l3 9l8-2l23-5v-10l-16 3l10-13l9-14l-9-6l-6 10l-9 1l8-13l7-14l-11-5l-10 23l-5 8l-3 2z"/><path id="hl" d="M46-80v53h12v-43h23v43h12v-53zM18-84v14h-12v12h12v12h-14v11h14l-2 9l-3 10l-4 8l-7 8l9 8l6-6l4-7l6-16l10 15l8-9l-16-18v-2h14v-11h-13v-12h12v-12h-12v-14zM64-64l-1 28l-4 13l-8 12l-16 11l8 9l8-5l6-5l10-12v14l2 3l4 2l12 1l6-1l3-3l2-7l1-9l-9-4l-2 13l-2 2h-4l-3-4v-24h-4l2-12v-22z"/><path id="hm" d="M63-10l14 8l11 8l6-5l-12-7l-13-8zM29-14l-11 8l-12 7l6 5l6-3l18-14zM19-32l23-2l-24 10l-8 2l2 7l36-3v17l-2 2h-13l3 7l11-1l4-1l3-2l1-5v-18l25-1l6 7l6-4l-9-9l-11-10l-6 3l9 7l-44 3l21-9l21-11l-6-5l-14 8l-22 2l20-12l-3-3h38v13h8v-19h-40v-10h38v-6h-38v-9h-8v9h-38v6h38v10h-39v19h7v-13h29l-15 10l-11 5z"/><path id="hn" d="M50-63l4 17l7-1l-2-9l-3-9zM20-65v37l-3 12l-5 10l-9 9l4 5l10-10l6-12l2-12l1-39zM24-12l12 17l5-3l-12-18zM8-78v60h5v-53h19v53h6v-60zM41-45v7h55v-7h-15l8-18l-8-2l-7 20zM47-30v38h7v-5h29v5h7v-38zM54-4v-19h29v19zM62-83l4 11h-23v6h50v-6h-19l-5-12z"/><path id="ho" d="M15-84v92h7v-92zM7-65l-1 14l-3 12l6 2l2-13l2-14zM23-67l5 14l6-2l-6-14zM45-21h36v8h-36zM45-27v-7h36v7zM59-84v8h-26v6h26v6h-23v6h23v6h-29v6h66v-6h-30v-6h24v-6h-24v-6h27v-6h-27v-8zM38-40v48h7v-16h36v8l-2 1h-11l2 7l11-1l3-1l3-2l1-4v-40z"/><path id="hp" d="M85-82l-13 12l-15 9l6 5l15-10l14-14zM88-55l-14 13l-16 10l6 5l16-11l14-14zM90-28l-7 9l-9 8l-10 7l-11 6l6 6l11-6l10-8l9-9l8-10zM40-71v26h-16v-26zM4-45v7h13l-1 11l-2 11l-4 10l-6 10l5 5l8-11l4-11l2-12l1-13h16v46h8v-46h11v-7h-11v-26h9v-7h-51v7h11v26z"/><path id="hq" d="M63-33v9h-26v-9h-12v9h-21v11h18l-6 7l-12 6l8 9l10-4l7-6l4-6l2-6h28v22h12v-22h21v-11h-21v-9zM13-74v24l1 7l4 5l8 2l48 1l9-1l6-2l4-5l2-7l-11-4v-26h-71zM83-53l-1 5l-3 2h-6h-43l-4-1l-1-4v-2zM25-70h47v7h-47z"/><path id="hr" d="M35-48h30v7h-30zM14-27v31h12v-20h19v25h12v-25h18v9l-2 2h-11l4 11l12-1l5-1l3-2l1-4l1-25h-31v-6h20v-23h-54v23h22v6zM74-84l-8 11l6 2h-16v-14h-12v14h-16l5-3l-7-10l-11 4l6 9h-14v24h12v-14h62v14h12v-24h-15l8-9z"/><path id="hs" d="M14-63l3 9l3 8l11-4l-3-8l-4-8zM76-67l-8 18l10 3l10-17zM25-24l1 24l3 4l5 3h28h7l5-3l3-6l1-9l-10-4l-1 8l-2 3l-3 1l-23-1l-2-3v-17zM73-24l7 14l5 13l11-4l-5-13l-7-14zM13-25l-4 14l-5 12l10 5l6-13l4-14zM39-28l8 10l7 9l10-5l-6-9l-8-9h44v-10h-29v-28h26v-10h-81v10h24v28h-28v10h40zM46-70h8v28h-8z"/><path id="ht" d="M24-80l-7 12l-10 9l10 7l11-11l8-14zM44-85v29h6l-21 7l-25 3l6 11l32-6l-1 10h-30v10h27l-4 7l-7 5l-10 4l-14 4l6 10l17-5l12-7l8-8l5-10h26l-1 9l-3 8l-5 1l-14-1l3 8l1 4h12l9-1l4-3l2-4l4-15l1-16h-37l1-11h-11l20-8l9-5l7-7l6 9l10-7l-9-11l-11-10l-10 5l13 13l-11-4l-3 3l-8 6v-27z"/><path id="hu" d="M29-65v54h11v-54zM47-81v10h30l-1 8h-34v10h10l-5 11l-7 10l10 6l6-10h8v10h-21v10h19l-3 4l-4 5l-7 4l-10 3l8 9l15-8l9-9l8 10l6 3l8 3l7-9l-9-3l-6-4l-4-4l-3-4h19v-10h-20v-10h18v-10h-33l2-5l-9-2h42v-10h-9l2-17l-8-1zM21-85l-8 22l-11 17l6 13l5-7v49h11v-70l8-20z"/><path id="hv" d="M27-18l-9 8l-11 7l8 9l11-9l10-11zM63-12l10 9l7 10l9-7l-8-9l-10-9zM63-67l-13 10l-13-10zM36-85l-5 7l-6 6l-9 7l-10 5l9 9l14-9l10 9l-17 5l-19 4l5 10l22-5l21-7l18 7l21 4l7-11l-18-3l-17-4l12-10l8-12l-8-4h-29l4-6zM44-38v8h-30v10h30v17l-2 1h-9l3 11l11-1l4-1l3-2l2-3v-5v-17h31v-10h-31v-8z"/><path id="hw" d="M32-36v11h27v34h12v-34h26v-11h-26v-18h21v-12h-21v-18h-12v18h-9l3-11l-11-2l-5 18l-7 15l10 5l6-13h13v18zM24-85l-10 21l-6 9l-6 8l6 13l6-8v51h12v-69l10-21z"/><path id="hx" d="M63-52l12 8l8 9l6-5l-9-8l-11-8zM32-84v48h7v-48zM12-80v41h7v-41zM62-84l-8 21l-5 9l-6 8l6 4l7-9l6-12h32v-7h-29l4-12zM16-30v28h-11v7h91v-7h-11v-28zM23-2v-22h13v22zM43-2v-22h14v22zM64-2v-22h14v22z"/><path id="hy" d="M46-84v16h-33v8h33v17h-40v7h36l-8 10l-10 9l-10 7l-11 6l6 6l10-6l10-7l9-9l8-10v38h8v-38l8 10l9 9l10 7l10 6l6-6l-11-6l-10-7l-10-9l-8-10h36v-7h-40v-17h33v-8h-33v-16z"/><path id="hz" d="M38-42v9h-21v-9zM10-48v56h7v-20h21v11l-1 2h-11l3 7l13-2l3-2l1-5v-47zM17-28h21v10h-21zM86-76l-24 9v-17h-7v33l1 5l2 4l3 1l6 1h17l5-1l4-2l1-5l1-8l-6-2l-1 7l-1 3l-3 1h-16l-5-1l-1-3v-10l29-10zM87-32l-11 6l-14 5v-16h-7v33l1 6l2 3l3 2h6h18l5-1l3-2l2-6l1-8l-6-3l-1 9l-2 3l-3 1h-16h-4l-2-3v-12l16-5l14-6zM8-55l33-4l3 6l6-3l-5-11l-8-11l-6 2l7 12l-22 1l13-19l-8-2l-9 15l-4 5l-2 2z"/><path id="hA" d="M10-34v36h71v6h9v-42h-9v29h-27v-35h32v-35h-9v27h-23v-36h-8v36h-23v-27h-8v35h31v35h-27v-29z"/><path id="hB" d="M23-35l-8 16l-11 13l6 5l12-14l9-18zM68-32l11 16l7 15l7-3l-7-15l-11-16zM15-77v8h70v-8zM6-52v7h40v43l-2 2h-16l3 8l15-1h3l4-3l1-6v-43h40v-7z"/><path id="hC" d="M7-74l10 7l8 7l5-6l-8-6l-10-6zM43-23l1 6l31-2l1 5l6-2l-7-17l-5 1l3 8h-8v-12h19v24l-1 2h-11l3 5h10l3-1l3-2v-4v-30h-26v-6h22v-33h-50v33h21v6h-25v36h7v-30h18v12zM44-62h14v8h-14zM65-62h15v8h-15zM44-76h14v8h-14zM65-76h15v8h-15zM25-49h-20v7h13v32l-7 5l-7 7l5 6l7-9l3-2l3-1l15 8l7 2l15 1l35-1l2-8l-27 2l-24-1l-6-1l-5-3l-9-5z"/><path id="hD" d="M64-75v60h7v-60zM84-82v78l-2 2h-13l2 8l16-2l3-2l1-6v-78zM6-4l2 7l50-10v-6l-22 4v-16h20v-7h-20v-10h-7v10h-19v7h19v17zM12-44l37-4l4 6l5-4l-6-10l-9-12l-5 4l7 10l-25 2l11-19h27v-6h-51v6h16l-9 16l-5 4z"/><path id="hE" d="M48-62h33v8h-33zM48-75h33v8h-33zM41-81v33h47v-33zM43-30l-2 11l-3 9l-4 7l-6 7l6 4l6-8l6-10l5 8l7 5l9 3h28l2-6l-29-1v-15h21v-7h-21v-11h26v-7h-58v7h25v31l-8-5l-5-10l2-11zM16-84v20h-12v7h12v22l-13 4l2 7l11-3v26l-1 1h-10l2 7h10l3-1l3-3v-4v-29l11-3v-7l-11 3v-20h11v-7h-11v-20z"/><path id="hF" d="M40-28l12 20l6-4l-12-19zM73-54v11h-39v7h39v34l-2 3l-16-1l3 8l15-1h3l4-3l1-6v-34h13v-7h-13v-11zM26-55l-10 16l-12 13l5 6l10-10v38h7v-48l7-13zM18-84l-6 14l-8 12l6 4l9-14h5l7 14l6-3l-5-11h16v-6h-26l4-9zM58-84l-7 14l-9 11l7 5l10-14h7l7 12l6-3l-6-9h20v-6h-31l3-9z"/><path id="hG" d="M12-50l9 10l7 9l6-4l-7-10l-10-9zM4-9l5 7l37-22v22l-3 2h-15l3 8h11l7-1l4-3l1-6v-40l7 13l9 12l10 9l11 8l6-7l-8-4l-8-5l-12-14l21-21l-7-4l-18 19l-6-11l-5-13h40v-7h-12l4-5l-19-11l-4 4l18 12h-27v-17h-8v17h-40v7h40v28z"/><path id="hH" d="M37-80v44l-2 14l-2 13l-5 13l6 4l5-13l3-15l1-15l1-20h48v-25zM44-73h41v12h-41zM47-20v24h39v4h7v-28h-7v18h-13v-23h18v-23h-6v16h-12v-19h-7v19h-11v-16h-6v23h17v23h-12v-18zM16-84v20h-12v7h12v22l-13 4l2 7l11-3v26l-2 1h-9l2 7h10l3-1l2-3l1-4v-29l10-3l-1-7l-9 3v-20h10v-7h-10v-20z"/><path id="hI" d="M16-37v45h8v-5h52v5h8v-45h-30v-22h41v-7h-41v-18h-8v18h-41v7h41v22zM24-4v-26h52v26z"/><path id="hJ" d="M79-52l7 14l4 13l6-2l-4-13l-6-14zM39-54l-4 14l-8 12l7 3l7-12l5-16zM7-74l10 7l7 7l6-5l-8-7l-10-6zM55-82l6 12h-28v7h19v21l-3 11l-5 11l-9 10l6 4l10-11l5-11l3-12v-23h10v49l-1 1h-10l2 7l10-1h3l3-3v-4v-49h19v-7h-26h1l-2-4l-6-10zM25-49h-20v7h13v32l-7 4l-7 7l5 7l7-9l3-3l3-1l15 9l7 2l15 1l35-1l2-8l-27 2l-24-1l-6-2l-5-2l-9-6z"/><path id="hK" d="M65-33v11h-32l1-11h-8v11h-21v6h20l-2 5l-4 5l-6 5l-8 4l5 5l10-5l6-6l4-6l3-7h32v24h8v-24h22v-6h-22v-11zM14-76v27l1 6l3 4l7 2h10h40h8l5-2l3-5l2-7l-7-2l-1 5l-2 3l-3 1l-5 1l-49-1l-4-1v-4v-6h61v-24h-69zM22-73h54v11h-54z"/><path id="hL" d="M15-64l5 9l3 9l7-2l-3-9l-6-9zM78-67l-10 19l6 3l12-19zM26-24v20l1 5l2 3l5 2h7h23l6-1l4-2l2-5l1-8l-7-2v7l-2 3l-4 1h-29l-1-3v-20zM40-29l9 10l7 10l6-4l-7-9l-9-10zM74-24l8 14l5 12l7-2l-5-13l-8-14zM15-24l-4 13l-6 12l7 3l6-12l4-14zM6-40v7h88v-7h-30v-33h26v-6h-80v6h26v33zM43-73h13v33h-13z"/><path id="hM" d="M27-79l-9 13l-10 10l6 4l11-11l9-14zM67-76l12 11l9 11l6-4l-9-11l-13-10zM44-42l-1 12h-31v6h29l-4 9l-7 7l-11 6l-15 4l4 6l17-5l12-7l7-9l5-11h30l-2 17l-3 6l-4 1l-15-1l3 8h15l4-1l4-2l2-3l2-6l3-25h-38l2-12zM46-84v31h6l-22 7l-25 3l4 7l20-3l19-5l17-8l13-11l-8-2l-7 6l-10 6v-31z"/><path id="hN" d="M30-62v50h6v-50zM40-25v7h23l-2 5l-5 6l-8 5l-11 5l5 5l10-4l8-5l5-5l3-6l4 6l5 5l6 5l9 4l5-7l-10-3l-7-5l-5-6l-3-5h23v-7h-23v-13h20v-6h-36l3-8l-7-2l-5 13l-7 10l6 4l7-11h11v13zM46-79v6h32l-1 12h-37v7h55v-7h-11l2-18zM23-83l-8 22l-6 10l-6 9l4 7l7-11v54h8v-67l8-23z"/><path id="hO" d="M8-77l9 6l7 5l5-6l-8-5l-9-5zM4-51l9 5l7 5l4-6l-7-5l-9-4zM6 2l6 4l4-7l10-25l-6-4zM29-63v70h7v-70zM31-81l12 16l5-4l-12-15zM41-13v7h39v-7h-16v-18h13v-6h-13v-16h14v-7h-36v7h15v16h-13v6h13v18zM51-80v7h35v71l-3 2h-15l3 8l17-2l3-2l1-6v-78z"/><path id="hP" d="M8 2l5 6l23-26l-4-6zM12-53l18 11l4-5l-18-11zM6-34l18 10l5-6l-19-9zM41-54v48l1 6l2 4l5 2h7h26l6-1l4-2l3-6l1-9l-7-2l-2 11l-2 2h-33l-3-2v-3v-41h31v18l-3 2h-15l3 7h14l4-1l3-3l1-5v-25zM64-84v9h-28v-9h-8v9h-22v7h22v9h8v-9h28v9h8v-9h22v-7h-22v-9z"/><path id="hQ" d="M42-52v14h-24v-14zM42-59h-24v-13h24zM32-23l5 10l-19 6v-25h31v-47h-38v70l-2 4l-3 2l4 8l6-3l24-9l5 10l7-4l-14-25zM58-78v86h8v-79h18v51l-2 1h-11l2 7h11l4-1l3-3v-4v-58z"/><path id="hR" d="M25-64h50v8h-50zM25-76h50v8h-50zM18-81v30h65v-30zM40-39v7h-19v-7zM5-4v6l35-4v10h7v-11h5v-6h-5v-30h48v-7h-90v7h9v34zM51-33v6h6l-2 1l2 5l10 14l-9 5l-9 4l4 6l10-5l9-6l9 6l11 5l4-6l-10-4l-9-5l9-11l6-13l-4-2zM61-27h22l-5 9l-6 7l-6-7zM40-27v7h-19v-7zM40-14v6l-19 2v-8z"/><path id="hS" d="M4-5l1 7l35-7l-1-7zM56-26l12 5l9 6l5-5l-10-6l-11-5zM45-8l22 7l18 9l4-6l-18-8l-21-7zM58-84l-8 14l-6 8l-7 6l2-3l-6-4l-7 11l-13 2l9-15l8-16l-7-3l-12 24l-5 8l-3 2l3 8l16-3l-10 13l-5 5l-3 2l2 7l32-6v-7l-22 3l11-13l10-15l5 5l11-10l10 14l-12 8l-13 6l5 6l13-6l12-9l12 9l13 6l5-6l-13-6l-11-8l9-11l7-13l-5-3h-24l5-9zM57-67h23l-5 8l-7 7l-6-7z"/><path id="hT" d="M39-46l10 6l8 6h-30l2-16h46l-1 16h-17l5-5l-9-6l-10-5zM4-35v7h14l-3 23h57l-2 6l-4 1h-11l2 6h9l8-1l3-3l3-9h12v-7h-12l2-16h14v-7h-14l1-22h-61l-2 22zM73-12h-17l4-4l-9-6l-10-6h33zM36-24l10 6l8 6h-30l2-16h15zM27-85l-10 19l-6 8l-7 7l7 5l8-10l7-11h66v-7h-62l5-8z"/><path id="hU" d="M21-79l-1 44l-2 13l-5 13l-10 12l6 5l6-7l5-7l6-17h48v20l-3 3h-19l4 8l17-1l7-3l2-3v-4v-76zM28-71h46v16h-46zM28-48h46v18h-47z"/><path id="hV" d="M32-60l-12 12l-13 9l6 5l14-10l12-13zM62-56l14 12l11 11l7-5l-12-11l-14-11zM35-42l-7 2l8 13l9 12l-9 5l-9 5l-22 6l4 7l23-7l10-5l8-6l9 6l9 5l11 4l12 2l5-7l-12-2l-10-3l-10-5l-8-5l9-12l8-14l-8-2l-6 13l-9 10l-8-10zM42-82l6 12h-41v7h86v-7h-41l4-2l-7-13z"/><path id="hW" d="M9-78v8h66v26h-53v-16h-7v50l1 7l3 5l7 3h10h38l10-1l6-4l3-7l2-12l-7-3l-2 10l-2 6l-4 3l-6 1l-45-1l-4-1l-2-2l-1-4v-27h53v5h7v-46z"/><path id="hX" d="M31-78l25 19l5-6l-25-19zM15-54l-5 18l-7 15l7 3l7-16l5-18zM74-47l9 16l7 16l7-3l-7-16l-9-16zM79-78l-8 14l-9 13l-11 13l-12 12v-34h-8v40l-13 9l-15 7l5 6l23-13v11l3 4l4 3h27l7-1l4-4l2-7l2-11l-8-4l-2 16l-2 3l-3 1h-20l-5-1l-1-5v-11l14-13l13-14l11-15l10-16z"/><path id="hY" d="M62-49v28l-4 9l-8 8l-15 7l4 5l16-8l9-9l5-10l1-10v-20zM69-9l13 9l10 8l4-6l-23-16zM27-82l-10 11l-11 8l5 5l13-9l10-12zM30-56l-11 12l-14 9l6 5l14-10l12-13zM32-27l-5 7l-7 8l-8 6l-8 5l5 5l9-5l8-7l7-8l6-9zM43-63v48h7v-41h31v41h8v-48h-23l3-9h24v-8h-55v8h23l-3 9z"/><path id="hZ" d="M15-75v38l-2 14l-3 14l-7 12l7 5l6-13l4-15l2-15l1-14h72v-7h-72v-13l35-3l30-5l-6-6l-30 5zM31-35v43h8v-5h41v5h8v-43zM39-4v-24h41v24z"/><path id="ia" d="M7-46v8h36l-4 11l-7 10l-11 10l-17 9l5 6l17-9l11-10l8-10l5-11l7 13l9 12l12 8l14 7l5-7l-14-6l-12-9l-9-11l-6-13h38v-8h-41v-23h36v-7h-79v7h35v23z"/><path id="ib" d="M43-83l4 10h-39v16h8v-9h68v9h8v-16h-38l2-1l-5-11zM22-29h24v11h-24zM22-36v-10h24v10zM78-29v11h-24v-11zM78-36h-24v-10h24zM46-63v10h-32v48h8v-6h24v19h8v-19h24v5h8v-47h-32v-10z"/><path id="ic" d="M16-79v40h30v8h-40v7h34l-8 7l-9 6l-9 6l-10 3l5 7l10-5l10-6l9-7l8-8v29h8v-29l8 7l10 8l10 6l9 4l5-6l-19-9l-9-6l-8-7h34v-7h-40v-8h31v-40zM24-56h22v10h-22zM54-56h23v10h-23zM24-73h22v11h-22zM54-73h23v11h-23z"/><path id="id" d="M25-24l-6 3l5 8l7 6l-11 5l-15 4l4 6l17-5l12-6l11 5l13 3l32 3l3-8l-30-2l-12-2l-11-4l6-8l3-9h34v-38h-33v-9h40v-7h-88v7h41v9h-31v38h30l-5 9l-4 5l-8-8zM23-41h24l-1 10h-23zM54-31v-10h26v10zM23-57h24v10h-24zM54-57h26v10h-26z"/><path id="ie" d="M78-83v91h8v-91zM14-57l-5 30h38l-3 18l-3 8l-4 1l-16-1l3 8h12l8-1l4-2l2-4l2-6l3-28h-37l3-16h33v-30h-43v7h36v16z"/><path id="if" d="M10-39l-2 25l-2 11l-3 8l6 4l4-9l2-12l6 9l9 5l11 3h53l3-7h-48l-16-3v-20h16v-7h-16v-15h17v-6h-19v-13h17v-7h-17v-11h-7v11h-17v7h17v13h-19v6h21v39l-6-7l-4-9l1-14zM55-52v33v5l2 4l4 1l6 1h18l5-1l3-3l2-5l1-9l-6-3l-2 11l-1 2l-19 1l-5-1l-1-3v-26h21v3h7v-37h-36v6h29v21z"/><path id="ig" d="M47-60l6 15l5-2l-7-14zM77-61l-8 14l4 2l9-14zM4-13l2 7l28-11l-1-6l-10 3v-33h10v-7h-10v-23h-7v23h-11v7h11v36zM44-81l7 11l7-3l-8-11zM37-70v34h54v-34h-14l8-12l-7-2l-9 14zM44-64h17v22h-17zM67-64h17v22h-17zM49-10h30v7h-30zM49-16v-8h30v8zM42-30v38h7v-5h30v5h7v-38z"/><path id="ih" d="M76-80l13 11l5-4l-13-11zM40-53v6h25v-6zM5-77l7 12l5 11l7-3l-6-11l-7-11zM4 0l6 3l4-8l10-26l-6-3zM41-39v33h6v-5h18v-28zM47-33h12v15h-12zM67-84v16h-37l-1 38l-1 12l-3 12l-5 10l5 4l6-11l3-13l2-13v-32h32l1 24l3 19l-9 12l-11 9l5 5l9-8l8-9l3 7l3 5l4 4l4 1l3-1l2-3l2-6l2-10l-5-4l-2 14l-2 2l-2-2l-3-3l-3-12l8-16l6-18l-7-2l-4 14l-5 13l-4-35h21v-7h-21l-1-16z"/><path id="ii" d="M84-69l-6 22l-8 19l-7-19l-4-22zM49-76v7h3l5 26l8 22l-11 13l-14 10l5 6l13-9l12-12l9 12l12 9l5-6l-12-9l-10-13l6-11l5-13l4-15l3-16l-5-2zM7-54l19 25l-10 18l-6 7l-6 6l5 6l12-13l10-16l9 16l7-5l-12-20l6-21l4-24l-5-2l-34 1v7h31l-3 17l-4 15l-17-22z"/><path id="ij" d="M10-49v8h26v49h8v-49h33v26l-2 2l-16-1l2 8h16l3-1l4-3l1-5v-34zM63-84v11h-26v-11h-8v11h-23v7h23v12h8v-12h26v12h8v-12h24v-7h-24v-11z"/><path id="ik" d="M24-46h52v17h-52zM34-13l2 20l8-1l-3-19zM55-13l7 20l7-2l-7-19zM75-14l8 11l5 10l7-3l-6-10l-7-10zM18-16l-6 12l-8 9l7 3l8-10l6-12zM17-54v32h67v-32h-31v-12h38v-7h-38v-11h-7v30z"/><path id="il" d="M28-60l29 13h-52v7h42v38l-3 2h-15l3 8l18-2l3-2l1-5v-39h29l-12 16l6 4l10-11l8-13l-6-3h-22l2-2l-11-5l14-10l12-11l-5-4h-64v7h55l-19 14l-19-8z"/><path id="im" d="M42-84l-3 11h-25v7h23l-3 12h-28v8h25l-6 18h46l-19 19l-22-7l-4 5l24 9l21 10l4-6l-16-8l27-26l-6-4l-45 1l4-11h54v-8h-52l4-12h41v-7h-39l3-10z"/><path id="in" d="M48-62h33v8h-33zM48-75h33v8h-33zM41-81v33h48v-33zM41-14l13 14l5-4l-13-14zM25-84l-9 11l-12 10l4 6l13-11l11-13zM32-26v6h41v20l-2 1h-12l2 7h12l3-1l4-3v-4v-20h15v-6h-15v-9h14v-6h-59v6h38v9zM27-62l-11 15l-14 13l4 7l12-11v46h7v-55l9-12z"/><path id="io" d="M5-50v7h29l-6 9l-7 9l-8 7l-10 6l6 5l9-5l8-7v27h7v-5h45v5h8v-37h-52l9-14h52v-7h-49l4-10l-8-2l-4 12zM33-4v-19h45v19zM64-84v10h-28v-10h-7v10h-23v7h23v10h7v-10h28v10h7v-10h23v-7h-23v-10z"/><path id="ip" d="M8-33v33l29-5v6h6v-34h-6v23l-8 1v-31h16v-7h-16v-19h14v-6h-26l3-11l-6-1l-5 15l-6 14l6 3l6-14h7v19h-18v7h18v31l-8 1v-25zM81-38h-10v-22h10zM64-84v17h-14v7h14v22h-17v7h16l-2 9l-4 9l-5 8l-8 8l6 5l8-7l5-9l4-8l3-9l3 10l5 9l6 8l8 6l5-6l-7-6l-6-8l-5-8l-4-11h20v-7h-7v-29h-17v-17z"/><path id="iq" d="M36-73v33l-1 15l-3 14l-4 14l6 4l4-13l3-15l2-28h48v-24h-22l-5-11l-7 1l4 10zM28-84l-5 12l-6 10l-7 10l-7 8l4 8l10-13v57h7v-68l11-22zM43-67h41v12h-41zM87-36v15h-9v-15zM44-42v50h6v-23h8v20h6v-20h8v20h6v-20h9v15l-1 2l-7-1l2 6l9-1l2-2l1-4v-42zM50-21v-15h8v15zM64-36h8v15h-8z"/><path id="ir" d="M47-69l-1 17h-25v6h24l-2 11l-5 9l-7 8l-10 6l5 5l9-5l7-6l5-7l3-9l13 14l10 12l6-4l-12-14l-15-14l1-6h26v-6h-25l1-17zM8-80v88h7v-5h70v5h7v-88zM15-3v-70h70v70z"/><path id="is" d="M56-31h26v5h-26zM56-39h26v4h-26zM36-58l-6 7l-8 6l4 5l9-8l7-8zM20-74h62v9h-62zM13-80v43l-2 14l-3 14l-5 13l7 4l5-14l4-15l1-16v-22h69v-21zM80-13l-11 8l-11-7zM38-44l-8 10l-11 9l4 6l6-5v32h7v-39l7-9l2 4l4-4v18h10l-9 8l-11 7l5 4l10-6l9 7l-21 5l3 5l13-3l11-4l11 4l12 3l4-6l-20-4l8-6l6-8l-4-2h-23l3-4h22v-21h-36l3-5h37v-5h-34l2-4l-6-2l-5 9l-7 8z"/><path id="it" d="M41-82l10 24l7-2l-10-24zM79-77l-5 14l-7 13l-7 12l-10 11l-9-10l-7-11l-7-12l-6-12l-7 2l6 13l8 13l8 12l9 11l-19 13l-10 5l-12 5l4 6l23-11l19-13l9 7l10 7l11 5l11 5l5-7l-11-4l-11-5l-9-6l-9-8l10-11l8-13l7-13l6-15z"/><path id="iu" d="M9-75l18 12l7-10l-18-11zM4-47l18 11l7-10l-19-10zM7 0l10 8l18-32l-9-8zM31-9v12h66v-12h-27v-56h22v-12h-55v12h20v56z"/><path id="iv" d="M19-33l-6 11l-8 9l10 7l8-11l6-11zM13-49v12h27l-3 11l-6 10l-10 9l-14 7l7 9l17-8l11-11l6-13l4-14h15l-3 30l-1 4l-4 1h-13l2 5l1 5h15l6-1l4-4l3-9l2-19l7 19l10-4l-9-23l-8 2l1-18h-27v-9h-12v9zM62-85v8h-24v-8h-12v8h-20v11h20v10h12v-10h24v10h12v-10h21v-11h-21v-8z"/><path id="iw" d="M4-24v12h45v21h13v-21h34v-12h-34v-15h26v-11h-26v-12h29v-12h-57l3-8l-12-3l-4 9l-5 9l-6 9l-6 6l10 8l7-8l7-10h21v12h-29v26zM32-24v-15h17v15z"/><path id="ix" d="M4-8l3 12l32-13l-8 11l11 7l5-7l4-9l6-20l9 14l-8 7l-9 6l8 9l9-6l7-7l8 7l9 6l8-10l-9-5l-9-7l9-17l6-21l-7-3l-8 1l6-26h-46v11h10l-3 31l-3 14l-4 11l-2-8zM62-68h10l-7 25h16l-3 11l-5 10l-8-12l-5-12zM6-41l13-3l-8 11l-5 5l-4 2l4 10l8-3l25-8l-1-10l-14 4l9-13l8-13l-10-6l-5 11l-9 1l8-13l7-14l-11-6l-3 9l-8 15l-5 8l-3 2z"/><path id="iy" d="M5-75l8 8l7 8l9-7l-7-8l-8-8zM49-29h28v10h-28zM38-39v29h51v-29zM45-64h13v9h-18zM58-85v11h-8l2-8l-11-2l-4 13l-7 10l10 6h-9v10h65v-10h-26v-9h22v-10h-22v-11zM27-46h-23v11h12v25l-12 8l7 11l9-9l3-2l9 5l11 3l15 1l37-1l3-12l-20 2l-27 1l-13-2l-11-6z"/><path id="iz" d="M70-45v54h12v-54zM43-44l-1 21l-2 8l-4 9l-7 7l9 9l9-10l5-10l2-11l1-23zM25-85l-10 21l-6 9l-7 8l7 12l5-6v50h12v-57l6 9l10-6l8-7l13-16l12 16l15 12l8-10l-9-5l-8-7l-7-8l-6-8l2-5l-12-2l-5 9l-6 10l-9 9l-12 7v-10l10-21z"/><path id="iA" d="M24-85l-1 53l-2 12l-4 11l-9 10l9 8l10-12l5-13l2-14l1-55zM7-73v49h11v-49zM41-60v54h11v-44h9v59h11v-59h10v33l-1 1h-7l4 10h8l3-2l3-3l1-6v-43h-21v-10h24v-10h-58v10h23v10z"/><path id="iB" d="M80 7l-19-45l19-45l-8-2l-20 47l20 47zM97 7l-19-45l19-45l-8-2l-20 47l20 47z"/><path id="iC" d="M20 7l8 2l20-47l-20-47l-8 2l19 45zM3 7l8 2l20-47l-20-47l-8 2l19 45z"/><path id="iD" d="M81-81l-10 12v-6h-20v-10h-12v10h-24v10h24v8h-32v10h35l-19 11l-19 8l4 10l25-11l-8 16h43l-2 7l-3 3l-5 1l-18-1l2 4l2 7h22l7-3l4-8l5-20h-40l4-7h38v-10h-34l11-7h33v-10h-21l18-19zM51-57v-8h15l-9 8z"/><path id="iE" d="M10-76l15 16l8-9l-15-15zM38-43v11h8v22l-6 1l-3-10l-9 6v-41h-23v11h12v31l-2 5l-4 4l6 10l20-14l2 10l30-8l-2-11l-10 3v-19h8v-11zM66-84v18h-31v12h32l1 26l4 20l5 12l9 4l3-1l3-3l3-7l3-12l-10-7l-1 13l-1 1l-3-3l-2-10l-3-33h19v-12h-8l7-4l-9-14l-8 5l9 13h-10v-18z"/><path id="iF" d="M8-80v12h16v20l-3 16l-7 16l-12 14l9 10l10-10l7-11l4-12l3-12l8 13l9 12l-11 6l-13 4l7 11l14-6l13-7l12 7l16 5l8-11l-14-4l-12-6l6-8l6-10l4-10l4-12l-8-4l-16 1l4-24zM62-20l-9-9l-6-10l-6-11l-4-13v-5h21l-6 23h24l-6 13z"/><path id="iG" d="M25-50v8h-5v-8zM33-50h6v8h-6zM18-59l4-8h10l-3 8zM17-85l-6 17l-4 8l-5 6l8 6v24l-1 10l-3 9l-4 9l9 5l5-11l3-12h6v17h8v-4l2 9l6-1l4-1l3-4v-5v-21l9 4l4-7h9v9h-19v10h19v17h12v-17h15v-10h-15v-9h13v-11h-13v-7h-12v7h-6l2-6l-9-2l6-4l5-6l3-7l1-7h12l-2 13l-3 1l-7-1l2 10h11l3-1l3-2l2-8l1-22h-44v10h12l-4 10l-4 4l-6 3v-6h-9l6-13l-7-4h-13l2-7zM25-33v10h-6l1-10zM33-33h6v10h-6zM33-14h6v10l-1 2h-5zM48-25v-27l6 8l2-1l-3 11z"/><path id="iH" d="M48-74l-1 41l-1 13l-3 12l-5 11l10 6l5-11l3-13l3-25h13v49h12v-49h13v-11h-38v-14l17-4l16-5l-11-10l-15 6zM18-85v21h-13v11h12l-6 18l-9 15l6 12l5-10l5-12v39h12v-43l6 12l7-9l-13-18v-4h14v-11h-14v-21z"/><path id="iI" d="M66-38l2 15l4 13l6 11l8 9l10-4l-8-9l-5-10l-4-12l-1-13l1-13l4-12l5-10l8-9l-10-4l-8 9l-6 11l-4 13z"/><path id="iJ" d="M40-47h18v17h-18zM29-58v39h41v-39zM7-82v91h13v-5h60v5h13v-91zM20-8v-61h60v61z"/><path id="iK" d="M7-65l-2 14l-3 12l9 3l3-13l2-15zM17-85v94h11v-69l5 15l9-4l-8-19l-6 2v-19zM40-77v11h32l-20 26l-11 16l-4 9l-1 6l1 6l4 5l7 3l10 1h20l8-1l5-4l4-8l1-13l-10-4l-2 16l-2 2l-3 1l-27-1l-3-1l-1-3l1-5l6-10l13-17l26-31l-7-4z"/><path id="iL" d="M9-82v38l-1 24l-2 12l-4 10l9 7l3-7l3-9l3-19h9v35h11v-46h-20v-11h24v-10h-6v-27h-11v27h-7v-24zM82-46l-3 11l-4 11l-4-11l-4-11zM48-79l-1 45l-1 13l-2 13l-4 11l9 7l4-9l7 8l8-5l7-8l7 8l7 5l8-9l-8-6l-7-7l5-9l3-10l5-24l-7-2l-29 1v-12l19-2l18-3l-6-10l-20 3zM69-14l-7 7l-8 6l4-20l1-20l4 14z"/><path id="iM" d="M34-38l-2-15l-4-13l-6-11l-8-9l-10 4l8 9l5 10l4 12l1 13l-1 13l-4 12l-5 10l-8 9l10 4l8-9l6-11l4-13z"/><path id="iN" d="M16-52v53h-14l1 3h91l3-2l-15-12l-8 11h-14v-38h27l3-1l-14-12l-8 10h-8v-32h30l3-2l-14-11l-8 10h-63l1 3h35v73h-12v-49l4-2z"/><path id="iO" d="M83-45l-7 10h-6v-14h4v4l8-1l7-2v-25l4-2l-13-10l-7 7h-21l-15-6v4l-18-6l-3 15l-4 14l-6 13l-5 11l1 1l11-10v51h8l6-3v-60l3-2l-5-2l9-20h3v36l8-1l5-1l1-2v-3h5v14h-28l1 3h20l-8 18l-6 9l-7 7l1 1l15-8l12-10v25l9-1l4-2l1-1v-36l3 10l4 9l4 8l6 6l4-9l4-3l3-1v-1l-7-4l-8-4l-6-6l-6-7h23l2-2zM74-76v24h-23v-24z"/><path id="iP" d="M62-85l-4 18l-6 16v-8h-6l11-20l-11-3l-7 13v-7h-10v-9h-11v9h-11v10h11v7h-15v10h21l-6 5h-6v5l-10 6l8 9l15-10h6l-8 7v5l-20 2l1 10l19-1v8l-2 2h-9l3 10l11-1l4-1l3-3l1-16l18-2v-10l-18 2v-3l14-13l7 6l4-7l7 20l-9 10l-12 7l7 11l11-7l10-9l7 9l10 7l8-10l-10-8l-8-9l7-17l4-21h6v-11h-27l4-16zM35-44l4-5h12l-5 7l-4-2zM29-66h8l-4 7h-4zM79-56l-3 13l-3 11l-6-24z"/><path id="iQ" d="M70-33v5h-40v-5zM18-43v52h12v-16h40v4l-2 3l-17-1l4 10l17-1l8-2l2-4v-5v-40zM30-20h40v5h-40zM42-83l3 7h-39v10h21l-8 6l-7 3l4 12l13-2l46-3l6 6l10-6l-18-16h22v-10h-36l-5-10zM59-64l5 5l-30 2l11-9h18z"/><path id="iR" d="M32-34l-5 12l-7 10v-37zM8-79v88h12v-17l7 5l7-10l6-11l5 8l7-8l-9-12l5-27l-10-1l-3 18l-9-11l-6 6v-17h60v62l-2 3h-16l4 12l17-1l4-2l3-2l2-4v-6v-73zM47-50l13 15l-7 15l-9 12l10 6l7-10l6-12l5 11l8-8l-9-15l5-26l-11-2l-2 17l-9-9z"/><g id="wm"><circle r="23.8" fill="#eaf2fa"/><g transform="translate(-24 -24) scale(.48)" fill="#fff"><path d="M18 29C40 22 72 20 85 27C80 40 66 52 52 61C60 51 66 42 59 36C49 31 32 30 18 29Z"/><path d="M47 40C35 50 20 60 14 69C12 74 17 76 24 76C45 76 65 74 82 73C60 72 40 70 36 63C35 56 41 47 47 40Z"/></g><g fill="#e9f1fa" transform="matrix(.2 0 0 .2 31.4 -.2)"><use href="#iN"/><use href="#iO" x="100"/></g><path d="M74 -15.8Q116 -25.8 163 -16.2" stroke="#e2ecf8" fill="none"/><g fill="#e9e9e9" transform="matrix(.13 0 0 .13 74.2 -1.9)"><use href="#cK" x="0"/><use href="#cL" x="104"/><use href="#bC" x="208"/><use href="#dx" x="311"/><use href="#iP" x="415"/><use href="#iQ" x="519"/><use href="#iR" x="623"/></g><text x="32.6" y="17.9" class="ww">www.jianshe99.com</text></g></defs><use href="#wm" x="24" y="26"/><use href="#wm" x="337.5" y="26"/><use href="#wm" x="651" y="26"/><use href="#wm" x="121" y="198"/><use href="#wm" x="434.5" y="198"/><use href="#wm" x="24" y="370"/><use href="#wm" x="337.5" y="370"/><use href="#wm" x="651" y="370"/><use href="#wm" x="121" y="542"/><use href="#wm" x="434.5" y="542"/><use href="#wm" x="24" y="714"/><use href="#wm" x="337.5" y="714"/><use href="#wm" x="651" y="714"/><use href="#wm" x="121" y="886"/><use href="#wm" x="434.5" y="886"/><use href="#wm" x="24" y="1058"/><use href="#wm" x="337.5" y="1058"/><use href="#wm" x="651" y="1058"/><use href="#wm" x="121" y="1230"/><use href="#wm" x="434.5" y="1230"/><use href="#wm" x="24" y="1402"/><use href="#wm" x="337.5" y="1402"/><use href="#wm" x="651" y="1402"/><use href="#wm" x="121" y="1574"/><use href="#wm" x="434.5" y="1574"/><use href="#wm" x="24" y="1746"/><use href="#wm" x="337.5" y="1746"/><use href="#wm" x="651" y="1746"/><use href="#wm" x="121" y="1918"/><use href="#wm" x="434.5" y="1918"/><use href="#wm" x="24" y="2090"/><use href="#wm" x="337.5" y="2090"/><use href="#wm" x="651" y="2090"/><use href="#wm" x="121" y="2262"/><use href="#wm" x="434.5" y="2262"/><use href="#wm" x="24" y="2434"/><use href="#wm" x="337.5" y="2434"/><use href="#wm" x="651" y="2434"/><use href="#wm" x="121" y="2606"/><use href="#wm" x="434.5" y="2606"/><use href="#wm" x="24" y="2778"/><use href="#wm" x="337.5" y="2778"/><use href="#wm" x="651" y="2778"/><use href="#wm" x="121" y="2950"/><use href="#wm" x="434.5" y="2950"/><g fill="#000"><g transform="matrix(.16 0 0 .16 100.3 13.6)"><use href="#iu" x="0"/><use href="#iv" x="101.87"/></g><text class="lb" transform="matrix(.8 0 0 1 132.3 14.6)" style="font-size:18px">2021</text><g transform="matrix(.16 0 0 .16 173.5 13.6)"><use href="#iw" x="0"/><use href="#eK" x="101.88"/><use href="#ix" x="203.75"/><use href="#iy" x="305.63"/><use href="#iz" x="407.5"/><use href="#bC" x="509.38"/><use href="#dx" x="611.25"/><use href="#iA" x="713.13"/><use href="#iB" x="815"/><use href="#cK" x="916.88"/><use href="#cL" x="1018.75"/><use href="#bC" x="1120.63"/><use href="#dx" x="1222.5"/><use href="#iy" x="1324.38"/><use href="#iz" x="1426.25"/><use href="#gC" x="1528.13"/><use href="#cO" x="1630"/><use href="#iC" x="1731.88"/><use href="#iD" x="1833.75"/><use href="#iE" x="1935.63"/><use href="#iE" x="2037.5"/><use href="#g" x="2139.38"/><use href="#iF" x="2241.25"/><use href="#I" x="2343.13"/><use href="#J" x="2445"/><use href="#iG" x="2546.88"/><use href="#iH" x="2648.75"/></g><g transform="matrix(.16 0 0 .16 276.8 42.9)"><use href="#iI" x="0"/></g><g transform="matrix(.16 0 0 .16 297 42.9)"><use href="#iD" x="0"/><use href="#iE" x="100"/><use href="#iJ" x="200"/><use href="#iK" x="300"/><use href="#iL" x="400"/></g><rect x="377.2" y="36.2" width="4.4" height="2" fill="#000"/><g transform="matrix(.16 0 0 .16 383 42.9)"><use href="#eg" x="0"/><use href="#ef" x="100"/></g><g transform="matrix(.16 0 0 .16 420 42.9)"><use href="#iM" x="0"/></g><g class="k" transform="matrix(.14 0 0 .126 28 72)"><use href="#a" x="0"/><use href="#b" x="100"/><use href="#c" x="200"/><use href="#d" x="300"/><use href="#e" x="400"/><use href="#f" x="500"/><use href="#g" x="600"/></g><g class="s" transform="matrix(.14 0 0 .1176 28 98.7)"><use href="#h" x="100"/><use href="#i" x="200"/><use href="#j" x="300"/><use href="#k" x="400"/><use href="#l" x="500"/><use href="#m" x="600"/><use href="#n" x="700"/><use href="#o" x="800"/><use href="#p" x="900"/><use href="#q" x="1000"/><use href="#r" x="1100"/><use href="#s" x="1200"/><use href="#t" x="1300"/><use href="#u" x="1400"/><use href="#v" x="1500"/><use href="#w" x="1600"/><use href="#x" x="1700"/><use href="#y" x="1900"/><use href="#z" x="2000"/></g><text class="lr" transform="matrix(.77 0 0 1 28.5 99.1)">1</text><text class="lr" x="36.56" y="99.1">.</text><g class="k" transform="matrix(.14 0 0 .126 28 126.8)"><use href="#A" x="100"/><use href="#B" x="200"/></g><text class="lb" transform="matrix(.64 0 0 1 28.25 126.5)">A</text><text class="lb" x="36.56" y="126.5">.</text><g class="k" transform="matrix(.14 0 0 .126 28 154.2)"><use href="#C" x="100"/><use href="#D" x="200"/></g><text class="lb" transform="matrix(.64 0 0 1 28.25 153.9)">B</text><text class="lb" x="36.56" y="153.9">.</text><g class="k" transform="matrix(.14 0 0 .126 28 181.6)"><use href="#E" x="100"/><use href="#F" x="200"/></g><text class="lb" transform="matrix(.64 0 0 1 28.25 181.3)">C</text><text class="lb" x="36.56" y="181.3">.</text><g class="k" transform="matrix(.14 0 0 .126 28 209)"><use href="#G" x="100"/><use href="#C" x="200"/><use href="#D" x="300"/></g><text class="lb" transform="matrix(.64 0 0 1 28.25 208.7)">D</text><text class="lb" x="36.56" y="208.7">.</text><g class="k" transform="matrix(.14 0 0 .126 28 236.4)"><use href="#H" transform="matrix(1.5 0 0 1 -51.86 0)"/><use href="#I" x="100"/><use href="#J" x="200"/><use href="#K" transform="matrix(1.5 0 0 1 306.43 0)"/></g><text class="lb" transform="matrix(.64 0 0 1 84.25 236.1)">C</text><g class="s" transform="matrix(.14 0 0 .1176 28 263.1)"><use href="#H" transform="matrix(1.5 0 0 1 -51.86 0)"/><use href="#L" x="100"/><use href="#M" x="200"/><use href="#K" transform="matrix(1.5 0 0 1 306.43 0)"/><use href="#N" x="400"/><use href="#O" x="500"/><use href="#P" x="600"/><use href="#Q" x="700"/><use href="#R" x="800"/><use href="#S" x="900"/><use href="#j" x="1000"/><use href="#k" x="1100"/><use href="#l" x="1200"/><use href="#m" x="1300"/><use href="#n" x="1400"/><use href="#T" x="1500"/><use href="#U" x="1600"/><use href="#V" x="1700"/><use href="#W" x="1800"/><use href="#z" x="1900"/><use href="#h" x="2000"/><use href="#i" x="2100"/><use href="#X" x="2200"/><use href="#Y" x="2300"/><use href="#j" x="2400"/><use href="#k" x="2500"/><use href="#l" x="2600"/><use href="#m" x="2700"/><use href="#n" x="2800"/><use href="#R" x="2900"/><use href="#T" x="3000"/><use href="#U" x="3100"/><use href="#Z" x="3200"/><use href="#ba" x="3300"/><use href="#o" x="3400"/><use href="#bb" x="3500"/><use href="#bc" x="3600"/><use href="#bd" x="3700"/><use href="#be" x="3800"/><use href="#bf" x="3900"/><use href="#q" x="4000"/><use href="#bg" x="4100"/><use href="#bh" x="4200"/><use href="#S" x="4300"/><use href="#bi" x="4400"/><use href="#bj" x="4500"/><use href="#bk" x="4600"/><use href="#bl" x="4700"/><use href="#o" x="4800"/></g><g class="s" transform="matrix(.14 0 0 .1176 0 285.5)"><use href="#bm" x="0"/><use href="#q" x="100"/><use href="#bg" x="200"/><use href="#bh" x="300"/><use href="#S" x="400"/><use href="#bi" x="500"/><use href="#bj" x="600"/><use href="#o" x="700"/><use href="#p" x="800"/><use href="#q" x="900"/><use href="#r" x="1000"/><use href="#s" x="1100"/><use href="#t" x="1200"/><use href="#bn" x="1300"/><use href="#S" x="1400"/><use href="#bo" x="1500"/><use href="#bp" x="1600"/><use href="#z" x="1700"/></g><g class="s" transform="matrix(.14 0 0 .1176 28 312.9)"><use href="#bq" x="100"/><use href="#br" x="200"/><use href="#bs" x="300"/><use href="#br" x="400"/><use href="#bt" x="500"/><use href="#bu" x="600"/><use href="#bv" x="700"/><use href="#bw" x="800"/><use href="#bw" x="900"/><use href="#bh" x="1000"/><use href="#w" x="1100"/><use href="#bx" x="1200"/><use href="#by" x="1300"/><use href="#bz" x="1400"/><use href="#bA" x="1500"/><use href="#R" x="1600"/><use href="#S" x="1700"/><use href="#x" x="1800"/><use href="#y" x="2000"/><use href="#z" x="2100"/></g><text class="lr" transform="matrix(.77 0 0 1 28.5 313.3)">2</text><text class="lr" x="36.56" y="313.3">.</text><g class="k" transform="matrix(.14 0 0 .126 28 341)"><use href="#bB" x="100"/><use href="#bC" x="200"/><use href="#bD" x="300"/><use href="#bE" x="400"/></g><text class="lb" transform="matrix(.64 0 0 1 28.25 340.7)">A</text><text class="lb" x="36.56" y="340.7">.</text><g class="k" transform="matrix(.14 0 0 .126 28 368.4)"><use href="#bF" x="100"/><use href="#bG" x="200"/><use href="#bD" x="300"/><use href="#bE" x="400"/></g><text class="lb" transform="matrix(.64 0 0 1 28.25 368.1)">B</text><text class="lb" x="36.56" y="368.1">.</text><g class="k" transform="matrix(.14 0 0 .126 28 395.8)"><use href="#bH" x="100"/><use href="#bG" x="200"/><use href="#bD" x="300"/><use href="#bE" x="400"/></g><text class="lb" transform="matrix(.64 0 0 1 28.25 395.5)">C</text><text class="lb" x="36.56" y="395.5">.</text><g class="k" transform="matrix(.14 0 0 .126 28 423.2)"><use href="#bH" x="100"/><use href="#bG" x="200"/><use href="#bI" x="300"/><use href="#bJ" x="400"/></g><text class="lb" transform="matrix(.64 0 0 1 28.25 422.9)">D</text><text class="lb" x="36.56" y="422.9">.</text><g class="k" transform="matrix(.14 0 0 .126 28 450.6)"><use href="#H" transform="matrix(1.5 0 0 1 -51.86 0)"/><use href="#I" x="100"/><use href="#J" x="200"/><use href="#K" transform="matrix(1.5 0 0 1 306.43 0)"/></g><text class="lb" transform="matrix(.64 0 0 1 84.25 450.3)">B</text><g class="s" transform="matrix(.14 0 0 .1176 28 477.3)"><use href="#H" transform="matrix(1.5 0 0 1 -51.86 0)"/><use href="#L" x="100"/><use href="#M" x="200"/><use href="#K" transform="matrix(1.5 0 0 1 306.43 0)"/><use href="#N" x="400"/><use href="#O" x="500"/><use href="#P" x="600"/><use href="#Q" x="700"/><use href="#R" x="800"/><use href="#S" x="900"/><use href="#bd" x="1000"/><use href="#be" x="1100"/><use href="#bK" x="1200"/><use href="#bL" x="1300"/><use href="#ba" x="1400"/><use href="#bM" x="1500"/><use href="#R" x="1600"/><use href="#br" x="1700"/><use href="#bN" x="1800"/><use href="#bO" x="1900"/><use href="#bP" x="2000"/><use href="#bQ" x="2100"/><use href="#z" x="2200"/><use href="#bR" x="2300"/><use href="#bS" x="2400"/><use href="#ba" x="2500"/><use href="#bM" x="2600"/><use href="#S" x="2700"/><use href="#bT" x="2800"/><use href="#bU" x="2900"/><use href="#bV" x="3000"/><use href="#bW" x="3100"/><use href="#R" x="3200"/><use href="#bX" x="3300"/><use href="#bd" x="3400"/><use href="#bY" x="3500"/><use href="#bh" x="3600"/><use href="#bZ" x="3700"/><use href="#o" x="3800"/><use href="#ca" x="3900"/><use href="#cb" x="4000"/><use href="#cc" x="4100"/><use href="#ba" x="4200"/><use href="#bK" x="4300"/><use href="#cd" x="4400"/><use href="#ce" x="4500"/><use href="#cf" x="4600"/><use href="#cg" x="4700"/><use href="#ch" x="4800"/></g><g class="s" transform="matrix(.14 0 0 .1176 0 499.7)"><use href="#br" x="0"/><use href="#bt" x="100"/><use href="#bd" x="200"/><use href="#be" x="300"/><use href="#bu" x="400"/><use href="#bv" x="500"/><use href="#bw" x="600"/><use href="#bw" x="700"/><use href="#bh" x="800"/><use href="#ci" x="900"/><use href="#cj" x="1000"/><use href="#ck" x="1100"/><use href="#cl" x="1200"/><use href="#R" x="1300"/><use href="#cm" x="1400"/><use href="#bd" x="1500"/><use href="#cn" x="1600"/><use href="#co" x="1700"/><use href="#cp" x="1800"/><use href="#cn" x="1900"/><use href="#bX" x="2000"/><use href="#bd" x="2100"/><use href="#cq" x="2200"/><use href="#cr" x="2300"/><use href="#cs" x="2400"/><use href="#ct" x="2500"/><use href="#cu" x="2600"/><use href="#cd" x="2700"/><use href="#cv" x="2800"/><use href="#cw" x="2900"/><use href="#cx" x="3000"/><use href="#bQ" x="3100"/><use href="#q" x="3200"/><use href="#cy" x="3300"/><use href="#z" x="3400"/></g><g class="s" transform="matrix(.14 0 0 .1176 28 527.1)"><use href="#h" x="100"/><use href="#i" x="200"/><use href="#j" x="300"/><use href="#p" x="400"/><use href="#cz" x="500"/><use href="#cm" x="600"/><use href="#k" x="700"/><use href="#cA" x="800"/><use href="#bu" x="900"/><use href="#Y" x="1000"/><use href="#bb" x="1100"/><use href="#cB" x="1200"/><use href="#l" x="1300"/><use href="#n" x="1400"/><use href="#o" x="1500"/><use href="#bb" x="1600"/><use href="#bc" x="1700"/><use href="#bd" x="1800"/><use href="#be" x="1900"/><use href="#bX" x="2000"/><use href="#bd" x="2100"/><use href="#cC" x="2200"/><use href="#u" x="2300"/><use href="#cD" x="2400"/><use href="#cE" x="2500"/><use href="#cF" x="2600"/><use href="#cG" x="2700"/><use href="#x" x="2800"/><use href="#y" x="3000"/><use href="#cH" x="3100"/><use href="#bl" x="3200"/><use href="#cI" x="3300"/><use href="#cJ" x="3400"/><use href="#z" x="3500"/></g><text class="lr" transform="matrix(.77 0 0 1 28.5 527.5)">3</text><text class="lr" x="36.56" y="527.5">.</text><g class="k" transform="matrix(.14 0 0 .126 28 555.2)"><use href="#cK" x="100"/><use href="#cL" x="200"/></g><text class="lb" transform="matrix(.64 0 0 1 28.25 554.9)">A</text><text class="lb" x="36.56" y="554.9">.</text><g class="k" transform="matrix(.14 0 0 .126 28 582.6)"><use href="#cL" x="100"/><use href="#cM" x="200"/></g><text class="lb" transform="matrix(.64 0 0 1 28.25 582.3)">B</text><text class="lb" x="36.56" y="582.3">.</text><g class="k" transform="matrix(.14 0 0 .126 28 610)"><use href="#cN" x="100"/><use href="#cO" x="200"/></g><text class="lb" transform="matrix(.64 0 0 1 28.25 609.7)">C</text><text class="lb" x="36.56" y="609.7">.</text><g class="k" transform="matrix(.14 0 0 .126 28 637.4)"><use href="#bB" x="100"/><use href="#bC" x="200"/></g><text class="lb" transform="matrix(.64 0 0 1 28.25 637.1)">D</text><text class="lb" x="36.56" y="637.1">.</text><g class="k" transform="matrix(.14 0 0 .126 28 664.8)"><use href="#H" transform="matrix(1.5 0 0 1 -51.86 0)"/><use href="#I" x="100"/><use href="#J" x="200"/><use href="#K" transform="matrix(1.5 0 0 1 306.43 0)"/></g><text class="lb" transform="matrix(.64 0 0 1 84.25 664.5)">A</text><g class="s" transform="matrix(.14 0 0 .1176 28 691.5)"><use href="#H" transform="matrix(1.5 0 0 1 -51.86 0)"/><use href="#L" x="100"/><use href="#M" x="200"/><use href="#K" transform="matrix(1.5 0 0 1 306.43 0)"/><use href="#N" x="400"/><use href="#O" x="500"/><use href="#P" x="600"/><use href="#Q" x="700"/><use href="#R" x="800"/><use href="#S" x="900"/><use href="#j" x="1000"/><use href="#bb" x="1100"/><use href="#cB" x="1200"/><use href="#l" x="1300"/><use href="#n" x="1400"/><use href="#cv" x="1500"/><use href="#T" x="1600"/><use href="#U" x="1700"/><use href="#bY" x="1800"/><use href="#cP" x="1900"/><use href="#z" x="2000"/><use href="#cQ" x="2100"/><use href="#Y" x="2200"/><use href="#cR" x="2300"/><use href="#cS" x="2400"/><use href="#bb" x="2500"/><use href="#bc" x="2600"/><use href="#cT" x="2700"/><use href="#cU" x="2800"/><use href="#cV" x="2900"/><use href="#cW" x="3000"/><use href="#bs" x="3100"/><use href="#cX" x="3200"/><use href="#cY" x="3300"/><use href="#ba" x="3400"/><use href="#R" x="3500"/><use href="#cZ" x="3600"/><use href="#bM" x="3700"/><use href="#bq" x="3800"/><use href="#bZ" x="3900"/><use href="#R" x="4000"/><use href="#da" x="4100"/><use href="#db" x="4200"/><use href="#bd" x="4300"/><use href="#be" x="4400"/><use href="#dc" x="4500"/><use href="#o" x="4600"/><use href="#bb" x="4700"/><use href="#cB" x="4800"/></g><g class="s" transform="matrix(.14 0 0 .1176 0 713.9)"><use href="#bd" x="0"/><use href="#be" x="100"/><use href="#dd" x="200"/><use href="#bd" x="300"/><use href="#de" x="400"/><use href="#o" x="500"/><use href="#bb" x="600"/><use href="#bc" x="700"/><use href="#ce" x="800"/><use href="#cf" x="900"/><use href="#cE" x="1000"/><use href="#cF" x="1100"/><use href="#df" x="1200"/><use href="#dg" x="1300"/><use href="#Y" x="1400"/><use href="#dh" x="1500"/><use href="#di" x="1600"/><use href="#U" x="1700"/><use href="#Z" x="1800"/><use href="#ba" x="1900"/><use href="#dj" x="2000"/><use href="#bd" x="2100"/><use href="#be" x="2200"/><use href="#ci" x="2300"/><use href="#bU" x="2400"/><use href="#dk" x="2500"/><use href="#dl" x="2600"/><use href="#dm" x="2700"/><use href="#bq" x="2800"/><use href="#dn" x="2900"/><use href="#cm" x="3000"/><use href="#k" x="3100"/><use href="#cU" x="3200"/><use href="#do" x="3300"/><use href="#bb" x="3400"/><use href="#bc" x="3500"/><use href="#cT" x="3600"/><use href="#cU" x="3700"/><use href="#cV" x="3800"/><use href="#cW" x="3900"/><use href="#bs" x="4000"/><use href="#cX" x="4100"/><use href="#cH" x="4200"/><use href="#bl" x="4300"/><use href="#cI" x="4400"/><use href="#cJ" x="4500"/><use href="#bX" x="4600"/><use href="#bd" x="4700"/><use href="#cC" x="4800"/><use href="#u" x="4900"/></g><g class="s" transform="matrix(.14 0 0 .1176 0 736.3)"><use href="#cD" x="0"/><use href="#z" x="100"/></g><g class="s" transform="matrix(.14 0 0 .1176 28 763.7)"><use href="#bZ" x="100"/><use href="#dp" x="200"/><use href="#bb" x="300"/><use href="#bc" x="400"/><use href="#bm" x="500"/><use href="#dq" x="600"/><use href="#p" x="700"/><use href="#o" x="800"/><use href="#dr" x="900"/><use href="#ds" x="1000"/><use href="#dt" x="1100"/><use href="#du" x="1200"/><use href="#bm" x="1300"/><use href="#dq" x="1400"/><use href="#R" x="1500"/><use href="#S" x="1600"/><use href="#x" x="1700"/><use href="#y" x="1900"/><use href="#z" x="2000"/></g><text class="lr" transform="matrix(.77 0 0 1 28.5 764.1)">4</text><text class="lr" x="36.56" y="764.1">.</text><g class="k" transform="matrix(.14 0 0 .126 28 791.8)"><use href="#cK" x="100"/><use href="#cL" x="200"/><use href="#dv" x="300"/><use href="#dw" x="400"/><use href="#bC" x="500"/><use href="#dx" x="600"/><use href="#dy" x="700"/></g><text class="lb" transform="matrix(.64 0 0 1 28.25 791.5)">A</text><text class="lb" x="36.56" y="791.5">.</text><g class="k" transform="matrix(.14 0 0 .126 28 819.2)"><use href="#dz" x="100"/><use href="#dA" x="200"/><use href="#bF" x="300"/><use href="#dB" x="400"/><use href="#dy" x="500"/></g><text class="lb" transform="matrix(.64 0 0 1 28.25 818.9)">B</text><text class="lb" x="36.56" y="818.9">.</text><g class="k" transform="matrix(.14 0 0 .126 28 846.6)"><use href="#dC" x="100"/><use href="#dD" x="200"/><use href="#dE" x="300"/><use href="#dF" x="400"/></g><text class="lb" transform="matrix(.64 0 0 1 28.25 846.3)">C</text><text class="lb" x="36.56" y="846.3">.</text><g class="k" transform="matrix(.14 0 0 .126 28 874)"><use href="#cK" x="100"/><use href="#cL" x="200"/><use href="#dG" x="300"/><use href="#dH" x="400"/><use href="#dI" x="500"/></g><text class="lb" transform="matrix(.64 0 0 1 28.25 873.7)">D</text><text class="lb" x="36.56" y="873.7">.</text><g class="k" transform="matrix(.14 0 0 .126 28 901.4)"><use href="#H" transform="matrix(1.5 0 0 1 -51.86 0)"/><use href="#I" x="100"/><use href="#J" x="200"/><use href="#K" transform="matrix(1.5 0 0 1 306.43 0)"/></g><text class="lb" transform="matrix(.64 0 0 1 84.25 901.1)">D</text><g class="s" transform="matrix(.14 0 0 .1176 28 928.1)"><use href="#H" transform="matrix(1.5 0 0 1 -51.86 0)"/><use href="#L" x="100"/><use href="#M" x="200"/><use href="#K" transform="matrix(1.5 0 0 1 306.43 0)"/><use href="#N" x="400"/><use href="#O" x="500"/><use href="#P" x="600"/><use href="#Q" x="700"/><use href="#R" x="800"/><use href="#S" x="900"/><use href="#bm" x="1000"/><use href="#dq" x="1100"/><use href="#dJ" x="1200"/><use href="#bS" x="1300"/><use href="#bz" x="1400"/><use href="#bA" x="1500"/><use href="#z" x="1600"/><use href="#bL" x="1700"/><use href="#dK" x="1800"/><use href="#bR" x="1900"/><use href="#dL" x="2000"/><use href="#cx" x="2100"/><use href="#bu" x="2200"/><use href="#bb" x="2300"/><use href="#bc" x="2400"/><use href="#dM" x="2500"/><use href="#dN" x="2600"/><use href="#dO" x="2700"/><use href="#S" x="2800"/><use href="#dP" x="2900"/><use href="#dQ" x="3000"/><use href="#dR" x="3100"/><use href="#R" x="3200"/><use href="#dS" x="3300"/><use href="#dT" x="3400"/><use href="#dU" x="3500"/><use href="#dS" x="3600"/><use href="#dT" x="3700"/><use href="#R" x="3800"/><use href="#cx" x="3900"/><use href="#bQ" x="4000"/><use href="#o" x="4100"/><use href="#dV" x="4200"/><use href="#dW" x="4300"/><use href="#w" x="4400"/><use href="#dt" x="4500"/><use href="#du" x="4600"/><use href="#bm" x="4700"/><use href="#dq" x="4800"/></g><g class="s" transform="matrix(.14 0 0 .1176 0 950.5)"><use href="#bs" x="0"/><use href="#br" x="100"/><use href="#z" x="200"/></g><g class="s" transform="matrix(.14 0 0 .1176 28 977.9)"><use href="#bX" x="100"/><use href="#bd" x="200"/><use href="#dX" x="300"/><use href="#bo" x="400"/><use href="#dY" x="500"/><use href="#dZ" x="600"/><use href="#ea" x="700"/><use href="#bX" x="800"/><use href="#bd" x="900"/><use href="#cb" x="1000"/><use href="#N" x="1100"/><use href="#eb" x="1200"/><use href="#bS" x="1300"/><use href="#R" x="1400"/><use href="#bx" x="1500"/><use href="#by" x="1600"/><use href="#cc" x="1700"/><use href="#ec" x="1800"/><use href="#S" x="1900"/><use href="#x" x="2000"/><use href="#y" x="2200"/><use href="#z" x="2300"/></g><text class="lr" transform="matrix(.77 0 0 1 28.5 978.3)">5</text><text class="lr" x="36.56" y="978.3">.</text><g class="k" transform="matrix(.14 0 0 .126 28 1006)"><use href="#cK" x="100"/><use href="#cL" x="200"/><use href="#d" x="300"/><use href="#ed" x="400"/></g><text class="lb" transform="matrix(.64 0 0 1 28.25 1005.7)">A</text><text class="lb" x="36.56" y="1005.7">.</text><g class="k" transform="matrix(.14 0 0 .126 28 1033.4)"><use href="#c" x="100"/><use href="#d" x="200"/><use href="#bC" x="300"/><use href="#dx" x="400"/></g><text class="lb" transform="matrix(.64 0 0 1 28.25 1033.1)">B</text><text class="lb" x="36.56" y="1033.1">.</text><g class="k" transform="matrix(.14 0 0 .126 28 1060.8)"><use href="#c" x="100"/><use href="#ee" x="200"/><use href="#bC" x="300"/><use href="#dx" x="400"/></g><text class="lb" transform="matrix(.64 0 0 1 28.25 1060.5)">C</text><text class="lb" x="36.56" y="1060.5">.</text><g class="k" transform="matrix(.14 0 0 .126 28 1088.2)"><use href="#ef" x="100"/><use href="#eg" x="200"/><use href="#bC" x="300"/><use href="#dx" x="400"/></g><text class="lb" transform="matrix(.64 0 0 1 28.25 1087.9)">D</text><text class="lb" x="36.56" y="1087.9">.</text><g class="k" transform="matrix(.14 0 0 .126 28 1115.6)"><use href="#H" transform="matrix(1.5 0 0 1 -51.86 0)"/><use href="#I" x="100"/><use href="#J" x="200"/><use href="#K" transform="matrix(1.5 0 0 1 306.43 0)"/></g><text class="lb" transform="matrix(.64 0 0 1 84.25 1115.3)">C</text><g class="s" transform="matrix(.14 0 0 .1176 28 1142.3)"><use href="#H" transform="matrix(1.5 0 0 1 -51.86 0)"/><use href="#L" x="100"/><use href="#M" x="200"/><use href="#K" transform="matrix(1.5 0 0 1 306.43 0)"/><use href="#N" x="400"/><use href="#O" x="500"/><use href="#P" x="600"/><use href="#Q" x="700"/><use href="#R" x="800"/><use href="#S" x="900"/><use href="#bd" x="1000"/><use href="#be" x="1100"/><use href="#bX" x="1200"/><use href="#bd" x="1300"/><use href="#cb" x="1400"/><use href="#N" x="1500"/><use href="#cW" x="1600"/><use href="#eh" x="1700"/><use href="#z" x="1800"/><use href="#bX" x="1900"/><use href="#bd" x="2000"/><use href="#bt" x="2100"/><use href="#ei" x="2200"/><use href="#ej" x="2300"/><use href="#eh" x="2400"/><use href="#bs" x="2500"/><use href="#cE" x="2600"/><use href="#bb" x="2700"/><use href="#ek" x="2800"/><use href="#bu" x="2900"/><use href="#el" x="3000"/><use href="#em" x="3100"/><use href="#bq" x="3200"/><use href="#ce" x="3300"/><use href="#cf" x="3400"/><use href="#bd" x="3500"/><use href="#be" x="3600"/><use href="#w" x="3700"/><use href="#bx" x="3800"/><use href="#by" x="3900"/><use href="#R" x="4000"/><use href="#cb" x="4100"/><use href="#N" x="4200"/><use href="#eb" x="4300"/><use href="#bS" x="4400"/><use href="#en" x="4500"/><use href="#cR" x="4600"/><use href="#eo" x="4700"/></g><g class="s" transform="matrix(.14 0 0 .1176 0 1164.7)"><use href="#ep" x="0"/><use href="#o" x="100"/><use href="#eq" x="200"/><use href="#ch" x="300"/><use href="#er" x="400"/><use href="#br" x="500"/><use href="#dZ" x="600"/><use href="#ea" x="700"/><use href="#ej" x="800"/><use href="#es" x="900"/><use href="#cb" x="1000"/><use href="#N" x="1100"/><use href="#bu" x="1200"/><use href="#bt" x="1300"/><use href="#ei" x="1400"/><use href="#et" x="1500"/><use href="#eu" x="1600"/><use href="#cb" x="1700"/><use href="#N" x="1800"/><use href="#o" x="1900"/><use href="#bU" x="2000"/><use href="#bd" x="2100"/><use href="#be" x="2200"/><use href="#bt" x="2300"/><use href="#ei" x="2400"/><use href="#ev" x="2500"/><use href="#bX" x="2600"/><use href="#ew" x="2700"/><use href="#ex" x="2800"/><use href="#ey" x="2900"/><use href="#bx" x="3000"/><use href="#dZ" x="3100"/><use href="#ea" x="3200"/><use href="#ej" x="3300"/><use href="#es" x="3400"/><use href="#cb" x="3500"/><use href="#N" x="3600"/><use href="#ez" x="3700"/><use href="#cT" x="3800"/><use href="#br" x="3900"/><use href="#eA" x="4000"/><use href="#o" x="4100"/><use href="#bq" x="4200"/><use href="#bV" x="4300"/><use href="#cY" x="4400"/><use href="#eB" x="4500"/><use href="#eC" x="4600"/><use href="#bd" x="4700"/><use href="#be" x="4800"/><use href="#bt" x="4900"/><use href="#ei" x="5000"/></g><g class="s" transform="matrix(.14 0 0 .1176 0 1187.1)"><use href="#u" x="0"/><use href="#eD" x="100"/><use href="#cb" x="200"/><use href="#N" x="300"/><use href="#R" x="400"/><use href="#eE" x="500"/><use href="#cn" x="600"/><use href="#eF" x="700"/><use href="#cn" x="800"/><use href="#bv" x="900"/><use href="#cn" x="1000"/><use href="#eG" x="1100"/><use href="#R" x="1200"/><use href="#eH" x="1300"/><use href="#eI" x="1400"/><use href="#bu" x="1500"/><use href="#cb" x="1600"/><use href="#N" x="1700"/><use href="#cW" x="1800"/><use href="#eh" x="1900"/><use href="#ea" x="2000"/><use href="#eJ" x="2100"/><use href="#z" x="2200"/></g><g class="k" transform="matrix(.14 0 0 .126 28 1215.2)"><use href="#eK" x="0"/><use href="#b" x="100"/><use href="#eL" x="200"/><use href="#d" x="300"/><use href="#e" x="400"/><use href="#f" x="500"/><use href="#g" x="600"/></g><g class="s" transform="matrix(.14 0 0 .1176 28 1241.9)"><use href="#bU" x="150"/><use href="#bb" x="250"/><use href="#bc" x="350"/><use href="#bt" x="450"/><use href="#ei" x="550"/><use href="#eM" x="650"/><use href="#dt" x="750"/><use href="#dq" x="850"/><use href="#eN" x="950"/><use href="#bm" x="1050"/><use href="#dq" x="1150"/><use href="#p" x="1250"/><use href="#o" x="1350"/><use href="#cE" x="1450"/><use href="#bK" x="1550"/><use href="#eO" x="1650"/><use href="#eM" x="1750"/><use href="#dt" x="1850"/><use href="#dq" x="1950"/><use href="#eu" x="2050"/><use href="#R" x="2150"/><use href="#di" x="2250"/><use href="#x" x="2350"/><use href="#y" x="2550"/><use href="#z" x="2650"/></g><text class="lr" transform="matrix(.77 0 0 1 28.5 1242.3)">7</text><text class="lr" transform="matrix(.77 0 0 1 35.5 1242.3)">1</text><text class="lr" x="43.56" y="1242.3">.</text><g class="k" transform="matrix(.14 0 0 .126 28 1270)"><use href="#eP" x="100"/><use href="#eQ" x="200"/><use href="#eR" x="300"/><use href="#eS" x="400"/></g><text class="lb" transform="matrix(.64 0 0 1 28.25 1269.7)">A</text><text class="lb" x="36.56" y="1269.7">.</text><g class="k" transform="matrix(.14 0 0 .126 28 1297.4)"><use href="#eT" x="100"/><use href="#eU" x="200"/></g><text class="lb" transform="matrix(.64 0 0 1 28.25 1297.1)">B</text><text class="lb" x="36.56" y="1297.1">.</text><g class="k" transform="matrix(.14 0 0 .126 28 1324.8)"><use href="#eV" x="100"/><use href="#dF" x="200"/></g><text class="lb" transform="matrix(.64 0 0 1 28.25 1324.5)">C</text><text class="lb" x="36.56" y="1324.5">.</text><g class="k" transform="matrix(.14 0 0 .126 28 1352.2)"><use href="#eP" x="100"/><use href="#eW" x="200"/><use href="#eR" x="300"/><use href="#eS" x="400"/></g><text class="lb" transform="matrix(.64 0 0 1 28.25 1351.9)">D</text><text class="lb" x="36.56" y="1351.9">.</text><g class="k" transform="matrix(.14 0 0 .126 28 1379.6)"><use href="#bF" x="100"/><use href="#eW" x="200"/><use href="#eR" x="300"/><use href="#eS" x="400"/></g><text class="lb" transform="matrix(.7 0 0 1 28.25 1379.3)">E</text><text class="lb" x="36.56" y="1379.3">.</text><g class="k" transform="matrix(.14 0 0 .126 28 1407)"><use href="#H" transform="matrix(1.5 0 0 1 -51.86 0)"/><use href="#I" x="100"/><use href="#J" x="200"/><use href="#K" transform="matrix(1.5 0 0 1 306.43 0)"/></g><text class="lb" transform="matrix(.64 0 0 1 84.25 1406.7)">B</text><text class="lb" transform="matrix(.64 0 0 1 91.25 1406.7)">C</text><text class="lb" transform="matrix(.64 0 0 1 98.25 1406.7)">D</text><g class="s" transform="matrix(.14 0 0 .1176 28 1433.7)"><use href="#H" transform="matrix(1.5 0 0 1 -51.86 0)"/><use href="#L" x="100"/><use href="#M" x="200"/><use href="#K" transform="matrix(1.5 0 0 1 306.43 0)"/><use href="#N" x="400"/><use href="#O" x="500"/><use href="#P" x="600"/><use href="#Q" x="700"/><use href="#R" x="800"/><use href="#S" x="900"/><use href="#bm" x="1000"/><use href="#dq" x="1100"/><use href="#dJ" x="1200"/><use href="#bS" x="1300"/><use href="#bz" x="1400"/><use href="#bA" x="1500"/><use href="#z" x="1600"/><use href="#eM" x="1700"/><use href="#dt" x="1800"/><use href="#dq" x="1900"/><use href="#eu" x="2000"/><use href="#cV" x="2100"/><use href="#bi" x="2200"/><use href="#P" x="2300"/><use href="#eX" x="2400"/><use href="#eY" x="2500"/><use href="#eN" x="2600"/><use href="#cn" x="2700"/><use href="#cE" x="2800"/><use href="#eE" x="2900"/><use href="#eZ" x="3000"/><use href="#fa" x="3100"/><use href="#cn" x="3200"/><use href="#bR" x="3300"/><use href="#fb" x="3400"/><use href="#eZ" x="3500"/><use href="#fa" x="3600"/><use href="#bu" x="3700"/><use href="#fc" x="3800"/><use href="#fd" x="3900"/><use href="#fe" x="4000"/><use href="#eM" x="4100"/><use href="#dt" x="4200"/><use href="#ff" x="4300"/><use href="#fg" x="4400"/><use href="#cV" x="4500"/><use href="#bi" x="4600"/><use href="#P" x="4700"/><use href="#eX" x="4800"/></g><g class="s" transform="matrix(.14 0 0 .1176 0 1456.1)"><use href="#cE" x="0"/><use href="#fb" x="100"/><use href="#eZ" x="200"/><use href="#fa" x="300"/><use href="#bu" x="400"/><use href="#bR" x="500"/><use href="#eE" x="600"/><use href="#eZ" x="700"/><use href="#fa" x="800"/><use href="#z" x="900"/></g><g class="s" transform="matrix(.14 0 0 .1176 28 1483.5)"><use href="#bb" x="150"/><use href="#bc" x="250"/><use href="#bt" x="350"/><use href="#ei" x="450"/><use href="#bc" x="550"/><use href="#bK" x="650"/><use href="#fh" x="750"/><use href="#bS" x="850"/><use href="#bz" x="950"/><use href="#bA" x="1050"/><use href="#fi" x="1150"/><use href="#i" x="1250"/><use href="#di" x="1350"/><use href="#x" x="1450"/><use href="#y" x="1650"/><use href="#z" x="1750"/></g><text class="lr" transform="matrix(.77 0 0 1 28.5 1483.9)">7</text><text class="lr" transform="matrix(.77 0 0 1 35.5 1483.9)">2</text><text class="lr" x="43.56" y="1483.9">.</text><g class="s" transform="matrix(.14 0 0 .1176 28 1510.9)"><use href="#bd" x="100"/><use href="#be" x="200"/><use href="#fj" x="300"/><use href="#fk" x="400"/><use href="#bO" x="500"/><use href="#bc" x="600"/><use href="#bK" x="700"/><use href="#bg" x="800"/><use href="#bh" x="900"/></g><text class="lr" transform="matrix(.64 0 0 1 28.5 1511.3)">A</text><text class="lr" x="36.56" y="1511.3">.</text><g class="s" transform="matrix(.14 0 0 .1176 28 1538.3)"><use href="#bb" x="100"/><use href="#bc" x="200"/><use href="#bt" x="300"/><use href="#ei" x="400"/><use href="#dq" x="500"/><use href="#eN" x="600"/><use href="#fl" x="700"/><use href="#fm" x="800"/><use href="#fn" x="900"/><use href="#fo" x="1000"/></g><text class="lr" transform="matrix(.64 0 0 1 28.5 1538.7)">B</text><text class="lr" x="36.56" y="1538.7">.</text><g class="s" transform="matrix(.14 0 0 .1176 28 1565.7)"><use href="#T" x="100"/><use href="#cE" x="200"/><use href="#bd" x="300"/><use href="#be" x="400"/><use href="#fp" x="500"/><use href="#bL" x="600"/><use href="#cW" x="700"/><use href="#eh" x="800"/><use href="#cq" x="900"/><use href="#bw" x="1000"/><use href="#fq" x="1100"/><use href="#fr" x="1200"/><use href="#R" x="1300"/><use href="#dJ" x="1400"/><use href="#bS" x="1500"/><use href="#bT" x="1600"/><use href="#q" x="1700"/></g><text class="lr" transform="matrix(.59 0 0 1 28.5 1566.1)">C</text><text class="lr" x="36.56" y="1566.1">.</text><g class="s" transform="matrix(.14 0 0 .1176 28 1593.1)"><use href="#bX" x="100"/><use href="#bd" x="200"/><use href="#fs" x="300"/><use href="#ft" x="400"/><use href="#bc" x="500"/><use href="#bK" x="600"/><use href="#bu" x="700"/><use href="#bX" x="800"/><use href="#bd" x="900"/><use href="#fn" x="1000"/><use href="#fo" x="1100"/></g><text class="lr" transform="matrix(.59 0 0 1 28.5 1593.5)">D</text><text class="lr" x="36.56" y="1593.5">.</text><g class="s" transform="matrix(.14 0 0 .1176 28 1620.5)"><use href="#co" x="100"/><use href="#cp" x="200"/><use href="#fu" x="300"/><use href="#cE" x="400"/><use href="#fn" x="500"/><use href="#fv" x="600"/><use href="#cv" x="700"/><use href="#fu" x="800"/><use href="#cE" x="900"/><use href="#bL" x="1000"/><use href="#ch" x="1100"/></g><text class="lr" transform="matrix(.64 0 0 1 28.5 1620.9)">E</text><text class="lr" x="36.56" y="1620.9">.</text><g class="k" transform="matrix(.14 0 0 .126 28 1648.6)"><use href="#H" transform="matrix(1.5 0 0 1 -51.86 0)"/><use href="#I" x="100"/><use href="#J" x="200"/><use href="#K" transform="matrix(1.5 0 0 1 306.43 0)"/></g><text class="lb" transform="matrix(.64 0 0 1 84.25 1648.3)">B</text><text class="lb" transform="matrix(.64 0 0 1 91.25 1648.3)">D</text><text class="lb" transform="matrix(.7 0 0 1 98.25 1648.3)">E</text><g class="s" transform="matrix(.14 0 0 .1176 28 1675.3)"><use href="#H" transform="matrix(1.5 0 0 1 -51.86 0)"/><use href="#L" x="100"/><use href="#M" x="200"/><use href="#K" transform="matrix(1.5 0 0 1 306.43 0)"/><use href="#N" x="400"/><use href="#O" x="500"/><use href="#P" x="600"/><use href="#Q" x="700"/><use href="#R" x="800"/><use href="#S" x="900"/><use href="#bc" x="1000"/><use href="#bK" x="1100"/><use href="#fh" x="1200"/><use href="#bS" x="1300"/><use href="#bz" x="1400"/><use href="#bA" x="1500"/><use href="#z" x="1600"/><use href="#cc" x="1700"/><use href="#ec" x="1800"/><use href="#fl" x="1900"/><use href="#fw" x="2000"/><use href="#o" x="2100"/><use href="#bc" x="2200"/><use href="#bK" x="2300"/><use href="#fh" x="2400"/><use href="#bS" x="2500"/><use href="#bz" x="2600"/><use href="#bA" x="2700"/><use href="#fi" x="2800"/><use href="#i" x="2900"/><use href="#cV" x="3000"/><use href="#bi" x="3100"/><use href="#dY" x="3200"/><use href="#fx" x="3300"/><use href="#fy" x="3400"/><use href="#x" x="3500"/><use href="#y" x="3650"/><use href="#Y" x="3750"/><use href="#dh" x="3850"/><use href="#cn" x="3950"/><use href="#cT" x="4050"/><use href="#ea" x="4150"/><use href="#bu" x="4250"/><use href="#dk" x="4350"/><use href="#fn" x="4450"/><use href="#cU" x="4550"/><use href="#do" x="4650"/><use href="#di" x="4750"/></g><text class="lr" transform="matrix(.77 0 0 1 532.5 1675.7)">1</text><g class="s" transform="matrix(.14 0 0 .1176 0 1697.7)"><use href="#U" x="0"/><use href="#bb" x="100"/><use href="#bc" x="200"/><use href="#bu" x="300"/><use href="#fp" x="400"/><use href="#bL" x="500"/><use href="#cW" x="600"/><use href="#eh" x="700"/><use href="#R" x="800"/><use href="#l" x="900"/><use href="#fz" x="1000"/><use href="#cn" x="1100"/><use href="#l" x="1200"/><use href="#Z" x="1300"/><use href="#cn" x="1400"/><use href="#Z" x="1500"/><use href="#ba" x="1600"/><use href="#z" x="1700"/><use href="#x" x="1800"/><use href="#y" x="1950"/><use href="#T" x="2050"/><use href="#U" x="2150"/><use href="#bg" x="2250"/><use href="#bh" x="2350"/><use href="#bu" x="2450"/><use href="#cx" x="2550"/><use href="#bQ" x="2650"/><use href="#dq" x="2750"/><use href="#cp" x="2850"/><use href="#z" x="2950"/><use href="#y" x="3100"/><use href="#fA" x="3200"/><use href="#fB" x="3300"/><use href="#bc" x="3400"/><use href="#bK" x="3500"/><use href="#fC" x="3600"/><use href="#fD" x="3700"/><use href="#fA" x="3800"/><use href="#fB" x="3900"/><use href="#bc" x="4000"/><use href="#bK" x="4100"/><use href="#fE" x="4200"/><use href="#fF" x="4300"/><use href="#cn" x="4400"/><use href="#bc" x="4500"/><use href="#bK" x="4600"/><use href="#fw" x="4700"/><use href="#fG" x="4800"/><use href="#t" x="4900"/><use href="#cn" x="5000"/></g><text class="lr" transform="matrix(.77 0 0 1 266.5 1698.1)">2</text><text class="lr" transform="matrix(.77 0 0 1 427.5 1698.1)">1</text><g class="s" transform="matrix(.14 0 0 .1176 0 1720.1)"><use href="#bc" x="0"/><use href="#dL" x="100"/><use href="#fH" x="200"/><use href="#ce" x="300"/><use href="#bu" x="400"/><use href="#co" x="500"/><use href="#cp" x="600"/><use href="#fI" x="700"/><use href="#fJ" x="800"/><use href="#z" x="900"/><use href="#y" x="1050"/><use href="#fK" x="1150"/><use href="#cy" x="1250"/><use href="#R" x="1350"/><use href="#bb" x="1450"/><use href="#bc" x="1550"/><use href="#bt" x="1650"/><use href="#ei" x="1750"/><use href="#bc" x="1850"/><use href="#bK" x="1950"/><use href="#fL" x="2050"/><use href="#cR" x="2150"/><use href="#t" x="2250"/><use href="#x" x="2350"/><use href="#fM" x="2450"/><use href="#fK" x="2550"/><use href="#cy" x="2650"/><use href="#R" x="2750"/><use href="#u" x="2850"/><use href="#cT" x="2950"/><use href="#fN" x="3050"/><use href="#fO" x="3150"/><use href="#fP" x="3250"/><use href="#fQ" x="3350"/><use href="#fR" x="3450"/><use href="#y" x="3550"/><use href="#bu" x="3650"/><use href="#cV" x="3750"/><use href="#cW" x="3850"/><use href="#bs" x="3950"/><use href="#cX" x="4050"/><use href="#R" x="4150"/><use href="#di" x="4250"/><use href="#U" x="4350"/><use href="#Z" x="4450"/><use href="#ba" x="4550"/><use href="#z" x="4650"/><use href="#y" x="4800"/><use href="#Y" x="4900"/><use href="#dh" x="5000"/></g><text class="lr" transform="matrix(.77 0 0 1 140.5 1720.5)">2</text><text class="lr" transform="matrix(.77 0 0 1 665.5 1720.5)">3</text><g class="s" transform="matrix(.14 0 0 .1176 0 1742.5)"><use href="#fM" x="0"/><use href="#fS" x="100"/><use href="#cn" x="200"/><use href="#fT" x="300"/><use href="#fU" x="400"/><use href="#er" x="500"/><use href="#cn" x="600"/><use href="#fV" x="700"/><use href="#fW" x="800"/><use href="#fX" x="900"/><use href="#eY" x="1000"/><use href="#cT" x="1100"/><use href="#R" x="1200"/><use href="#bb" x="1300"/><use href="#cB" x="1400"/><use href="#bc" x="1500"/><use href="#bK" x="1600"/><use href="#fh" x="1700"/><use href="#bS" x="1800"/><use href="#ba" x="1900"/><use href="#bM" x="2000"/><use href="#o" x="2100"/><use href="#eY" x="2200"/><use href="#cT" x="2300"/><use href="#R" x="2400"/><use href="#fY" x="2500"/><use href="#fZ" x="2600"/><use href="#bc" x="2700"/><use href="#bK" x="2800"/><use href="#fh" x="2900"/><use href="#bS" x="3000"/><use href="#ba" x="3100"/><use href="#bM" x="3200"/><use href="#o" x="3300"/><use href="#bN" x="3400"/><use href="#ga" x="3500"/><use href="#bd" x="3600"/><use href="#be" x="3700"/><use href="#fh" x="3800"/><use href="#bR" x="3900"/><use href="#bS" x="4000"/><use href="#cv" x="4100"/><use href="#gb" x="4200"/><use href="#gc" x="4300"/><use href="#ej" x="4400"/><use href="#gd" x="4500"/><use href="#bT" x="4600"/><use href="#q" x="4700"/><use href="#z" x="4800"/><use href="#y" x="4950"/></g><text class="lr" transform="matrix(.77 0 0 1 686.5 1742.9)">4</text><g class="s" transform="matrix(.14 0 0 .1176 0 1764.9)"><use href="#bb" x="0"/><use href="#bc" x="100"/><use href="#bd" x="200"/><use href="#be" x="300"/><use href="#ci" x="400"/><use href="#bU" x="500"/><use href="#dk" x="600"/><use href="#er" x="700"/><use href="#R" x="800"/><use href="#cm" x="900"/><use href="#bd" x="1000"/><use href="#bd" x="1100"/><use href="#dq" x="1200"/><use href="#q" x="1300"/><use href="#cy" x="1400"/><use href="#cn" x="1500"/><use href="#co" x="1600"/><use href="#cp" x="1700"/><use href="#bL" x="1800"/><use href="#ch" x="1900"/><use href="#cn" x="2000"/><use href="#bX" x="2100"/><use href="#bd" x="2200"/><use href="#cq" x="2300"/><use href="#ge" x="2400"/><use href="#cs" x="2500"/><use href="#ct" x="2600"/><use href="#bL" x="2700"/><use href="#ch" x="2800"/><use href="#o" x="2900"/><use href="#q" x="3000"/><use href="#cy" x="3100"/><use href="#bc" x="3200"/><use href="#dL" x="3300"/><use href="#bu" x="3400"/><use href="#gf" x="3500"/><use href="#q" x="3600"/><use href="#cy" x="3700"/><use href="#bc" x="3800"/><use href="#dL" x="3900"/><use href="#bL" x="4000"/><use href="#ch" x="4100"/><use href="#dq" x="4200"/><use href="#cp" x="4300"/><use href="#o" x="4400"/><use href="#eY" x="4500"/><use href="#cT" x="4600"/><use href="#R" x="4700"/><use href="#bc" x="4800"/><use href="#dL" x="4900"/><use href="#gg" x="5000"/></g><g class="s" transform="matrix(.14 0 0 .1176 0 1787.3)"><use href="#bL" x="0"/><use href="#cv" x="100"/><use href="#gh" x="200"/><use href="#gi" x="300"/><use href="#cx" x="400"/><use href="#cx" x="500"/><use href="#gj" x="600"/><use href="#o" x="700"/><use href="#gk" x="800"/><use href="#bN" x="900"/><use href="#fp" x="1000"/><use href="#bL" x="1100"/><use href="#gl" x="1200"/><use href="#dO" x="1300"/><use href="#bu" x="1400"/><use href="#bT" x="1500"/><use href="#cu" x="1600"/><use href="#z" x="1700"/><use href="#y" x="1850"/><use href="#Y" x="1950"/><use href="#dh" x="2050"/><use href="#fM" x="2150"/><use href="#fS" x="2250"/><use href="#cn" x="2350"/><use href="#fT" x="2450"/><use href="#fU" x="2550"/><use href="#er" x="2650"/><use href="#cn" x="2750"/><use href="#fV" x="2850"/><use href="#fW" x="2950"/><use href="#fX" x="3050"/><use href="#eY" x="3150"/><use href="#cT" x="3250"/><use href="#R" x="3350"/><use href="#bb" x="3450"/><use href="#cB" x="3550"/><use href="#fY" x="3650"/><use href="#fZ" x="3750"/><use href="#bd" x="3850"/><use href="#be" x="3950"/><use href="#dZ" x="4050"/><use href="#ea" x="4150"/><use href="#cW" x="4250"/><use href="#eh" x="4350"/><use href="#cx" x="4450"/><use href="#fJ" x="4550"/><use href="#di" x="4650"/><use href="#U" x="4750"/><use href="#cx" x="4850"/><use href="#bQ" x="4950"/></g><text class="lr" transform="matrix(.77 0 0 1 252.5 1787.7)">5</text><g class="s" transform="matrix(.14 0 0 .1176 0 1809.7)"><use href="#q" x="0"/><use href="#cy" x="100"/><use href="#y" x="250"/><use href="#dq" x="350"/><use href="#eN" x="450"/><use href="#gm" x="550"/><use href="#gn" x="650"/><use href="#fn" x="750"/><use href="#fv" x="850"/><use href="#fM" x="950"/><use href="#dq" x="1050"/><use href="#eN" x="1150"/><use href="#fl" x="1250"/><use href="#fm" x="1350"/><use href="#z" x="1450"/><use href="#y" x="1600"/><use href="#bX" x="1700"/><use href="#bd" x="1800"/><use href="#fs" x="1900"/><use href="#ft" x="2000"/><use href="#bc" x="2100"/><use href="#bK" x="2200"/><use href="#fM" x="2300"/><use href="#bX" x="2400"/><use href="#bd" x="2500"/><use href="#fn" x="2600"/><use href="#fo" x="2700"/><use href="#z" x="2800"/><use href="#y" x="2950"/><use href="#bt" x="3050"/><use href="#ei" x="3150"/><use href="#go" x="3250"/><use href="#cv" x="3350"/><use href="#R" x="3450"/><use href="#di" x="3550"/><use href="#U" x="3650"/><use href="#bg" x="3750"/><use href="#bh" x="3850"/><use href="#cn" x="3950"/><use href="#cg" x="4050"/><use href="#gp" x="4150"/><use href="#cn" x="4250"/><use href="#gq" x="4350"/><use href="#gr" x="4450"/><use href="#fJ" x="4550"/><use href="#z" x="4650"/><use href="#x" x="4750"/><use href="#y" x="4900"/><use href="#bX" x="5000"/></g><text class="lr" transform="matrix(.77 0 0 1 28.5 1810.1)">6</text><text class="lr" transform="matrix(.77 0 0 1 217.5 1810.1)">7</text><text class="lr" transform="matrix(.77 0 0 1 406.5 1810.1)">8</text><text class="lr" transform="matrix(.77 0 0 1 679.5 1810.1)">3</text><g class="s" transform="matrix(.14 0 0 .1176 0 1832.1)"><use href="#bd" x="0"/><use href="#eY" x="100"/><use href="#gs" x="200"/><use href="#dq" x="300"/><use href="#cp" x="400"/><use href="#z" x="500"/></g><g class="s" transform="matrix(.14 0 0 .1176 28 1859.5)"><use href="#bZ" x="150"/><use href="#dp" x="250"/><use href="#bd" x="350"/><use href="#be" x="450"/><use href="#bR" x="550"/><use href="#bS" x="650"/><use href="#p" x="750"/><use href="#o" x="850"/><use href="#dr" x="950"/><use href="#ds" x="1050"/><use href="#ce" x="1150"/><use href="#cf" x="1250"/><use href="#bc" x="1350"/><use href="#dL" x="1450"/><use href="#fY" x="1550"/><use href="#fZ" x="1650"/><use href="#bd" x="1750"/><use href="#be" x="1850"/><use href="#bR" x="1950"/><use href="#bS" x="2050"/><use href="#R" x="2150"/><use href="#di" x="2250"/><use href="#x" x="2350"/><use href="#y" x="2550"/><use href="#z" x="2650"/></g><text class="lr" transform="matrix(.77 0 0 1 28.5 1859.9)">7</text><text class="lr" transform="matrix(.77 0 0 1 35.5 1859.9)">3</text><text class="lr" x="43.56" y="1859.9">.</text><g class="k" transform="matrix(.14 0 0 .126 28 1887.6)"><use href="#gt" x="100"/><use href="#gu" x="200"/><use href="#gv" x="300"/><use href="#gw" x="400"/><use href="#bC" x="500"/><use href="#dx" x="600"/><use href="#bF" x="700"/><use href="#bG" x="800"/></g><text class="lb" transform="matrix(.64 0 0 1 28.25 1887.3)">A</text><text class="lb" x="36.56" y="1887.3">.</text><g class="k" transform="matrix(.14 0 0 .126 28 1915)"><use href="#gx" x="100"/><use href="#gy" x="200"/><use href="#gz" x="300"/><use href="#gA" x="400"/><use href="#bC" x="500"/><use href="#dx" x="600"/><use href="#bF" x="700"/><use href="#bG" x="800"/></g><text class="lb" transform="matrix(.64 0 0 1 28.25 1914.7)">B</text><text class="lb" x="36.56" y="1914.7">.</text><g class="k" transform="matrix(.14 0 0 .126 28 1942.4)"><use href="#bC" x="100"/><use href="#gB" x="200"/><use href="#gC" x="300"/><use href="#gD" x="400"/><use href="#bC" x="500"/><use href="#dx" x="600"/><use href="#bF" x="700"/><use href="#bG" x="800"/></g><text class="lb" transform="matrix(.64 0 0 1 28.25 1942.1)">C</text><text class="lb" x="36.56" y="1942.1">.</text><g class="s" transform="matrix(.14 0 0 .1176 28 1969.1)"><use href="#gE" x="100"/><use href="#gF" x="200"/><use href="#bc" x="300"/><use href="#dL" x="400"/><use href="#fY" x="500"/><use href="#fZ" x="600"/><use href="#bd" x="700"/><use href="#be" x="800"/><use href="#bR" x="900"/><use href="#bS" x="1000"/></g><text class="lr" transform="matrix(.59 0 0 1 28.5 1969.5)">D</text><text class="lr" x="36.56" y="1969.5">.</text><g class="s" transform="matrix(.14 0 0 .1176 28 1996.5)"><use href="#gG" x="100"/><use href="#gH" x="200"/><use href="#bc" x="300"/><use href="#dL" x="400"/><use href="#fY" x="500"/><use href="#fZ" x="600"/><use href="#bd" x="700"/><use href="#be" x="800"/><use href="#bR" x="900"/><use href="#bS" x="1000"/></g><text class="lr" transform="matrix(.64 0 0 1 28.5 1996.9)">E</text><text class="lr" x="36.56" y="1996.9">.</text><g class="k" transform="matrix(.14 0 0 .126 28 2024.6)"><use href="#H" transform="matrix(1.5 0 0 1 -51.86 0)"/><use href="#I" x="100"/><use href="#J" x="200"/><use href="#K" transform="matrix(1.5 0 0 1 306.43 0)"/></g><text class="lb" transform="matrix(.64 0 0 1 84.25 2024.3)">D</text><text class="lb" transform="matrix(.7 0 0 1 91.25 2024.3)">E</text><g class="s" transform="matrix(.14 0 0 .1176 28 2051.3)"><use href="#H" transform="matrix(1.5 0 0 1 -51.86 0)"/><use href="#L" x="100"/><use href="#M" x="200"/><use href="#K" transform="matrix(1.5 0 0 1 306.43 0)"/><use href="#N" x="400"/><use href="#O" x="500"/><use href="#P" x="600"/><use href="#Q" x="700"/><use href="#R" x="800"/><use href="#S" x="900"/><use href="#bX" x="1000"/><use href="#bd" x="1100"/><use href="#fE" x="1200"/><use href="#bR" x="1300"/><use href="#bS" x="1400"/><use href="#bz" x="1500"/><use href="#bA" x="1600"/><use href="#z" x="1700"/><use href="#ce" x="1800"/><use href="#cf" x="1900"/><use href="#bd" x="2000"/><use href="#be" x="2100"/><use href="#bR" x="2200"/><use href="#bS" x="2300"/><use href="#dY" x="2400"/><use href="#fx" x="2500"/><use href="#bb" x="2600"/><use href="#cB" x="2700"/><use href="#bd" x="2800"/><use href="#be" x="2900"/><use href="#bR" x="3000"/><use href="#bS" x="3100"/><use href="#bu" x="3200"/><use href="#bc" x="3300"/><use href="#dL" x="3400"/><use href="#fY" x="3500"/><use href="#fZ" x="3600"/><use href="#bd" x="3700"/><use href="#be" x="3800"/><use href="#bR" x="3900"/><use href="#bS" x="4000"/><use href="#z" x="4100"/><use href="#bb" x="4200"/><use href="#cB" x="4300"/><use href="#bd" x="4400"/><use href="#be" x="4500"/><use href="#bR" x="4600"/><use href="#bS" x="4700"/><use href="#df" x="4800"/></g><g class="s" transform="matrix(.14 0 0 .1176 0 2073.7)"><use href="#cw" x="0"/><use href="#bd" x="100"/><use href="#be" x="200"/><use href="#fN" x="300"/><use href="#gI" x="400"/><use href="#br" x="500"/><use href="#w" x="600"/><use href="#cc" x="700"/><use href="#ec" x="800"/><use href="#gJ" x="900"/><use href="#bb" x="1000"/><use href="#bd" x="1100"/><use href="#be" x="1200"/><use href="#bR" x="1300"/><use href="#bS" x="1400"/><use href="#cn" x="1500"/><use href="#fZ" x="1600"/><use href="#gK" x="1700"/><use href="#fZ" x="1800"/><use href="#gL" x="1900"/><use href="#bd" x="2000"/><use href="#be" x="2100"/><use href="#bR" x="2200"/><use href="#bS" x="2300"/><use href="#cn" x="2400"/><use href="#gM" x="2500"/><use href="#gN" x="2600"/><use href="#gO" x="2700"/><use href="#bd" x="2800"/><use href="#be" x="2900"/><use href="#bR" x="3000"/><use href="#bS" x="3100"/><use href="#cn" x="3200"/><use href="#gP" x="3300"/><use href="#gQ" x="3400"/><use href="#r" x="3500"/><use href="#gR" x="3600"/><use href="#bd" x="3700"/><use href="#be" x="3800"/><use href="#bR" x="3900"/><use href="#bS" x="4000"/><use href="#cn" x="4100"/><use href="#gS" x="4200"/><use href="#gF" x="4300"/><use href="#bd" x="4400"/><use href="#be" x="4500"/><use href="#bR" x="4600"/><use href="#bS" x="4700"/><use href="#cn" x="4800"/><use href="#fu" x="4900"/><use href="#gE" x="5000"/></g><g class="s" transform="matrix(.14 0 0 .1176 0 2096.1)"><use href="#x" x="0"/><use href="#gE" x="100"/><use href="#gF" x="200"/><use href="#dg" x="300"/><use href="#fG" x="400"/><use href="#cn" x="500"/><use href="#dt" x="600"/><use href="#gH" x="700"/><use href="#y" x="800"/><use href="#cn" x="900"/><use href="#gT" x="1000"/><use href="#gE" x="1100"/><use href="#bd" x="1200"/><use href="#be" x="1300"/><use href="#bR" x="1400"/><use href="#bS" x="1500"/><use href="#cn" x="1600"/><use href="#gU" x="1700"/><use href="#gV" x="1800"/><use href="#bw" x="1900"/><use href="#cB" x="2000"/><use href="#gW" x="2100"/><use href="#gX" x="2200"/><use href="#gY" x="2300"/><use href="#gZ" x="2400"/><use href="#fJ" x="2500"/><use href="#bd" x="2600"/><use href="#be" x="2700"/><use href="#bR" x="2800"/><use href="#bS" x="2900"/><use href="#bu" x="3000"/><use href="#bd" x="3100"/><use href="#ea" x="3200"/><use href="#cW" x="3300"/><use href="#ha" x="3400"/><use href="#bd" x="3500"/><use href="#be" x="3600"/><use href="#bR" x="3700"/><use href="#bS" x="3800"/><use href="#fJ" x="3900"/><use href="#z" x="4000"/><use href="#bc" x="4100"/><use href="#dL" x="4200"/><use href="#fY" x="4300"/><use href="#fZ" x="4400"/><use href="#bd" x="4500"/><use href="#be" x="4600"/><use href="#bR" x="4700"/><use href="#bS" x="4800"/><use href="#u" x="4900"/><use href="#br" x="5000"/></g><g class="s" transform="matrix(.14 0 0 .1176 0 2118.5)"><use href="#w" x="0"/><use href="#cq" x="100"/><use href="#ge" x="200"/><use href="#bc" x="300"/><use href="#dL" x="400"/><use href="#fY" x="500"/><use href="#fZ" x="600"/><use href="#bd" x="700"/><use href="#be" x="800"/><use href="#bR" x="900"/><use href="#bS" x="1000"/><use href="#cn" x="1100"/><use href="#gE" x="1200"/><use href="#gF" x="1300"/><use href="#bc" x="1400"/><use href="#dL" x="1500"/><use href="#fY" x="1600"/><use href="#fZ" x="1700"/><use href="#bd" x="1800"/><use href="#be" x="1900"/><use href="#bR" x="2000"/><use href="#bS" x="2100"/><use href="#bu" x="2200"/><use href="#gG" x="2300"/><use href="#gH" x="2400"/><use href="#bc" x="2500"/><use href="#dL" x="2600"/><use href="#fY" x="2700"/><use href="#fZ" x="2800"/><use href="#bd" x="2900"/><use href="#be" x="3000"/><use href="#bR" x="3100"/><use href="#bS" x="3200"/><use href="#fJ" x="3300"/><use href="#z" x="3400"/></g><g class="s" transform="matrix(.14 0 0 .1176 28 2145.9)"><use href="#bq" x="150"/><use href="#bZ" x="250"/><use href="#dr" x="350"/><use href="#ds" x="450"/><use href="#fV" x="550"/><use href="#hb" x="650"/><use href="#cx" x="750"/><use href="#bQ" x="850"/><use href="#R" x="950"/><use href="#di" x="1050"/><use href="#x" x="1150"/><use href="#y" x="1350"/><use href="#z" x="1450"/></g><text class="lr" transform="matrix(.77 0 0 1 28.5 2146.3)">7</text><text class="lr" transform="matrix(.77 0 0 1 35.5 2146.3)">8</text><text class="lr" x="43.56" y="2146.3">.</text><g class="k" transform="matrix(.14 0 0 .126 28 2174)"><use href="#hc" x="100"/><use href="#hd" x="200"/><use href="#he" x="300"/><use href="#hf" x="400"/><use href="#hg" x="500"/><use href="#dy" x="600"/><use href="#hd" x="700"/></g><text class="lb" transform="matrix(.64 0 0 1 28.25 2173.7)">A</text><text class="lb" x="36.56" y="2173.7">.</text><g class="k" transform="matrix(.14 0 0 .126 28 2201.4)"><use href="#hc" x="100"/><use href="#hd" x="200"/><use href="#he" x="300"/><use href="#hh" x="400"/><use href="#bC" x="500"/><use href="#dy" x="600"/><use href="#hd" x="700"/></g><text class="lb" transform="matrix(.64 0 0 1 28.25 2201.1)">B</text><text class="lb" x="36.56" y="2201.1">.</text><g class="s" transform="matrix(.14 0 0 .1176 28 2228.1)"><use href="#cl" x="100"/><use href="#bQ" x="200"/><use href="#R" x="300"/><use href="#cq" x="400"/><use href="#ge" x="500"/><use href="#hi" x="600"/><use href="#bQ" x="700"/><use href="#cx" x="800"/><use href="#bQ" x="900"/></g><text class="lr" transform="matrix(.59 0 0 1 28.5 2228.5)">C</text><text class="lr" x="36.56" y="2228.5">.</text><g class="s" transform="matrix(.14 0 0 .1176 28 2255.5)"><use href="#cl" x="100"/><use href="#bQ" x="200"/><use href="#R" x="300"/><use href="#dZ" x="400"/><use href="#ea" x="500"/><use href="#cW" x="600"/><use href="#eh" x="700"/><use href="#cx" x="800"/><use href="#bQ" x="900"/></g><text class="lr" transform="matrix(.59 0 0 1 28.5 2255.9)">D</text><text class="lr" x="36.56" y="2255.9">.</text><g class="k" transform="matrix(.14 0 0 .126 28 2283.6)"><use href="#hj" x="100"/><use href="#hk" x="200"/><use href="#he" x="300"/><use href="#hl" x="400"/><use href="#dy" x="500"/></g><text class="lb" transform="matrix(.7 0 0 1 28.25 2283.3)">E</text><text class="lb" x="36.56" y="2283.3">.</text><g class="k" transform="matrix(.14 0 0 .126 28 2311)"><use href="#H" transform="matrix(1.5 0 0 1 -51.86 0)"/><use href="#I" x="100"/><use href="#J" x="200"/><use href="#K" transform="matrix(1.5 0 0 1 306.43 0)"/></g><text class="lb" transform="matrix(.64 0 0 1 84.25 2310.7)">A</text><text class="lb" transform="matrix(.64 0 0 1 91.25 2310.7)">B</text><text class="lb" transform="matrix(.64 0 0 1 98.25 2310.7)">C</text><g class="s" transform="matrix(.14 0 0 .1176 28 2337.7)"><use href="#H" transform="matrix(1.5 0 0 1 -51.86 0)"/><use href="#L" x="100"/><use href="#M" x="200"/><use href="#K" transform="matrix(1.5 0 0 1 306.43 0)"/><use href="#N" x="400"/><use href="#O" x="500"/><use href="#P" x="600"/><use href="#Q" x="700"/><use href="#R" x="800"/><use href="#S" x="900"/><use href="#bb" x="1000"/><use href="#cB" x="1100"/><use href="#fY" x="1200"/><use href="#fZ" x="1300"/><use href="#bd" x="1400"/><use href="#be" x="1500"/><use href="#cx" x="1600"/><use href="#z" x="1700"/><use href="#cl" x="1800"/><use href="#bQ" x="1900"/><use href="#R" x="2000"/><use href="#co" x="2100"/><use href="#cp" x="2200"/><use href="#cx" x="2300"/><use href="#bQ" x="2400"/><use href="#cn" x="2500"/><use href="#cl" x="2600"/><use href="#bQ" x="2700"/><use href="#R" x="2800"/><use href="#cm" x="2900"/><use href="#bd" x="3000"/><use href="#cx" x="3100"/><use href="#bQ" x="3200"/><use href="#cn" x="3300"/><use href="#cl" x="3400"/><use href="#bQ" x="3500"/><use href="#R" x="3600"/><use href="#cq" x="3700"/><use href="#ge" x="3800"/><use href="#hi" x="3900"/><use href="#bQ" x="4000"/><use href="#cx" x="4100"/><use href="#bQ" x="4200"/><use href="#dr" x="4300"/><use href="#ds" x="4400"/><use href="#fV" x="4500"/><use href="#hb" x="4600"/><use href="#cx" x="4700"/></g><g class="s" transform="matrix(.14 0 0 .1176 0 2360.1)"><use href="#bQ" x="0"/><use href="#z" x="100"/></g><g class="s" transform="matrix(.14 0 0 .1176 28 2387.5)"><use href="#h" x="150"/><use href="#i" x="250"/><use href="#j" x="350"/><use href="#q" x="450"/><use href="#cy" x="550"/><use href="#bX" x="650"/><use href="#bd" x="750"/><use href="#bf" x="850"/><use href="#q" x="950"/><use href="#bg" x="1050"/><use href="#bh" x="1150"/><use href="#n" x="1250"/><use href="#o" x="1350"/><use href="#dr" x="1450"/><use href="#ds" x="1550"/><use href="#bo" x="1650"/><use href="#dY" x="1750"/><use href="#cm" x="1850"/><use href="#u" x="1950"/><use href="#hm" x="2050"/><use href="#hn" x="2150"/><use href="#cx" x="2250"/><use href="#bQ" x="2350"/><use href="#R" x="2450"/><use href="#ho" x="2550"/><use href="#hp" x="2650"/><use href="#di" x="2750"/><use href="#x" x="2850"/><use href="#y" x="3050"/><use href="#z" x="3150"/></g><text class="lr" transform="matrix(.77 0 0 1 28.5 2387.9)">7</text><text class="lr" transform="matrix(.77 0 0 1 35.5 2387.9)">9</text><text class="lr" x="43.56" y="2387.9">.</text><g class="k" transform="matrix(.14 0 0 .126 28 2415.6)"><use href="#hq" x="100"/><use href="#hr" x="200"/><use href="#hs" x="300"/><use href="#ht" x="400"/><use href="#gy" x="500"/><use href="#hu" x="600"/><use href="#hv" x="700"/><use href="#hw" x="800"/></g><text class="lb" transform="matrix(.64 0 0 1 28.25 2415.3)">A</text><text class="lb" x="36.56" y="2415.3">.</text><g class="s" transform="matrix(.14 0 0 .1176 28 2442.3)"><use href="#hx" x="100"/><use href="#eh" x="200"/><use href="#cm" x="300"/><use href="#hy" x="400"/><use href="#hz" x="500"/><use href="#df" x="600"/><use href="#cg" x="700"/><use href="#gp" x="800"/><use href="#bj" x="900"/><use href="#ba" x="1000"/><use href="#fq" x="1100"/><use href="#hA" x="1200"/><use href="#bT" x="1300"/><use href="#hB" x="1400"/></g><text class="lr" transform="matrix(.64 0 0 1 28.5 2442.7)">B</text><text class="lr" x="36.56" y="2442.7">.</text><g class="s" transform="matrix(.14 0 0 .1176 28 2469.7)"><use href="#bo" x="100"/><use href="#dY" x="200"/><use href="#cm" x="300"/><use href="#hC" x="400"/><use href="#hD" x="500"/><use href="#ey" x="600"/><use href="#dN" x="700"/><use href="#gW" x="800"/><use href="#gI" x="900"/><use href="#bY" x="1000"/><use href="#bh" x="1100"/></g><text class="lr" transform="matrix(.59 0 0 1 28.5 2470.1)">C</text><text class="lr" x="36.56" y="2470.1">.</text><g class="s" transform="matrix(.14 0 0 .1176 28 2497.1)"><use href="#fq" x="100"/><use href="#dY" x="200"/><use href="#cm" x="300"/><use href="#hE" x="400"/><use href="#fu" x="500"/><use href="#R" x="600"/><use href="#co" x="700"/><use href="#cp" x="800"/><use href="#ey" x="900"/><use href="#hF" x="1000"/><use href="#cg" x="1100"/><use href="#cg" x="1200"/><use href="#gp" x="1300"/><use href="#bi" x="1400"/><use href="#hG" x="1500"/></g><text class="lr" transform="matrix(.59 0 0 1 28.5 2497.5)">D</text><text class="lr" x="36.56" y="2497.5">.</text><g class="s" transform="matrix(.14 0 0 .1176 28 2524.5)"><use href="#bU" x="100"/><use href="#bX" x="200"/><use href="#bd" x="300"/><use href="#gs" x="400"/><use href="#dk" x="500"/><use href="#fq" x="600"/><use href="#hH" x="700"/><use href="#hA" x="800"/><use href="#bg" x="900"/><use href="#gW" x="1000"/><use href="#hI" x="1100"/><use href="#hJ" x="1200"/></g><text class="lr" transform="matrix(.64 0 0 1 28.5 2524.9)">E</text><text class="lr" x="36.56" y="2524.9">.</text><g class="k" transform="matrix(.14 0 0 .126 28 2552.6)"><use href="#H" transform="matrix(1.5 0 0 1 -51.86 0)"/><use href="#I" x="100"/><use href="#J" x="200"/><use href="#K" transform="matrix(1.5 0 0 1 306.43 0)"/></g><text class="lb" transform="matrix(.64 0 0 1 84.25 2552.3)">B</text><text class="lb" transform="matrix(.64 0 0 1 91.25 2552.3)">C</text><text class="lb" transform="matrix(.64 0 0 1 98.25 2552.3)">D</text><text class="lb" transform="matrix(.7 0 0 1 105.25 2552.3)">E</text><g class="s" transform="matrix(.14 0 0 .1176 28 2579.3)"><use href="#H" transform="matrix(1.5 0 0 1 -51.86 0)"/><use href="#L" x="100"/><use href="#M" x="200"/><use href="#K" transform="matrix(1.5 0 0 1 306.43 0)"/><use href="#N" x="400"/><use href="#O" x="500"/><use href="#P" x="600"/><use href="#Q" x="700"/><use href="#R" x="800"/><use href="#S" x="900"/><use href="#bd" x="1000"/><use href="#be" x="1100"/><use href="#hm" x="1200"/><use href="#hn" x="1300"/><use href="#cW" x="1400"/><use href="#eh" x="1500"/><use href="#z" x="1600"/><use href="#hK" x="1700"/><use href="#bW" x="1800"/><use href="#hL" x="1900"/><use href="#hM" x="2000"/><use href="#gF" x="2100"/><use href="#hN" x="2200"/><use href="#bY" x="2300"/><use href="#bh" x="2400"/><use href="#u" x="2500"/><use href="#bq" x="2600"/><use href="#hm" x="2700"/><use href="#hn" x="2800"/><use href="#bd" x="2900"/><use href="#dM" x="3000"/><use href="#o" x="3100"/><use href="#bo" x="3200"/><use href="#dY" x="3300"/><use href="#cm" x="3400"/><use href="#hC" x="3500"/><use href="#hD" x="3600"/><use href="#ey" x="3700"/><use href="#dN" x="3800"/><use href="#gW" x="3900"/><use href="#gI" x="4000"/><use href="#bY" x="4100"/><use href="#bh" x="4200"/><use href="#cn" x="4300"/><use href="#bX" x="4400"/><use href="#bd" x="4500"/><use href="#p" x="4600"/><use href="#fq" x="4700"/><use href="#eY" x="4800"/></g><g class="s" transform="matrix(.14 0 0 .1176 0 2601.7)"><use href="#bg" x="0"/><use href="#gW" x="100"/><use href="#cn" x="200"/><use href="#hI" x="300"/><use href="#hJ" x="400"/><use href="#o" x="500"/><use href="#u" x="600"/><use href="#bq" x="700"/><use href="#hm" x="800"/><use href="#hn" x="900"/><use href="#bd" x="1000"/><use href="#dM" x="1100"/><use href="#bu" x="1200"/><use href="#cx" x="1300"/><use href="#bQ" x="1400"/><use href="#z" x="1500"/><use href="#hx" x="1600"/><use href="#eh" x="1700"/><use href="#cm" x="1800"/><use href="#hy" x="1900"/><use href="#hz" x="2000"/><use href="#df" x="2100"/><use href="#cg" x="2200"/><use href="#gp" x="2300"/><use href="#bj" x="2400"/><use href="#ba" x="2500"/><use href="#fq" x="2600"/><use href="#hA" x="2700"/><use href="#bT" x="2800"/><use href="#hB" x="2900"/><use href="#cn" x="3000"/><use href="#fq" x="3100"/><use href="#dY" x="3200"/><use href="#cm" x="3300"/><use href="#hE" x="3400"/><use href="#fu" x="3500"/><use href="#R" x="3600"/><use href="#co" x="3700"/><use href="#cp" x="3800"/><use href="#ey" x="3900"/><use href="#hF" x="4000"/><use href="#cg" x="4100"/><use href="#cg" x="4200"/><use href="#gp" x="4300"/><use href="#bi" x="4400"/><use href="#hG" x="4500"/><use href="#cn" x="4600"/><use href="#u" x="4700"/><use href="#bq" x="4800"/><use href="#hm" x="4900"/><use href="#hn" x="5000"/></g><g class="s" transform="matrix(.14 0 0 .1176 0 2624.1)"><use href="#bd" x="0"/><use href="#dM" x="100"/><use href="#cn" x="200"/><use href="#cx" x="300"/><use href="#bQ" x="400"/><use href="#bu" x="500"/><use href="#dN" x="600"/><use href="#hO" x="700"/><use href="#z" x="800"/></g><g class="s" transform="matrix(.14 0 0 .1176 28 2651.5)"><use href="#h" x="150"/><use href="#i" x="250"/><use href="#j" x="350"/><use href="#bb" x="450"/><use href="#bc" x="550"/><use href="#bd" x="650"/><use href="#be" x="750"/><use href="#bd" x="850"/><use href="#be" x="950"/><use href="#cd" x="1050"/><use href="#fH" x="1150"/><use href="#ce" x="1250"/><use href="#bK" x="1350"/><use href="#bL" x="1450"/><use href="#Z" x="1550"/><use href="#hP" x="1650"/><use href="#n" x="1750"/><use href="#o" x="1850"/><use href="#U" x="1950"/><use href="#ds" x="2050"/><use href="#bd" x="2150"/><use href="#be" x="2250"/><use href="#cd" x="2350"/><use href="#R" x="2450"/><use href="#fw" x="2550"/><use href="#l" x="2650"/><use href="#bV" x="2750"/><use href="#cY" x="2850"/><use href="#R" x="2950"/><use href="#di" x="3050"/><use href="#x" x="3150"/><use href="#y" x="3350"/><use href="#z" x="3450"/></g><text class="lr" transform="matrix(.77 0 0 1 28.5 2651.9)">8</text><text class="lr" transform="matrix(.77 0 0 1 35.5 2651.9)">0</text><text class="lr" x="43.56" y="2651.9">.</text><g class="s" transform="matrix(.14 0 0 .1176 28 2678.9)"><use href="#gP" x="100"/><use href="#bQ" x="200"/><use href="#bd" x="300"/><use href="#be" x="400"/><use href="#cd" x="500"/><use href="#fH" x="600"/><use href="#ce" x="700"/><use href="#fn" x="800"/><use href="#fv" x="900"/><use href="#bf" x="1000"/><use href="#q" x="1100"/><use href="#hp" x="1200"/><use href="#cb" x="1300"/><use href="#R" x="1400"/><use href="#dX" x="1500"/><use href="#bL" x="1600"/><use href="#cg" x="1700"/><use href="#gp" x="1800"/><use href="#o" x="1900"/><use href="#cw" x="2000"/><use href="#bd" x="2100"/><use href="#be" x="2200"/><use href="#cd" x="2300"/><use href="#cE" x="2400"/><use href="#df" x="2500"/><use href="#dg" x="2600"/><use href="#ce" x="2700"/><use href="#bL" x="2800"/><use href="#cg" x="2900"/><use href="#gp" x="3000"/><use href="#R" x="3100"/><use href="#Z" x="3200"/><use href="#ba" x="3300"/><use href="#bK" x="3400"/><use href="#bS" x="3500"/></g><text class="lr" transform="matrix(.64 0 0 1 28.5 2679.3)">A</text><text class="lr" x="36.56" y="2679.3">.</text><g class="s" transform="matrix(.14 0 0 .1176 28 2706.3)"><use href="#gP" x="100"/><use href="#bQ" x="200"/><use href="#bR" x="300"/><use href="#bS" x="400"/><use href="#fn" x="500"/><use href="#fv" x="600"/><use href="#fq" x="700"/><use href="#dY" x="800"/><use href="#hp" x="900"/><use href="#cb" x="1000"/><use href="#R" x="1100"/><use href="#dX" x="1200"/><use href="#bL" x="1300"/><use href="#cg" x="1400"/><use href="#gp" x="1500"/><use href="#o" x="1600"/><use href="#dX" x="1700"/><use href="#bL" x="1800"/><use href="#cg" x="1900"/><use href="#gp" x="2000"/><use href="#gk" x="2100"/><use href="#bt" x="2200"/><use href="#ei" x="2300"/><use href="#R" x="2400"/><use href="#bd" x="2500"/><use href="#be" x="2600"/><use href="#cd" x="2700"/><use href="#hQ" x="2800"/><use href="#w" x="2900"/><use href="#hR" x="3000"/><use href="#hS" x="3100"/><use href="#bd" x="3200"/><use href="#be" x="3300"/><use href="#cd" x="3400"/></g><text class="lr" transform="matrix(.64 0 0 1 28.5 2706.7)">B</text><text class="lr" x="36.56" y="2706.7">.</text><g class="s" transform="matrix(.14 0 0 .1176 28 2733.7)"><use href="#gP" x="100"/><use href="#bQ" x="200"/><use href="#ce" x="300"/><use href="#bL" x="400"/><use href="#cg" x="500"/><use href="#gp" x="600"/><use href="#R" x="700"/><use href="#o" x="800"/><use href="#bo" x="900"/><use href="#dY" x="1000"/><use href="#cm" x="1100"/><use href="#cE" x="1200"/><use href="#cF" x="1300"/><use href="#hT" x="1400"/><use href="#hU" x="1500"/><use href="#dj" x="1600"/><use href="#fq" x="1700"/><use href="#dY" x="1800"/><use href="#cm" x="1900"/><use href="#hE" x="2000"/><use href="#hV" x="2100"/><use href="#hW" x="2200"/><use href="#ca" x="2300"/><use href="#bd" x="2400"/><use href="#be" x="2500"/><use href="#cd" x="2600"/><use href="#fQ" x="2700"/><use href="#fR" x="2800"/></g><text class="lr" transform="matrix(.59 0 0 1 28.5 2734.1)">C</text><text class="lr" x="36.56" y="2734.1">.</text><g class="s" transform="matrix(.14 0 0 .1176 28 2761.1)"><use href="#gP" x="100"/><use href="#bQ" x="200"/><use href="#ce" x="300"/><use href="#bL" x="400"/><use href="#cg" x="500"/><use href="#gp" x="600"/><use href="#R" x="700"/><use href="#o" x="800"/><use href="#bd" x="900"/><use href="#be" x="1000"/><use href="#cd" x="1100"/><use href="#hX" x="1200"/><use href="#hY" x="1300"/><use href="#bq" x="1400"/><use href="#bo" x="1500"/><use href="#dY" x="1600"/><use href="#cm" x="1700"/><use href="#ca" x="1800"/><use href="#cb" x="1900"/><use href="#cg" x="2000"/><use href="#gp" x="2100"/><use href="#bd" x="2200"/><use href="#be" x="2300"/><use href="#cE" x="2400"/><use href="#cF" x="2500"/><use href="#bK" x="2600"/><use href="#bS" x="2700"/><use href="#R" x="2800"/><use href="#bd" x="2900"/><use href="#be" x="3000"/><use href="#cd" x="3100"/><use href="#cY" x="3200"/><use href="#ba" x="3300"/></g><text class="lr" transform="matrix(.59 0 0 1 28.5 2761.5)">D</text><text class="lr" x="36.56" y="2761.5">.</text><g class="s" transform="matrix(.14 0 0 .1176 28 2788.5)"><use href="#gP" x="100"/><use href="#bQ" x="200"/><use href="#ce" x="300"/><use href="#bL" x="400"/><use href="#cg" x="500"/><use href="#gp" x="600"/><use href="#R" x="700"/><use href="#o" x="800"/><use href="#fq" x="900"/><use href="#dY" x="1000"/><use href="#cm" x="1100"/><use href="#cE" x="1200"/><use href="#bU" x="1300"/><use href="#eE" x="1400"/><use href="#hD" x="1500"/><use href="#fQ" x="1600"/><use href="#fR" x="1700"/><use href="#hZ" x="1800"/><use href="#ia" x="1950"/><use href="#V" x="2050"/><use href="#ib" x="2150"/><use href="#eb" x="2250"/><use href="#o" x="2350"/><use href="#fT" x="2450"/><use href="#cT" x="2550"/><use href="#cY" x="2650"/><use href="#ba" x="2750"/><use href="#bK" x="2850"/><use href="#cd" x="2950"/><use href="#bv" x="3050"/><use href="#ic" x="3150"/></g><text class="lr" transform="matrix(.64 0 0 1 28.5 2788.9)">E</text><text class="lr" x="36.56" y="2788.9">.</text><text class="lr" transform="matrix(.77 0 0 1 294.5 2788.9)">7</text><g class="k" transform="matrix(.14 0 0 .126 28 2816.6)"><use href="#H" transform="matrix(1.5 0 0 1 -51.86 0)"/><use href="#I" x="100"/><use href="#J" x="200"/><use href="#K" transform="matrix(1.5 0 0 1 306.43 0)"/></g><text class="lb" transform="matrix(.64 0 0 1 84.25 2816.3)">A</text><text class="lb" transform="matrix(.64 0 0 1 91.25 2816.3)">C</text><text class="lb" transform="matrix(.64 0 0 1 98.25 2816.3)">D</text><g class="s" transform="matrix(.14 0 0 .1176 28 2843.3)"><use href="#H" transform="matrix(1.5 0 0 1 -51.86 0)"/><use href="#L" x="100"/><use href="#M" x="200"/><use href="#K" transform="matrix(1.5 0 0 1 306.43 0)"/><use href="#N" x="400"/><use href="#O" x="500"/><use href="#P" x="600"/><use href="#Q" x="700"/><use href="#R" x="800"/><use href="#S" x="900"/><use href="#bd" x="1000"/><use href="#be" x="1100"/><use href="#bK" x="1200"/><use href="#cd" x="1300"/><use href="#bu" x="1400"/><use href="#eF" x="1500"/><use href="#fb" x="1600"/><use href="#z" x="1700"/><use href="#gP" x="1800"/><use href="#bQ" x="1900"/><use href="#bd" x="2000"/><use href="#be" x="2100"/><use href="#cd" x="2200"/><use href="#fH" x="2300"/><use href="#ce" x="2400"/><use href="#fn" x="2500"/><use href="#fv" x="2600"/><use href="#bf" x="2700"/><use href="#q" x="2800"/><use href="#hp" x="2900"/><use href="#cb" x="3000"/><use href="#R" x="3100"/><use href="#dX" x="3200"/><use href="#bL" x="3300"/><use href="#cg" x="3400"/><use href="#gp" x="3500"/><use href="#o" x="3600"/><use href="#bd" x="3700"/><use href="#be" x="3800"/><use href="#cd" x="3900"/><use href="#cE" x="4000"/><use href="#df" x="4100"/><use href="#dg" x="4200"/><use href="#bO" x="4300"/><use href="#ce" x="4400"/><use href="#bL" x="4500"/><use href="#cg" x="4600"/><use href="#gp" x="4700"/><use href="#T" x="4800"/></g><g class="s" transform="matrix(.14 0 0 .1176 0 2865.7)"><use href="#gp" x="0"/><use href="#R" x="100"/><use href="#fn" x="200"/><use href="#fv" x="300"/><use href="#bK" x="400"/><use href="#bS" x="500"/><use href="#z" x="600"/><use href="#gP" x="700"/><use href="#bQ" x="800"/><use href="#ej" x="900"/><use href="#ib" x="1000"/><use href="#ba" x="1100"/><use href="#fK" x="1200"/><use href="#cy" x="1300"/><use href="#R" x="1400"/><use href="#bX" x="1500"/><use href="#bd" x="1600"/><use href="#fE" x="1700"/><use href="#fF" x="1800"/><use href="#cv" x="1900"/><use href="#cw" x="2000"/><use href="#bR" x="2100"/><use href="#bS" x="2200"/><use href="#fn" x="2300"/><use href="#fv" x="2400"/><use href="#fq" x="2500"/><use href="#dY" x="2600"/><use href="#hp" x="2700"/><use href="#cb" x="2800"/><use href="#R" x="2900"/><use href="#dX" x="3000"/><use href="#bL" x="3100"/><use href="#cg" x="3200"/><use href="#gp" x="3300"/><use href="#z" x="3400"/><use href="#cQ" x="3500"/><use href="#df" x="3600"/><use href="#dg" x="3700"/><use href="#bd" x="3800"/><use href="#be" x="3900"/><use href="#dS" x="4000"/><use href="#id" x="4100"/><use href="#Z" x="4200"/><use href="#ba" x="4300"/><use href="#ie" x="4400"/><use href="#if" x="4500"/><use href="#R" x="4600"/><use href="#bd" x="4700"/><use href="#be" x="4800"/><use href="#cd" x="4900"/><use href="#ig" x="5000"/></g><g class="s" transform="matrix(.14 0 0 .1176 0 2888.1)"><use href="#ih" x="0"/><use href="#dc" x="100"/><use href="#o" x="200"/><use href="#dX" x="300"/><use href="#bL" x="400"/><use href="#cg" x="500"/><use href="#gp" x="600"/><use href="#gk" x="700"/><use href="#bt" x="800"/><use href="#ei" x="900"/><use href="#R" x="1000"/><use href="#bd" x="1100"/><use href="#be" x="1200"/><use href="#cd" x="1300"/><use href="#S" x="1400"/><use href="#bo" x="1500"/><use href="#dY" x="1600"/><use href="#cm" x="1700"/><use href="#bQ" x="1800"/><use href="#ds" x="1900"/><use href="#bv" x="2000"/><use href="#bS" x="2100"/><use href="#R" x="2200"/><use href="#hR" x="2300"/><use href="#hS" x="2400"/><use href="#bd" x="2500"/><use href="#be" x="2600"/><use href="#cd" x="2700"/><use href="#z" x="2800"/><use href="#dX" x="2900"/><use href="#bL" x="3000"/><use href="#cg" x="3100"/><use href="#gp" x="3200"/><use href="#bj" x="3300"/><use href="#ba" x="3400"/><use href="#R" x="3500"/><use href="#bt" x="3600"/><use href="#ei" x="3700"/><use href="#bK" x="3800"/><use href="#cd" x="3900"/><use href="#cE" x="4000"/><use href="#bq" x="4100"/><use href="#cg" x="4200"/><use href="#gp" x="4300"/><use href="#bd" x="4400"/><use href="#be" x="4500"/><use href="#ej" x="4600"/><use href="#ib" x="4700"/><use href="#ba" x="4800"/><use href="#fK" x="4900"/><use href="#cy" x="5000"/></g><g class="s" transform="matrix(.14 0 0 .1176 0 2910.5)"><use href="#R" x="0"/><use href="#bX" x="100"/><use href="#bd" x="200"/><use href="#fE" x="300"/><use href="#fF" x="400"/><use href="#w" x="500"/><use href="#fi" x="600"/><use href="#i" x="700"/><use href="#o" x="800"/><use href="#fq" x="900"/><use href="#bo" x="1000"/><use href="#dY" x="1100"/><use href="#ii" x="1200"/><use href="#fn" x="1300"/><use href="#cE" x="1400"/><use href="#bU" x="1500"/><use href="#cg" x="1600"/><use href="#gp" x="1700"/><use href="#p" x="1800"/><use href="#bj" x="1900"/><use href="#ba" x="2000"/><use href="#bd" x="2100"/><use href="#be" x="2200"/><use href="#bK" x="2300"/><use href="#cd" x="2400"/><use href="#R" x="2500"/><use href="#hp" x="2600"/><use href="#by" x="2700"/><use href="#ei" x="2800"/><use href="#q" x="2900"/><use href="#fM" x="3000"/><use href="#dQ" x="3100"/><use href="#dR" x="3200"/><use href="#ij" x="3300"/><use href="#ik" x="3400"/><use href="#ez" x="3500"/><use href="#cT" x="3600"/><use href="#bK" x="3700"/><use href="#cd" x="3800"/><use href="#z" x="3900"/><use href="#ce" x="4000"/><use href="#bL" x="4100"/><use href="#cg" x="4200"/><use href="#gp" x="4300"/><use href="#bd" x="4400"/><use href="#be" x="4500"/><use href="#cd" x="4600"/><use href="#hX" x="4700"/><use href="#hY" x="4800"/><use href="#bq" x="4900"/><use href="#bo" x="5000"/></g><g class="s" transform="matrix(.14 0 0 .1176 0 2932.9)"><use href="#dY" x="0"/><use href="#cm" x="100"/><use href="#ca" x="200"/><use href="#cb" x="300"/><use href="#cg" x="400"/><use href="#gp" x="500"/><use href="#bd" x="600"/><use href="#be" x="700"/><use href="#cE" x="800"/><use href="#il" x="900"/><use href="#bK" x="1000"/><use href="#cd" x="1100"/><use href="#R" x="1200"/><use href="#o" x="1300"/><use href="#df" x="1400"/><use href="#dg" x="1500"/><use href="#im" x="1600"/><use href="#ea" x="1700"/><use href="#bd" x="1800"/><use href="#be" x="1900"/><use href="#bd" x="2000"/><use href="#be" x="2100"/><use href="#cd" x="2200"/><use href="#bK" x="2300"/><use href="#bS" x="2400"/><use href="#Z" x="2500"/><use href="#hP" x="2600"/><use href="#Z" x="2700"/><use href="#ba" x="2800"/><use href="#R" x="2900"/><use href="#bd" x="3000"/><use href="#be" x="3100"/><use href="#cd" x="3200"/><use href="#bK" x="3300"/><use href="#bS" x="3400"/><use href="#Z" x="3500"/><use href="#bn" x="3600"/><use href="#bK" x="3700"/><use href="#bS" x="3800"/><use href="#in" x="3900"/><use href="#hD" x="4000"/><use href="#R" x="4100"/><use href="#bd" x="4200"/><use href="#be" x="4300"/><use href="#cd" x="4400"/><use href="#cY" x="4500"/><use href="#ba" x="4600"/><use href="#z" x="4700"/><use href="#bX" x="4800"/><use href="#bd" x="4900"/><use href="#p" x="5000"/></g><g class="s" transform="matrix(.14 0 0 .1176 0 2955.3)"><use href="#bd" x="0"/><use href="#be" x="100"/><use href="#bK" x="200"/><use href="#cd" x="300"/><use href="#dQ" x="400"/><use href="#o" x="500"/><use href="#io" x="600"/><use href="#fq" x="700"/><use href="#eY" x="800"/><use href="#bf" x="900"/><use href="#q" x="1000"/><use href="#bd" x="1100"/><use href="#be" x="1200"/><use href="#cd" x="1300"/><use href="#fH" x="1400"/><use href="#ce" x="1500"/><use href="#p" x="1600"/><use href="#hA" x="1700"/><use href="#eY" x="1800"/><use href="#ip" x="1900"/><use href="#bt" x="2000"/><use href="#cn" x="2100"/><use href="#bd" x="2200"/><use href="#be" x="2300"/><use href="#cd" x="2400"/><use href="#iq" x="2500"/><use href="#dK" x="2600"/><use href="#o" x="2700"/><use href="#fM" x="2800"/><use href="#ir" x="2900"/><use href="#bd" x="3000"/><use href="#be" x="3100"/><use href="#dS" x="3200"/><use href="#id" x="3300"/><use href="#ie" x="3400"/><use href="#if" x="3500"/><use href="#bd" x="3600"/><use href="#be" x="3700"/><use href="#cd" x="3800"/><use href="#R" x="3900"/><use href="#ig" x="4000"/><use href="#ih" x="4100"/><use href="#o" x="4200"/><use href="#cE" x="4300"/><use href="#df" x="4400"/><use href="#bo" x="4500"/><use href="#dY" x="4600"/><use href="#cm" x="4700"/><use href="#bU" x="4800"/><use href="#is" x="4900"/><use href="#cT" x="5000"/></g><g class="s" transform="matrix(.14 0 0 .1176 0 2977.7)"><use href="#cg" x="0"/><use href="#gp" x="100"/><use href="#it" x="200"/><use href="#cR" x="300"/><use href="#p" x="400"/><use href="#ca" x="500"/><use href="#cb" x="600"/><use href="#R" x="700"/><use href="#bd" x="800"/><use href="#be" x="900"/><use href="#cd" x="1000"/><use href="#bK" x="1100"/><use href="#bS" x="1200"/><use href="#z" x="1300"/></g></g></svg></body></html>
